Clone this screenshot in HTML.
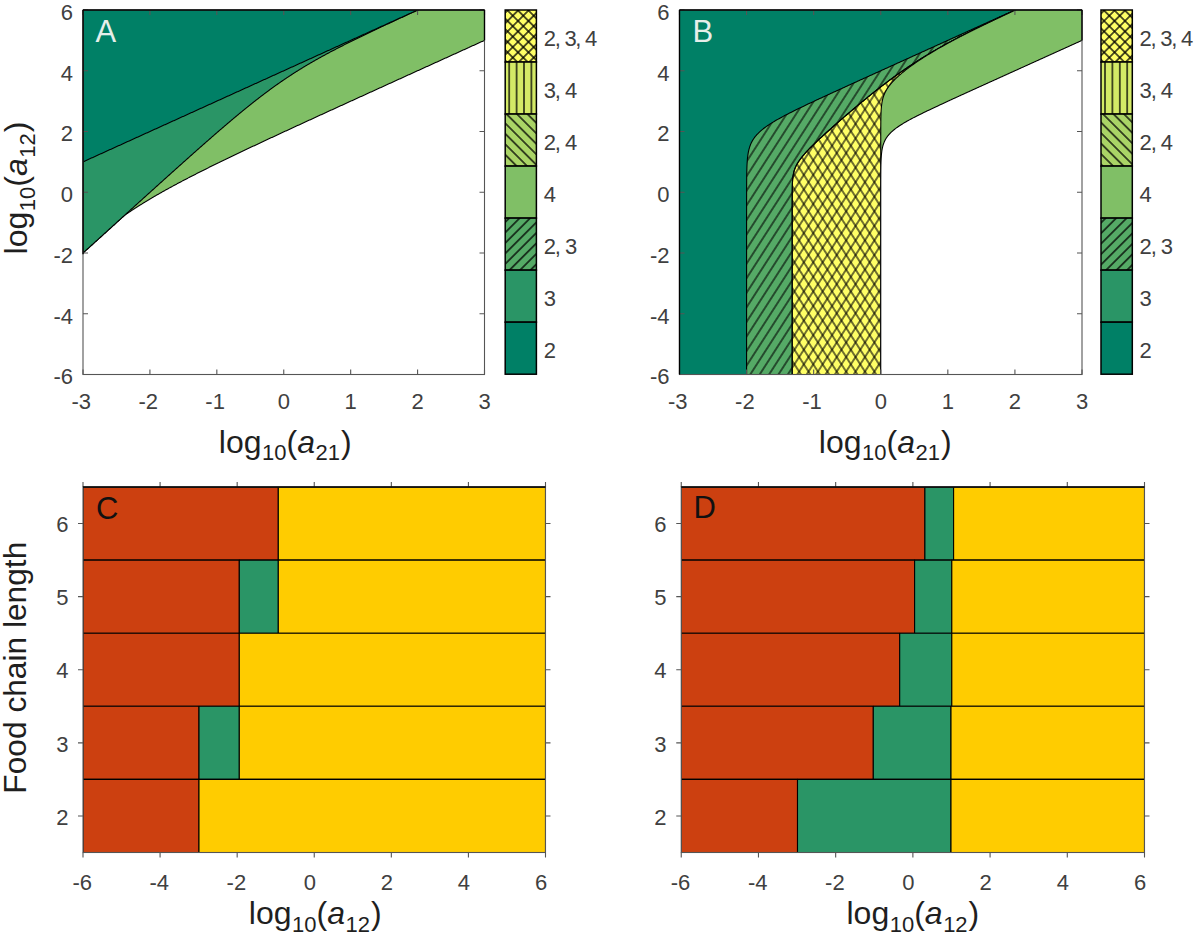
<!DOCTYPE html>
<html><head><meta charset="utf-8"><title>Figure</title>
<style>
html,body{margin:0;padding:0;background:#fff;width:1200px;height:936px;overflow:hidden}
svg{display:block}
text{font-family:"Liberation Sans",sans-serif}
.t{font-size:22px;fill:#404040}
.L{font-size:32px;fill:#1f1f1f}
.L .s{font-size:22px}
.P{font-size:31px}
</style></head><body>
<svg width="1200" height="936" viewBox="0 0 1200 936"><defs><pattern id="hB_f" patternUnits="userSpaceOnUse" width="7.9" height="20" patternTransform="rotate(32.83)"><rect x="3.4" y="0" width="1.1" height="20" fill="#000"/></pattern><pattern id="hB_b" patternUnits="userSpaceOnUse" width="7.9" height="20" patternTransform="rotate(-32.83)"><rect x="3.4" y="0" width="1.1" height="20" fill="#000"/></pattern><pattern id="hC_f" patternUnits="userSpaceOnUse" width="7.4" height="20" patternTransform="rotate(45)"><rect x="3.05" y="0" width="1.3" height="20" fill="#000"/></pattern><pattern id="hC_b" patternUnits="userSpaceOnUse" width="7.4" height="20" patternTransform="rotate(-45)"><rect x="3.05" y="0" width="1.3" height="20" fill="#000"/></pattern><pattern id="hC_v0" patternUnits="userSpaceOnUse" width="7.4" height="20" patternTransform="rotate(0) translate(2.3 0)"><rect x="3.05" y="0" width="1.3" height="20" fill="#000"/></pattern><pattern id="hC_v1" patternUnits="userSpaceOnUse" width="7.4" height="20" patternTransform="rotate(0) translate(6.1 0)"><rect x="3.05" y="0" width="1.3" height="20" fill="#000"/></pattern><clipPath id="clipA"><rect x="83" y="10" width="401.5" height="364.5"/></clipPath><clipPath id="clipB"><rect x="679.5" y="10" width="402.5" height="364.5"/></clipPath><clipPath id="clipC"><rect x="83" y="487" width="462.5" height="365.5"/></clipPath><clipPath id="clipD"><rect x="681.25" y="487" width="463.25" height="365.5"/></clipPath></defs><g clip-path="url(#clipA)">
<rect x="83" y="10" width="401.5" height="364.5" fill="#fff"/>
<path d="M83 253.01 L83.52 252.54 L84.04 252.07 L84.56 251.6 L85.08 251.13 L85.6 250.66 L86.12 250.19 L86.63 249.72 L87.15 249.24 L87.67 248.77 L88.19 248.3 L88.71 247.83 L89.23 247.36 L89.75 246.89 L90.27 246.42 L90.79 245.95 L91.31 245.48 L91.83 245 L92.35 244.53 L92.87 244.06 L93.39 243.59 L93.9 243.12 L94.42 242.65 L94.94 242.18 L95.46 241.71 L95.98 241.24 L96.5 240.76 L97.02 240.29 L97.54 239.82 L98.06 239.35 L98.58 238.88 L99.1 238.41 L99.62 237.94 L100.14 237.47 L100.65 237 L101.17 236.53 L101.69 236.05 L102.21 235.58 L102.73 235.11 L103.25 234.64 L103.77 234.17 L104.29 233.7 L104.81 233.23 L105.33 232.76 L105.85 232.29 L106.37 231.82 L106.89 231.35 L107.4 230.87 L107.92 230.4 L108.44 229.93 L108.96 229.46 L109.48 228.99 L110 228.52 L110.52 228.05 L111.04 227.58 L111.56 227.11 L112.08 226.64 L112.6 226.17 L113.12 225.7 L113.64 225.23 L114.16 224.75 L114.67 224.28 L115.19 223.81 L115.71 223.34 L116.23 222.87 L116.75 222.4 L117.27 221.93 L117.79 221.46 L118.31 220.99 L118.83 220.52 L119.35 220.05 L119.87 219.58 L120.39 219.11 L120.91 218.64 L121.42 218.17 L121.94 217.7 L122.46 217.22 L122.98 216.75 L123.5 216.28 L124.02 215.81 L124.54 215.34 L125.06 214.95 L125.58 214.6 L126.1 214.24 L126.62 213.89 L127.14 213.53 L127.66 213.18 L128.18 212.83 L128.69 212.48 L129.21 212.13 L129.73 211.78 L130.25 211.44 L130.77 211.09 L131.29 210.75 L131.81 210.4 L132.33 210.06 L132.85 209.72 L133.37 209.38 L133.89 209.04 L134.41 208.71 L134.93 208.37 L135.44 208.04 L135.96 207.7 L136.48 207.37 L137 207.04 L137.52 206.71 L138.04 206.38 L138.56 206.05 L139.08 205.72 L139.6 205.39 L140.12 205.07 L140.64 204.74 L141.16 204.42 L141.68 204.1 L142.19 203.77 L142.71 203.45 L143.23 203.13 L143.75 202.81 L144.27 202.49 L144.79 202.18 L145.31 201.86 L145.83 201.54 L146.35 201.23 L146.87 200.91 L147.39 200.6 L147.91 200.29 L148.43 199.98 L148.95 199.67 L149.46 199.36 L149.98 199.05 L150.5 198.74 L151.02 198.43 L151.54 198.12 L152.06 197.82 L152.58 197.51 L153.1 197.21 L153.62 196.9 L154.14 196.6 L154.66 196.3 L155.18 196 L155.7 195.69 L156.21 195.39 L156.73 195.09 L157.25 194.8 L157.77 194.5 L158.29 194.2 L158.81 193.9 L159.33 193.61 L159.85 193.31 L160.37 193.01 L160.89 192.72 L161.41 192.43 L161.93 192.13 L162.45 191.84 L162.96 191.55 L163.48 191.26 L164 190.97 L164.52 190.68 L165.04 190.39 L165.56 190.1 L166.08 189.81 L166.6 189.52 L167.12 189.23 L167.64 188.95 L168.16 188.66 L168.68 188.38 L169.2 188.09 L169.72 187.81 L170.23 187.52 L170.75 187.24 L171.27 186.95 L171.79 186.67 L172.31 186.39 L172.83 186.11 L173.35 185.83 L173.87 185.55 L174.39 185.27 L174.91 184.99 L175.43 184.71 L175.95 184.43 L176.47 184.15 L176.98 183.87 L177.5 183.6 L178.02 183.32 L178.54 183.04 L179.06 182.77 L179.58 182.49 L180.1 182.21 L180.62 181.94 L181.14 181.67 L181.66 181.39 L182.18 181.12 L182.7 180.85 L183.22 180.57 L183.74 180.3 L184.25 180.03 L184.77 179.76 L185.29 179.49 L185.81 179.21 L186.33 178.94 L186.85 178.67 L187.37 178.4 L187.89 178.13 L188.41 177.87 L188.93 177.6 L189.45 177.33 L189.97 177.06 L190.49 176.79 L191 176.53 L191.52 176.26 L192.04 175.99 L192.56 175.73 L193.08 175.46 L193.6 175.19 L194.12 174.93 L194.64 174.66 L195.16 174.4 L195.68 174.14 L196.2 173.87 L196.72 173.61 L197.24 173.34 L197.75 173.08 L198.27 172.82 L198.79 172.56 L199.31 172.29 L199.83 172.03 L200.35 171.77 L200.87 171.51 L201.39 171.25 L201.91 170.99 L202.43 170.73 L202.95 170.47 L203.47 170.21 L203.99 169.95 L204.51 169.69 L205.02 169.43 L205.54 169.17 L206.06 168.91 L206.58 168.65 L207.1 168.39 L207.62 168.13 L208.14 167.88 L208.66 167.62 L209.18 167.36 L209.7 167.1 L210.22 166.85 L210.74 166.59 L211.26 166.33 L211.77 166.08 L212.29 165.82 L212.81 165.57 L213.33 165.31 L213.85 165.05 L214.37 164.8 L214.89 164.54 L215.41 164.29 L215.93 164.04 L216.45 163.78 L216.97 163.53 L217.49 163.27 L218.01 163.02 L218.53 162.77 L219.04 162.51 L219.56 162.26 L220.08 162.01 L220.6 161.75 L221.12 161.5 L221.64 161.25 L222.16 161 L222.68 160.74 L223.2 160.49 L223.72 160.24 L224.24 159.99 L224.76 159.74 L225.28 159.49 L225.79 159.23 L226.31 158.98 L226.83 158.73 L227.35 158.48 L227.87 158.23 L228.39 157.98 L228.91 157.73 L229.43 157.48 L229.95 157.23 L230.47 156.98 L230.99 156.73 L231.51 156.48 L232.03 156.23 L232.54 155.98 L233.06 155.74 L233.58 155.49 L234.1 155.24 L234.62 154.99 L235.14 154.74 L235.66 154.49 L236.18 154.24 L236.7 154 L237.22 153.75 L237.74 153.5 L238.26 153.25 L238.78 153.01 L239.3 152.76 L239.81 152.51 L240.33 152.26 L240.85 152.02 L241.37 151.77 L241.89 151.52 L242.41 151.28 L242.93 151.03 L243.45 150.78 L243.97 150.54 L244.49 150.29 L245.01 150.05 L245.53 149.8 L246.05 149.55 L246.56 149.31 L247.08 149.06 L247.6 148.82 L248.12 148.57 L248.64 148.33 L249.16 148.08 L249.68 147.84 L250.2 147.59 L250.72 147.35 L251.24 147.1 L251.76 146.86 L252.28 146.61 L252.8 146.37 L253.32 146.12 L253.83 145.88 L254.35 145.64 L254.87 145.39 L255.39 145.15 L255.91 144.9 L256.43 144.66 L256.95 144.42 L257.47 144.17 L257.99 143.93 L258.51 143.68 L259.03 143.44 L259.55 143.2 L260.07 142.95 L260.58 142.71 L261.1 142.47 L261.62 142.23 L262.14 141.98 L262.66 141.74 L263.18 141.5 L263.7 141.25 L264.22 141.01 L264.74 140.77 L265.26 140.53 L265.78 140.28 L266.3 140.04 L266.82 139.8 L267.33 139.56 L267.85 139.31 L268.37 139.07 L268.89 138.83 L269.41 138.59 L269.93 138.35 L270.45 138.1 L270.97 137.86 L271.49 137.62 L272.01 137.38 L272.53 137.14 L273.05 136.9 L273.57 136.66 L274.09 136.41 L274.6 136.17 L275.12 135.93 L275.64 135.69 L276.16 135.45 L276.68 135.21 L277.2 134.97 L277.72 134.73 L278.24 134.48 L278.76 134.24 L279.28 134 L279.8 133.76 L280.32 133.52 L280.84 133.28 L281.35 133.04 L281.87 132.8 L282.39 132.56 L282.91 132.32 L283.43 132.08 L283.95 131.84 L284.47 131.6 L284.99 131.36 L285.51 131.12 L286.03 130.88 L286.55 130.64 L287.07 130.4 L287.59 130.16 L288.11 129.92 L288.62 129.68 L289.14 129.44 L289.66 129.2 L290.18 128.96 L290.7 128.72 L291.22 128.48 L291.74 128.24 L292.26 128 L292.78 127.76 L293.3 127.52 L293.82 127.28 L294.34 127.04 L294.86 126.8 L295.37 126.56 L295.89 126.32 L296.41 126.08 L296.93 125.84 L297.45 125.61 L297.97 125.37 L298.49 125.13 L299.01 124.89 L299.53 124.65 L300.05 124.41 L300.57 124.17 L301.09 123.93 L301.61 123.69 L302.12 123.45 L302.64 123.22 L303.16 122.98 L303.68 122.74 L304.2 122.5 L304.72 122.26 L305.24 122.02 L305.76 121.78 L306.28 121.54 L306.8 121.31 L307.32 121.07 L307.84 120.83 L308.36 120.59 L308.88 120.35 L309.39 120.11 L309.91 119.88 L310.43 119.64 L310.95 119.4 L311.47 119.16 L311.99 118.92 L312.51 118.68 L313.03 118.45 L313.55 118.21 L314.07 117.97 L314.59 117.73 L315.11 117.49 L315.63 117.25 L316.14 117.02 L316.66 116.78 L317.18 116.54 L317.7 116.3 L318.22 116.06 L318.74 115.83 L319.26 115.59 L319.78 115.35 L320.3 115.11 L320.82 114.87 L321.34 114.64 L321.86 114.4 L322.38 114.16 L322.89 113.92 L323.41 113.69 L323.93 113.45 L324.45 113.21 L324.97 112.97 L325.49 112.73 L326.01 112.5 L326.53 112.26 L327.05 112.02 L327.57 111.78 L328.09 111.55 L328.61 111.31 L329.13 111.07 L329.65 110.83 L330.16 110.6 L330.68 110.36 L331.2 110.12 L331.72 109.88 L332.24 109.65 L332.76 109.41 L333.28 109.17 L333.8 108.93 L334.32 108.7 L334.84 108.46 L335.36 108.22 L335.88 107.99 L336.4 107.75 L336.91 107.51 L337.43 107.27 L337.95 107.04 L338.47 106.8 L338.99 106.56 L339.51 106.33 L340.03 106.09 L340.55 105.85 L341.07 105.61 L341.59 105.38 L342.11 105.14 L342.63 104.9 L343.15 104.67 L343.67 104.43 L344.18 104.19 L344.7 103.95 L345.22 103.72 L345.74 103.48 L346.26 103.24 L346.78 103.01 L347.3 102.77 L347.82 102.53 L348.34 102.3 L348.86 102.06 L349.38 101.82 L349.9 101.58 L350.42 101.35 L350.93 101.11 L351.45 100.87 L351.97 100.64 L352.49 100.4 L353.01 100.16 L353.53 99.93 L354.05 99.69 L354.57 99.45 L355.09 99.22 L355.61 98.98 L356.13 98.74 L356.65 98.51 L357.17 98.27 L357.68 98.03 L358.2 97.8 L358.72 97.56 L359.24 97.32 L359.76 97.09 L360.28 96.85 L360.8 96.61 L361.32 96.38 L361.84 96.14 L362.36 95.9 L362.88 95.67 L363.4 95.43 L363.92 95.19 L364.44 94.96 L364.95 94.72 L365.47 94.48 L365.99 94.25 L366.51 94.01 L367.03 93.77 L367.55 93.54 L368.07 93.3 L368.59 93.06 L369.11 92.83 L369.63 92.59 L370.15 92.35 L370.67 92.12 L371.19 91.88 L371.7 91.65 L372.22 91.41 L372.74 91.17 L373.26 90.94 L373.78 90.7 L374.3 90.46 L374.82 90.23 L375.34 89.99 L375.86 89.75 L376.38 89.52 L376.9 89.28 L377.42 89.04 L377.94 88.81 L378.46 88.57 L378.97 88.34 L379.49 88.1 L380.01 87.86 L380.53 87.63 L381.05 87.39 L381.57 87.15 L382.09 86.92 L382.61 86.68 L383.13 86.45 L383.65 86.21 L384.17 85.97 L384.69 85.74 L385.21 85.5 L385.72 85.26 L386.24 85.03 L386.76 84.79 L387.28 84.56 L387.8 84.32 L388.32 84.08 L388.84 83.85 L389.36 83.61 L389.88 83.37 L390.4 83.14 L390.92 82.9 L391.44 82.67 L391.96 82.43 L392.47 82.19 L392.99 81.96 L393.51 81.72 L394.03 81.48 L394.55 81.25 L395.07 81.01 L395.59 80.78 L396.11 80.54 L396.63 80.3 L397.15 80.07 L397.67 79.83 L398.19 79.6 L398.71 79.36 L399.23 79.12 L399.74 78.89 L400.26 78.65 L400.78 78.41 L401.3 78.18 L401.82 77.94 L402.34 77.71 L402.86 77.47 L403.38 77.23 L403.9 77 L404.42 76.76 L404.94 76.53 L405.46 76.29 L405.98 76.05 L406.49 75.82 L407.01 75.58 L407.53 75.35 L408.05 75.11 L408.57 74.87 L409.09 74.64 L409.61 74.4 L410.13 74.17 L410.65 73.93 L411.17 73.69 L411.69 73.46 L412.21 73.22 L412.73 72.99 L413.25 72.75 L413.76 72.51 L414.28 72.28 L414.8 72.04 L415.32 71.8 L415.84 71.57 L416.36 71.33 L416.88 71.1 L417.4 70.86 L417.92 70.62 L418.44 70.39 L418.96 70.15 L419.48 69.92 L420 69.68 L420.51 69.45 L421.03 69.21 L421.55 68.97 L422.07 68.74 L422.59 68.5 L423.11 68.27 L423.63 68.03 L424.15 67.79 L424.67 67.56 L425.19 67.32 L425.71 67.09 L426.23 66.85 L426.75 66.61 L427.26 66.38 L427.78 66.14 L428.3 65.91 L428.82 65.67 L429.34 65.43 L429.86 65.2 L430.38 64.96 L430.9 64.73 L431.42 64.49 L431.94 64.25 L432.46 64.02 L432.98 63.78 L433.5 63.55 L434.02 63.31 L434.53 63.07 L435.05 62.84 L435.57 62.6 L436.09 62.37 L436.61 62.13 L437.13 61.9 L437.65 61.66 L438.17 61.42 L438.69 61.19 L439.21 60.95 L439.73 60.72 L440.25 60.48 L440.77 60.24 L441.28 60.01 L441.8 59.77 L442.32 59.54 L442.84 59.3 L443.36 59.06 L443.88 58.83 L444.4 58.59 L444.92 58.36 L445.44 58.12 L445.96 57.89 L446.48 57.65 L447 57.41 L447.52 57.18 L448.04 56.94 L448.55 56.71 L449.07 56.47 L449.59 56.23 L450.11 56 L450.63 55.76 L451.15 55.53 L451.67 55.29 L452.19 55.05 L452.71 54.82 L453.23 54.58 L453.75 54.35 L454.27 54.11 L454.79 53.88 L455.3 53.64 L455.82 53.4 L456.34 53.17 L456.86 52.93 L457.38 52.7 L457.9 52.46 L458.42 52.22 L458.94 51.99 L459.46 51.75 L459.98 51.52 L460.5 51.28 L461.02 51.05 L461.54 50.81 L462.05 50.57 L462.57 50.34 L463.09 50.1 L463.61 49.87 L464.13 49.63 L464.65 49.4 L465.17 49.16 L465.69 48.92 L466.21 48.69 L466.73 48.45 L467.25 48.22 L467.77 47.98 L468.29 47.74 L468.81 47.51 L469.32 47.27 L469.84 47.04 L470.36 46.8 L470.88 46.57 L471.4 46.33 L471.92 46.09 L472.44 45.86 L472.96 45.62 L473.48 45.39 L474 45.15 L474.52 44.91 L475.04 44.68 L475.56 44.44 L476.07 44.21 L476.59 43.97 L477.11 43.74 L477.63 43.5 L478.15 43.26 L478.67 43.03 L479.19 42.79 L479.71 42.56 L480.23 42.32 L480.75 42.09 L481.27 41.85 L481.79 41.61 L482.31 41.38 L482.82 41.14 L483.34 40.91 L483.86 40.67 L484.38 40.44 L484.9 40.2 L485.42 39.96 L485.94 39.73 L486.46 39.49 L486.98 39.26 L487.5 39.02 L488.02 38.78 L488.54 38.55 L489.06 38.31 L489.58 38.08 L490.09 37.84 L490.61 37.61 L491.13 37.37 L491.65 37.13 L492.17 36.9 L492.69 36.66 L493.21 36.43 L493.73 36.19 L494.25 35.96 L494.77 35.72 L495.29 35.48 L495.81 35.25 L496.33 35.01 L496.84 34.78 L497.36 34.54 L497.88 34.31 L497.88 -5.19 L83 -5.19 Z" fill="#80bf66" stroke="#000" stroke-width="1.1" stroke-linejoin="round"/>
<path d="M83 253.01 L83.52 252.54 L84.04 252.07 L84.56 251.6 L85.08 251.13 L85.6 250.66 L86.12 250.19 L86.63 249.72 L87.15 249.24 L87.67 248.77 L88.19 248.3 L88.71 247.83 L89.23 247.36 L89.75 246.89 L90.27 246.42 L90.79 245.95 L91.31 245.48 L91.83 245 L92.35 244.53 L92.87 244.06 L93.39 243.59 L93.9 243.12 L94.42 242.65 L94.94 242.18 L95.46 241.71 L95.98 241.24 L96.5 240.76 L97.02 240.29 L97.54 239.82 L98.06 239.35 L98.58 238.88 L99.1 238.41 L99.62 237.94 L100.14 237.47 L100.65 237 L101.17 236.53 L101.69 236.05 L102.21 235.58 L102.73 235.11 L103.25 234.64 L103.77 234.17 L104.29 233.7 L104.81 233.23 L105.33 232.76 L105.85 232.29 L106.37 231.82 L106.89 231.35 L107.4 230.87 L107.92 230.4 L108.44 229.93 L108.96 229.46 L109.48 228.99 L110 228.52 L110.52 228.05 L111.04 227.58 L111.56 227.11 L112.08 226.64 L112.6 226.17 L113.12 225.7 L113.64 225.23 L114.16 224.75 L114.67 224.28 L115.19 223.81 L115.71 223.34 L116.23 222.87 L116.75 222.4 L117.27 221.93 L117.79 221.46 L118.31 220.99 L118.83 220.52 L119.35 220.05 L119.87 219.58 L120.39 219.11 L120.91 218.64 L121.42 218.17 L121.94 217.7 L122.46 217.22 L122.98 216.75 L123.5 216.28 L124.02 215.81 L124.54 215.34 L125.06 214.87 L125.58 214.4 L126.1 213.93 L126.62 213.46 L127.14 212.99 L127.66 212.52 L128.18 212.05 L128.69 211.58 L129.21 211.11 L129.73 210.64 L130.25 210.17 L130.77 209.7 L131.29 209.23 L131.81 208.76 L132.33 208.29 L132.85 207.82 L133.37 207.35 L133.89 206.88 L134.41 206.41 L134.93 205.94 L135.44 205.47 L135.96 205 L136.48 204.53 L137 204.06 L137.52 203.59 L138.04 203.12 L138.56 202.65 L139.08 202.18 L139.6 201.71 L140.12 201.24 L140.64 200.77 L141.16 200.3 L141.68 199.83 L142.19 199.36 L142.71 198.89 L143.23 198.42 L143.75 197.95 L144.27 197.48 L144.79 197.01 L145.31 196.54 L145.83 196.07 L146.35 195.61 L146.87 195.14 L147.39 194.67 L147.91 194.2 L148.43 193.73 L148.95 193.26 L149.46 192.79 L149.98 192.32 L150.5 191.85 L151.02 191.38 L151.54 190.91 L152.06 190.44 L152.58 189.98 L153.1 189.51 L153.62 189.04 L154.14 188.57 L154.66 188.1 L155.18 187.63 L155.7 187.16 L156.21 186.7 L156.73 186.23 L157.25 185.76 L157.77 185.29 L158.29 184.82 L158.81 184.35 L159.33 183.89 L159.85 183.42 L160.37 182.95 L160.89 182.48 L161.41 182.01 L161.93 181.54 L162.45 181.08 L162.96 180.61 L163.48 180.14 L164 179.67 L164.52 179.21 L165.04 178.74 L165.56 178.27 L166.08 177.8 L166.6 177.34 L167.12 176.87 L167.64 176.4 L168.16 175.93 L168.68 175.47 L169.2 175 L169.72 174.53 L170.23 174.07 L170.75 173.6 L171.27 173.13 L171.79 172.67 L172.31 172.2 L172.83 171.73 L173.35 171.27 L173.87 170.8 L174.39 170.34 L174.91 169.87 L175.43 169.4 L175.95 168.94 L176.47 168.47 L176.98 168.01 L177.5 167.54 L178.02 167.08 L178.54 166.61 L179.06 166.15 L179.58 165.68 L180.1 165.22 L180.62 164.75 L181.14 164.29 L181.66 163.82 L182.18 163.36 L182.7 162.89 L183.22 162.43 L183.74 161.96 L184.25 161.5 L184.77 161.04 L185.29 160.57 L185.81 160.11 L186.33 159.64 L186.85 159.18 L187.37 158.72 L187.89 158.26 L188.41 157.79 L188.93 157.33 L189.45 156.87 L189.97 156.4 L190.49 155.94 L191 155.48 L191.52 155.02 L192.04 154.56 L192.56 154.09 L193.08 153.63 L193.6 153.17 L194.12 152.71 L194.64 152.25 L195.16 151.79 L195.68 151.33 L196.2 150.87 L196.72 150.41 L197.24 149.95 L197.75 149.49 L198.27 149.03 L198.79 148.57 L199.31 148.11 L199.83 147.65 L200.35 147.19 L200.87 146.73 L201.39 146.27 L201.91 145.82 L202.43 145.36 L202.95 144.9 L203.47 144.44 L203.99 143.99 L204.51 143.53 L205.02 143.07 L205.54 142.61 L206.06 142.16 L206.58 141.7 L207.1 141.25 L207.62 140.79 L208.14 140.34 L208.66 139.88 L209.18 139.43 L209.7 138.97 L210.22 138.52 L210.74 138.06 L211.26 137.61 L211.77 137.16 L212.29 136.7 L212.81 136.25 L213.33 135.8 L213.85 135.35 L214.37 134.89 L214.89 134.44 L215.41 133.99 L215.93 133.54 L216.45 133.09 L216.97 132.64 L217.49 132.19 L218.01 131.74 L218.53 131.29 L219.04 130.84 L219.56 130.4 L220.08 129.95 L220.6 129.5 L221.12 129.05 L221.64 128.61 L222.16 128.16 L222.68 127.71 L223.2 127.27 L223.72 126.82 L224.24 126.38 L224.76 125.94 L225.28 125.49 L225.79 125.05 L226.31 124.61 L226.83 124.16 L227.35 123.72 L227.87 123.28 L228.39 122.84 L228.91 122.4 L229.43 121.96 L229.95 121.52 L230.47 121.08 L230.99 120.64 L231.51 120.2 L232.03 119.76 L232.54 119.33 L233.06 118.89 L233.58 118.45 L234.1 118.02 L234.62 117.58 L235.14 117.15 L235.66 116.72 L236.18 116.28 L236.7 115.85 L237.22 115.42 L237.74 114.99 L238.26 114.55 L238.78 114.12 L239.3 113.69 L239.81 113.27 L240.33 112.84 L240.85 112.41 L241.37 111.98 L241.89 111.56 L242.41 111.13 L242.93 110.7 L243.45 110.28 L243.97 109.86 L244.49 109.43 L245.01 109.01 L245.53 108.59 L246.05 108.17 L246.56 107.75 L247.08 107.33 L247.6 106.91 L248.12 106.49 L248.64 106.07 L249.16 105.65 L249.68 105.24 L250.2 104.82 L250.72 104.41 L251.24 104 L251.76 103.58 L252.28 103.17 L252.8 102.76 L253.32 102.35 L253.83 101.94 L254.35 101.53 L254.87 101.12 L255.39 100.71 L255.91 100.31 L256.43 99.9 L256.95 99.5 L257.47 99.09 L257.99 98.69 L258.51 98.29 L259.03 97.89 L259.55 97.49 L260.07 97.09 L260.58 96.69 L261.1 96.29 L261.62 95.89 L262.14 95.5 L262.66 95.1 L263.18 94.71 L263.7 94.32 L264.22 93.92 L264.74 93.53 L265.26 93.14 L265.78 92.75 L266.3 92.36 L266.82 91.98 L267.33 91.59 L267.85 91.2 L268.37 90.82 L268.89 90.44 L269.41 90.05 L269.93 89.67 L270.45 89.29 L270.97 88.91 L271.49 88.53 L272.01 88.16 L272.53 87.78 L273.05 87.4 L273.57 87.03 L274.09 86.66 L274.6 86.28 L275.12 85.91 L275.64 85.54 L276.16 85.17 L276.68 84.8 L277.2 84.44 L277.72 84.07 L278.24 83.71 L278.76 83.34 L279.28 82.98 L279.8 82.62 L280.32 82.25 L280.84 81.89 L281.35 81.54 L281.87 81.18 L282.39 80.82 L282.91 80.47 L283.43 80.11 L283.95 79.76 L284.47 79.4 L284.99 79.05 L285.51 78.7 L286.03 78.35 L286.55 78 L287.07 77.66 L287.59 77.31 L288.11 76.97 L288.62 76.62 L289.14 76.28 L289.66 75.94 L290.18 75.59 L290.7 75.25 L291.22 74.92 L291.74 74.58 L292.26 74.24 L292.78 73.91 L293.3 73.57 L293.82 73.24 L294.34 72.9 L294.86 72.57 L295.37 72.24 L295.89 71.91 L296.41 71.58 L296.93 71.25 L297.45 70.93 L297.97 70.6 L298.49 70.28 L299.01 69.95 L299.53 69.63 L300.05 69.31 L300.57 68.99 L301.09 68.67 L301.61 68.35 L302.12 68.03 L302.64 67.71 L303.16 67.4 L303.68 67.08 L304.2 66.77 L304.72 66.46 L305.24 66.14 L305.76 65.83 L306.28 65.52 L306.8 65.21 L307.32 64.9 L307.84 64.6 L308.36 64.29 L308.88 63.98 L309.39 63.68 L309.91 63.37 L310.43 63.07 L310.95 62.77 L311.47 62.47 L311.99 62.16 L312.51 61.86 L313.03 61.57 L313.55 61.27 L314.07 60.97 L314.59 60.67 L315.11 60.38 L315.63 60.08 L316.14 59.79 L316.66 59.49 L317.18 59.2 L317.7 58.91 L318.22 58.62 L318.74 58.33 L319.26 58.04 L319.78 57.75 L320.3 57.46 L320.82 57.17 L321.34 56.89 L321.86 56.6 L322.38 56.31 L322.89 56.03 L323.41 55.75 L323.93 55.46 L324.45 55.18 L324.97 54.9 L325.49 54.62 L326.01 54.34 L326.53 54.06 L327.05 53.78 L327.57 53.5 L328.09 53.22 L328.61 52.94 L329.13 52.67 L329.65 52.39 L330.16 52.11 L330.68 51.84 L331.2 51.56 L331.72 51.29 L332.24 51.02 L332.76 50.74 L333.28 50.47 L333.8 50.2 L334.32 49.93 L334.84 49.66 L335.36 49.39 L335.88 49.12 L336.4 48.85 L336.91 48.58 L337.43 48.31 L337.95 48.05 L338.47 47.78 L338.99 47.51 L339.51 47.25 L340.03 46.98 L340.55 46.71 L341.07 46.45 L341.59 46.19 L342.11 45.92 L342.63 45.66 L343.15 45.4 L343.67 45.13 L344.18 44.87 L344.7 44.61 L345.22 44.35 L345.74 44.09 L346.26 43.83 L346.78 43.57 L347.3 43.31 L347.82 43.05 L348.34 42.79 L348.86 42.53 L349.38 42.27 L349.9 42.01 L350.42 41.76 L350.93 41.5 L351.45 41.24 L351.97 40.99 L352.49 40.73 L353.01 40.47 L353.53 40.22 L354.05 39.96 L354.57 39.71 L355.09 39.45 L355.61 39.2 L356.13 38.95 L356.65 38.69 L357.17 38.44 L357.68 38.19 L358.2 37.93 L358.72 37.68 L359.24 37.43 L359.76 37.18 L360.28 36.93 L360.8 36.67 L361.32 36.42 L361.84 36.17 L362.36 35.92 L362.88 35.67 L363.4 35.42 L363.92 35.17 L364.44 34.92 L364.95 34.67 L365.47 34.42 L365.99 34.17 L366.51 33.93 L367.03 33.68 L367.55 33.43 L368.07 33.18 L368.59 32.93 L369.11 32.69 L369.63 32.44 L370.15 32.19 L370.67 31.94 L371.19 31.7 L371.7 31.45 L372.22 31.2 L372.74 30.96 L373.26 30.71 L373.78 30.46 L374.3 30.22 L374.82 29.97 L375.34 29.73 L375.86 29.48 L376.38 29.24 L376.9 28.99 L377.42 28.75 L377.94 28.5 L378.46 28.26 L378.97 28.01 L379.49 27.77 L380.01 27.53 L380.53 27.28 L381.05 27.04 L381.57 26.79 L382.09 26.55 L382.61 26.31 L383.13 26.06 L383.65 25.82 L384.17 25.58 L384.69 25.34 L385.21 25.09 L385.72 24.85 L386.24 24.61 L386.76 24.37 L387.28 24.12 L387.8 23.88 L388.32 23.64 L388.84 23.4 L389.36 23.16 L389.88 22.91 L390.4 22.67 L390.92 22.43 L391.44 22.19 L391.96 21.95 L392.47 21.71 L392.99 21.47 L393.51 21.22 L394.03 20.98 L394.55 20.74 L395.07 20.5 L395.59 20.26 L396.11 20.02 L396.63 19.78 L397.15 19.54 L397.67 19.3 L398.19 19.06 L398.71 18.82 L399.23 18.58 L399.74 18.34 L400.26 18.1 L400.78 17.86 L401.3 17.62 L401.82 17.38 L402.34 17.14 L402.86 16.9 L403.38 16.66 L403.9 16.42 L404.42 16.18 L404.94 15.94 L405.46 15.7 L405.98 15.46 L406.49 15.23 L407.01 14.99 L407.53 14.75 L408.05 14.51 L408.57 14.27 L409.09 14.03 L409.61 13.79 L410.13 13.55 L410.65 13.31 L411.17 13.08 L411.69 12.84 L412.21 12.6 L412.73 12.36 L413.25 12.12 L413.76 11.88 L414.28 11.64 L414.8 11.41 L415.32 11.17 L415.84 10.93 L416.36 10.69 L416.88 10.45 L417.4 10.22 L417.92 9.98 L418.44 9.74 L418.96 9.5 L419.48 9.26 L420 9.03 L420.51 8.79 L421.03 8.55 L421.55 8.31 L422.07 8.07 L422.59 7.84 L423.11 7.6 L423.63 7.36 L424.15 7.12 L424.67 6.89 L425.19 6.65 L425.71 6.41 L426.23 6.17 L426.75 5.94 L427.26 5.7 L427.78 5.46 L428.3 5.22 L428.82 4.99 L429.34 4.75 L429.86 4.51 L430.38 4.28 L430.9 4.04 L431.42 3.8 L431.94 3.56 L432.46 3.33 L432.98 3.09 L433.5 2.85 L434.02 2.62 L434.53 2.38 L435.05 2.14 L435.57 1.9 L436.09 1.67 L436.61 1.43 L437.13 1.19 L437.65 0.96 L438.17 0.72 L438.69 0.48 L439.21 0.25 L439.73 0.01 L440.25 -0.23 L440.77 -0.46 L441.28 -0.7 L441.8 -0.94 L442.32 -1.17 L442.84 -1.41 L443.36 -1.65 L443.88 -1.88 L444.4 -2.12 L444.92 -2.36 L445.44 -2.59 L445.96 -2.83 L446.48 -3.07 L447 -3.3 L447.52 -3.54 L448.04 -3.78 L448.55 -4.01 L449.07 -4.25 L449.59 -4.49 L450.11 -4.72 L450.63 -4.96 L451.15 -5.19 L451.67 -5.19 L452.19 -5.19 L452.71 -5.19 L453.23 -5.19 L453.75 -5.19 L454.27 -5.19 L454.79 -5.19 L455.3 -5.19 L455.82 -5.19 L456.34 -5.19 L456.86 -5.19 L457.38 -5.19 L457.9 -5.19 L458.42 -5.19 L458.94 -5.19 L459.46 -5.19 L459.98 -5.19 L460.5 -5.19 L461.02 -5.19 L461.54 -5.19 L462.05 -5.19 L462.57 -5.19 L463.09 -5.19 L463.61 -5.19 L464.13 -5.19 L464.65 -5.19 L465.17 -5.19 L465.69 -5.19 L466.21 -5.19 L466.73 -5.19 L467.25 -5.19 L467.77 -5.19 L468.29 -5.19 L468.81 -5.19 L469.32 -5.19 L469.84 -5.19 L470.36 -5.19 L470.88 -5.19 L471.4 -5.19 L471.92 -5.19 L472.44 -5.19 L472.96 -5.19 L473.48 -5.19 L474 -5.19 L474.52 -5.19 L475.04 -5.19 L475.56 -5.19 L476.07 -5.19 L476.59 -5.19 L477.11 -5.19 L477.63 -5.19 L478.15 -5.19 L478.67 -5.19 L479.19 -5.19 L479.71 -5.19 L480.23 -5.19 L480.75 -5.19 L481.27 -5.19 L481.79 -5.19 L482.31 -5.19 L482.82 -5.19 L483.34 -5.19 L483.86 -5.19 L484.38 -5.19 L484.9 -5.19 L485.42 -5.19 L485.94 -5.19 L486.46 -5.19 L486.98 -5.19 L487.5 -5.19 L488.02 -5.19 L488.54 -5.19 L489.06 -5.19 L489.58 -5.19 L490.09 -5.19 L490.61 -5.19 L491.13 -5.19 L491.65 -5.19 L492.17 -5.19 L492.69 -5.19 L493.21 -5.19 L493.73 -5.19 L494.25 -5.19 L494.77 -5.19 L495.29 -5.19 L495.81 -5.19 L496.33 -5.19 L496.84 -5.19 L497.36 -5.19 L497.88 -5.19 L497.88 -5.19 L83 -5.19 Z" fill="#2a9566" stroke="#000" stroke-width="1.1" stroke-linejoin="round"/>
<path d="M83 161.88 L83.52 161.64 L84.04 161.4 L84.56 161.17 L85.08 160.93 L85.6 160.7 L86.12 160.46 L86.63 160.23 L87.15 159.99 L87.67 159.75 L88.19 159.52 L88.71 159.28 L89.23 159.05 L89.75 158.81 L90.27 158.58 L90.79 158.34 L91.31 158.1 L91.83 157.87 L92.35 157.63 L92.87 157.4 L93.39 157.16 L93.9 156.93 L94.42 156.69 L94.94 156.45 L95.46 156.22 L95.98 155.98 L96.5 155.75 L97.02 155.51 L97.54 155.28 L98.06 155.04 L98.58 154.8 L99.1 154.57 L99.62 154.33 L100.14 154.1 L100.65 153.86 L101.17 153.63 L101.69 153.39 L102.21 153.15 L102.73 152.92 L103.25 152.68 L103.77 152.45 L104.29 152.21 L104.81 151.98 L105.33 151.74 L105.85 151.5 L106.37 151.27 L106.89 151.03 L107.4 150.8 L107.92 150.56 L108.44 150.33 L108.96 150.09 L109.48 149.85 L110 149.62 L110.52 149.38 L111.04 149.15 L111.56 148.91 L112.08 148.68 L112.6 148.44 L113.12 148.2 L113.64 147.97 L114.16 147.73 L114.67 147.5 L115.19 147.26 L115.71 147.03 L116.23 146.79 L116.75 146.55 L117.27 146.32 L117.79 146.08 L118.31 145.85 L118.83 145.61 L119.35 145.38 L119.87 145.14 L120.39 144.9 L120.91 144.67 L121.42 144.43 L121.94 144.2 L122.46 143.96 L122.98 143.73 L123.5 143.49 L124.02 143.25 L124.54 143.02 L125.06 142.78 L125.58 142.55 L126.1 142.31 L126.62 142.08 L127.14 141.84 L127.66 141.6 L128.18 141.37 L128.69 141.13 L129.21 140.9 L129.73 140.66 L130.25 140.43 L130.77 140.19 L131.29 139.95 L131.81 139.72 L132.33 139.48 L132.85 139.25 L133.37 139.01 L133.89 138.78 L134.41 138.54 L134.93 138.3 L135.44 138.07 L135.96 137.83 L136.48 137.6 L137 137.36 L137.52 137.13 L138.04 136.89 L138.56 136.66 L139.08 136.42 L139.6 136.18 L140.12 135.95 L140.64 135.71 L141.16 135.48 L141.68 135.24 L142.19 135.01 L142.71 134.77 L143.23 134.53 L143.75 134.3 L144.27 134.06 L144.79 133.83 L145.31 133.59 L145.83 133.36 L146.35 133.12 L146.87 132.88 L147.39 132.65 L147.91 132.41 L148.43 132.18 L148.95 131.94 L149.46 131.71 L149.98 131.47 L150.5 131.23 L151.02 131 L151.54 130.76 L152.06 130.53 L152.58 130.29 L153.1 130.06 L153.62 129.82 L154.14 129.58 L154.66 129.35 L155.18 129.11 L155.7 128.88 L156.21 128.64 L156.73 128.41 L157.25 128.17 L157.77 127.93 L158.29 127.7 L158.81 127.46 L159.33 127.23 L159.85 126.99 L160.37 126.76 L160.89 126.52 L161.41 126.28 L161.93 126.05 L162.45 125.81 L162.96 125.58 L163.48 125.34 L164 125.11 L164.52 124.87 L165.04 124.63 L165.56 124.4 L166.08 124.16 L166.6 123.93 L167.12 123.69 L167.64 123.46 L168.16 123.22 L168.68 122.98 L169.2 122.75 L169.72 122.51 L170.23 122.28 L170.75 122.04 L171.27 121.81 L171.79 121.57 L172.31 121.33 L172.83 121.1 L173.35 120.86 L173.87 120.63 L174.39 120.39 L174.91 120.16 L175.43 119.92 L175.95 119.68 L176.47 119.45 L176.98 119.21 L177.5 118.98 L178.02 118.74 L178.54 118.51 L179.06 118.27 L179.58 118.03 L180.1 117.8 L180.62 117.56 L181.14 117.33 L181.66 117.09 L182.18 116.86 L182.7 116.62 L183.22 116.38 L183.74 116.15 L184.25 115.91 L184.77 115.68 L185.29 115.44 L185.81 115.21 L186.33 114.97 L186.85 114.73 L187.37 114.5 L187.89 114.26 L188.41 114.03 L188.93 113.79 L189.45 113.56 L189.97 113.32 L190.49 113.08 L191 112.85 L191.52 112.61 L192.04 112.38 L192.56 112.14 L193.08 111.91 L193.6 111.67 L194.12 111.44 L194.64 111.2 L195.16 110.96 L195.68 110.73 L196.2 110.49 L196.72 110.26 L197.24 110.02 L197.75 109.79 L198.27 109.55 L198.79 109.31 L199.31 109.08 L199.83 108.84 L200.35 108.61 L200.87 108.37 L201.39 108.14 L201.91 107.9 L202.43 107.66 L202.95 107.43 L203.47 107.19 L203.99 106.96 L204.51 106.72 L205.02 106.49 L205.54 106.25 L206.06 106.01 L206.58 105.78 L207.1 105.54 L207.62 105.31 L208.14 105.07 L208.66 104.84 L209.18 104.6 L209.7 104.36 L210.22 104.13 L210.74 103.89 L211.26 103.66 L211.77 103.42 L212.29 103.19 L212.81 102.95 L213.33 102.71 L213.85 102.48 L214.37 102.24 L214.89 102.01 L215.41 101.77 L215.93 101.54 L216.45 101.3 L216.97 101.06 L217.49 100.83 L218.01 100.59 L218.53 100.36 L219.04 100.12 L219.56 99.89 L220.08 99.65 L220.6 99.41 L221.12 99.18 L221.64 98.94 L222.16 98.71 L222.68 98.47 L223.2 98.24 L223.72 98 L224.24 97.76 L224.76 97.53 L225.28 97.29 L225.79 97.06 L226.31 96.82 L226.83 96.59 L227.35 96.35 L227.87 96.11 L228.39 95.88 L228.91 95.64 L229.43 95.41 L229.95 95.17 L230.47 94.94 L230.99 94.7 L231.51 94.46 L232.03 94.23 L232.54 93.99 L233.06 93.76 L233.58 93.52 L234.1 93.29 L234.62 93.05 L235.14 92.81 L235.66 92.58 L236.18 92.34 L236.7 92.11 L237.22 91.87 L237.74 91.64 L238.26 91.4 L238.78 91.16 L239.3 90.93 L239.81 90.69 L240.33 90.46 L240.85 90.22 L241.37 89.99 L241.89 89.75 L242.41 89.51 L242.93 89.28 L243.45 89.04 L243.97 88.81 L244.49 88.57 L245.01 88.34 L245.53 88.1 L246.05 87.86 L246.56 87.63 L247.08 87.39 L247.6 87.16 L248.12 86.92 L248.64 86.69 L249.16 86.45 L249.68 86.22 L250.2 85.98 L250.72 85.74 L251.24 85.51 L251.76 85.27 L252.28 85.04 L252.8 84.8 L253.32 84.57 L253.83 84.33 L254.35 84.09 L254.87 83.86 L255.39 83.62 L255.91 83.39 L256.43 83.15 L256.95 82.92 L257.47 82.68 L257.99 82.44 L258.51 82.21 L259.03 81.97 L259.55 81.74 L260.07 81.5 L260.58 81.27 L261.1 81.03 L261.62 80.79 L262.14 80.56 L262.66 80.32 L263.18 80.09 L263.7 79.85 L264.22 79.62 L264.74 79.38 L265.26 79.14 L265.78 78.91 L266.3 78.67 L266.82 78.44 L267.33 78.2 L267.85 77.97 L268.37 77.73 L268.89 77.49 L269.41 77.26 L269.93 77.02 L270.45 76.79 L270.97 76.55 L271.49 76.32 L272.01 76.08 L272.53 75.84 L273.05 75.61 L273.57 75.37 L274.09 75.14 L274.6 74.9 L275.12 74.67 L275.64 74.43 L276.16 74.19 L276.68 73.96 L277.2 73.72 L277.72 73.49 L278.24 73.25 L278.76 73.02 L279.28 72.78 L279.8 72.54 L280.32 72.31 L280.84 72.07 L281.35 71.84 L281.87 71.6 L282.39 71.37 L282.91 71.13 L283.43 70.89 L283.95 70.66 L284.47 70.42 L284.99 70.19 L285.51 69.95 L286.03 69.72 L286.55 69.48 L287.07 69.24 L287.59 69.01 L288.11 68.77 L288.62 68.54 L289.14 68.3 L289.66 68.07 L290.18 67.83 L290.7 67.59 L291.22 67.36 L291.74 67.12 L292.26 66.89 L292.78 66.65 L293.3 66.42 L293.82 66.18 L294.34 65.94 L294.86 65.71 L295.37 65.47 L295.89 65.24 L296.41 65 L296.93 64.77 L297.45 64.53 L297.97 64.29 L298.49 64.06 L299.01 63.82 L299.53 63.59 L300.05 63.35 L300.57 63.12 L301.09 62.88 L301.61 62.64 L302.12 62.41 L302.64 62.17 L303.16 61.94 L303.68 61.7 L304.2 61.47 L304.72 61.23 L305.24 61 L305.76 60.76 L306.28 60.52 L306.8 60.29 L307.32 60.05 L307.84 59.82 L308.36 59.58 L308.88 59.35 L309.39 59.11 L309.91 58.87 L310.43 58.64 L310.95 58.4 L311.47 58.17 L311.99 57.93 L312.51 57.7 L313.03 57.46 L313.55 57.22 L314.07 56.99 L314.59 56.75 L315.11 56.52 L315.63 56.28 L316.14 56.05 L316.66 55.81 L317.18 55.57 L317.7 55.34 L318.22 55.1 L318.74 54.87 L319.26 54.63 L319.78 54.4 L320.3 54.16 L320.82 53.92 L321.34 53.69 L321.86 53.45 L322.38 53.22 L322.89 52.98 L323.41 52.75 L323.93 52.51 L324.45 52.27 L324.97 52.04 L325.49 51.8 L326.01 51.57 L326.53 51.33 L327.05 51.1 L327.57 50.86 L328.09 50.62 L328.61 50.39 L329.13 50.15 L329.65 49.92 L330.16 49.68 L330.68 49.45 L331.2 49.21 L331.72 48.97 L332.24 48.74 L332.76 48.5 L333.28 48.27 L333.8 48.03 L334.32 47.8 L334.84 47.56 L335.36 47.32 L335.88 47.09 L336.4 46.85 L336.91 46.62 L337.43 46.38 L337.95 46.15 L338.47 45.91 L338.99 45.67 L339.51 45.44 L340.03 45.2 L340.55 44.97 L341.07 44.73 L341.59 44.5 L342.11 44.26 L342.63 44.02 L343.15 43.79 L343.67 43.55 L344.18 43.32 L344.7 43.08 L345.22 42.85 L345.74 42.61 L346.26 42.37 L346.78 42.14 L347.3 41.9 L347.82 41.67 L348.34 41.43 L348.86 41.2 L349.38 40.96 L349.9 40.72 L350.42 40.49 L350.93 40.25 L351.45 40.02 L351.97 39.78 L352.49 39.55 L353.01 39.31 L353.53 39.07 L354.05 38.84 L354.57 38.6 L355.09 38.37 L355.61 38.13 L356.13 37.9 L356.65 37.66 L357.17 37.42 L357.68 37.19 L358.2 36.95 L358.72 36.72 L359.24 36.48 L359.76 36.25 L360.28 36.01 L360.8 35.78 L361.32 35.54 L361.84 35.3 L362.36 35.07 L362.88 34.83 L363.4 34.6 L363.92 34.36 L364.44 34.13 L364.95 33.89 L365.47 33.65 L365.99 33.42 L366.51 33.18 L367.03 32.95 L367.55 32.71 L368.07 32.48 L368.59 32.24 L369.11 32 L369.63 31.77 L370.15 31.53 L370.67 31.3 L371.19 31.06 L371.7 30.83 L372.22 30.59 L372.74 30.35 L373.26 30.12 L373.78 29.88 L374.3 29.65 L374.82 29.41 L375.34 29.18 L375.86 28.94 L376.38 28.7 L376.9 28.47 L377.42 28.23 L377.94 28 L378.46 27.76 L378.97 27.53 L379.49 27.29 L380.01 27.05 L380.53 26.82 L381.05 26.58 L381.57 26.35 L382.09 26.11 L382.61 25.88 L383.13 25.64 L383.65 25.4 L384.17 25.17 L384.69 24.93 L385.21 24.7 L385.72 24.46 L386.24 24.23 L386.76 23.99 L387.28 23.75 L387.8 23.52 L388.32 23.28 L388.84 23.05 L389.36 22.81 L389.88 22.58 L390.4 22.34 L390.92 22.1 L391.44 21.87 L391.96 21.63 L392.47 21.4 L392.99 21.16 L393.51 20.93 L394.03 20.69 L394.55 20.45 L395.07 20.22 L395.59 19.98 L396.11 19.75 L396.63 19.51 L397.15 19.28 L397.67 19.04 L398.19 18.8 L398.71 18.57 L399.23 18.33 L399.74 18.1 L400.26 17.86 L400.78 17.63 L401.3 17.39 L401.82 17.15 L402.34 16.92 L402.86 16.68 L403.38 16.45 L403.9 16.21 L404.42 15.98 L404.94 15.74 L405.46 15.5 L405.98 15.27 L406.49 15.03 L407.01 14.8 L407.53 14.56 L408.05 14.33 L408.57 14.09 L409.09 13.85 L409.61 13.62 L410.13 13.38 L410.65 13.15 L411.17 12.91 L411.69 12.68 L412.21 12.44 L412.73 12.2 L413.25 11.97 L413.76 11.73 L414.28 11.5 L414.8 11.26 L415.32 11.03 L415.84 10.79 L416.36 10.56 L416.88 10.32 L417.4 10.08 L417.92 9.85 L418.44 9.61 L418.96 9.38 L419.48 9.14 L420 8.91 L420.51 8.67 L421.03 8.43 L421.55 8.2 L422.07 7.96 L422.59 7.73 L423.11 7.49 L423.63 7.26 L424.15 7.02 L424.67 6.78 L425.19 6.55 L425.71 6.31 L426.23 6.08 L426.75 5.84 L427.26 5.61 L427.78 5.37 L428.3 5.13 L428.82 4.9 L429.34 4.66 L429.86 4.43 L430.38 4.19 L430.9 3.96 L431.42 3.72 L431.94 3.48 L432.46 3.25 L432.98 3.01 L433.5 2.78 L434.02 2.54 L434.53 2.31 L435.05 2.07 L435.57 1.83 L436.09 1.6 L436.61 1.36 L437.13 1.13 L437.65 0.89 L438.17 0.66 L438.69 0.42 L439.21 0.18 L439.73 -0.05 L440.25 -0.29 L440.77 -0.52 L441.28 -0.76 L441.8 -0.99 L442.32 -1.23 L442.84 -1.47 L443.36 -1.7 L443.88 -1.94 L444.4 -2.17 L444.92 -2.41 L445.44 -2.64 L445.96 -2.88 L446.48 -3.12 L447 -3.35 L447.52 -3.59 L448.04 -3.82 L448.55 -4.06 L449.07 -4.29 L449.59 -4.53 L450.11 -4.77 L450.63 -5 L451.15 -5.19 L451.67 -5.19 L452.19 -5.19 L452.71 -5.19 L453.23 -5.19 L453.75 -5.19 L454.27 -5.19 L454.79 -5.19 L455.3 -5.19 L455.82 -5.19 L456.34 -5.19 L456.86 -5.19 L457.38 -5.19 L457.9 -5.19 L458.42 -5.19 L458.94 -5.19 L459.46 -5.19 L459.98 -5.19 L460.5 -5.19 L461.02 -5.19 L461.54 -5.19 L462.05 -5.19 L462.57 -5.19 L463.09 -5.19 L463.61 -5.19 L464.13 -5.19 L464.65 -5.19 L465.17 -5.19 L465.69 -5.19 L466.21 -5.19 L466.73 -5.19 L467.25 -5.19 L467.77 -5.19 L468.29 -5.19 L468.81 -5.19 L469.32 -5.19 L469.84 -5.19 L470.36 -5.19 L470.88 -5.19 L471.4 -5.19 L471.92 -5.19 L472.44 -5.19 L472.96 -5.19 L473.48 -5.19 L474 -5.19 L474.52 -5.19 L475.04 -5.19 L475.56 -5.19 L476.07 -5.19 L476.59 -5.19 L477.11 -5.19 L477.63 -5.19 L478.15 -5.19 L478.67 -5.19 L479.19 -5.19 L479.71 -5.19 L480.23 -5.19 L480.75 -5.19 L481.27 -5.19 L481.79 -5.19 L482.31 -5.19 L482.82 -5.19 L483.34 -5.19 L483.86 -5.19 L484.38 -5.19 L484.9 -5.19 L485.42 -5.19 L485.94 -5.19 L486.46 -5.19 L486.98 -5.19 L487.5 -5.19 L488.02 -5.19 L488.54 -5.19 L489.06 -5.19 L489.58 -5.19 L490.09 -5.19 L490.61 -5.19 L491.13 -5.19 L491.65 -5.19 L492.17 -5.19 L492.69 -5.19 L493.21 -5.19 L493.73 -5.19 L494.25 -5.19 L494.77 -5.19 L495.29 -5.19 L495.81 -5.19 L496.33 -5.19 L496.84 -5.19 L497.36 -5.19 L497.88 -5.19 L497.88 -5.19 L83 -5.19 Z" fill="#008066" stroke="#000" stroke-width="1.1" stroke-linejoin="round"/>
</g>
<g clip-path="url(#clipB)">
<rect x="679.5" y="10" width="402.5" height="364.5" fill="#008066"/>
<path d="M746.58 404.88 L746.58 262.35 L746.58 261.99 L746.58 261.64 L746.58 261.28 L746.58 260.93 L746.58 260.57 L746.58 260.22 L746.58 259.86 L746.58 259.51 L746.58 259.15 L746.58 258.8 L746.58 258.44 L746.58 258.09 L746.58 257.73 L746.58 257.38 L746.58 257.02 L746.58 256.67 L746.58 256.31 L746.58 255.95 L746.58 255.6 L746.58 255.24 L746.58 254.89 L746.58 254.53 L746.58 254.18 L746.58 253.82 L746.58 253.47 L746.58 253.11 L746.58 252.76 L746.58 252.4 L746.58 252.05 L746.58 251.69 L746.58 251.34 L746.58 250.98 L746.58 250.63 L746.58 250.27 L746.58 249.92 L746.58 249.56 L746.58 249.2 L746.58 248.85 L746.58 248.49 L746.58 248.14 L746.58 247.78 L746.58 247.43 L746.58 247.07 L746.58 246.72 L746.58 246.36 L746.58 246.01 L746.58 245.65 L746.58 245.3 L746.58 244.94 L746.58 244.59 L746.58 244.23 L746.58 243.88 L746.58 243.52 L746.58 243.17 L746.58 242.81 L746.58 242.45 L746.58 242.1 L746.58 241.74 L746.58 241.39 L746.58 241.03 L746.58 240.68 L746.58 240.32 L746.58 239.97 L746.58 239.61 L746.58 239.26 L746.58 238.9 L746.58 238.55 L746.58 238.19 L746.58 237.84 L746.58 237.48 L746.58 237.13 L746.58 236.77 L746.58 236.42 L746.58 236.06 L746.58 235.7 L746.58 235.35 L746.58 234.99 L746.58 234.64 L746.58 234.28 L746.58 233.93 L746.58 233.57 L746.58 233.22 L746.58 232.86 L746.58 232.51 L746.58 232.15 L746.58 231.8 L746.58 231.44 L746.58 231.09 L746.58 230.73 L746.58 230.38 L746.58 230.02 L746.58 229.67 L746.58 229.31 L746.58 228.95 L746.58 228.6 L746.58 228.24 L746.58 227.89 L746.58 227.53 L746.58 227.18 L746.58 226.82 L746.58 226.47 L746.58 226.11 L746.58 225.76 L746.58 225.4 L746.58 225.05 L746.58 224.69 L746.58 224.34 L746.58 223.98 L746.58 223.63 L746.58 223.27 L746.58 222.91 L746.58 222.56 L746.58 222.2 L746.58 221.85 L746.58 221.49 L746.58 221.14 L746.58 220.78 L746.58 220.43 L746.58 220.07 L746.58 219.72 L746.58 219.36 L746.58 219.01 L746.58 218.65 L746.58 218.3 L746.58 217.94 L746.58 217.59 L746.58 217.23 L746.58 216.88 L746.58 216.52 L746.58 216.16 L746.58 215.81 L746.58 215.45 L746.58 215.1 L746.58 214.74 L746.58 214.39 L746.58 214.03 L746.59 213.68 L746.59 213.32 L746.59 212.97 L746.59 212.61 L746.59 212.26 L746.59 211.9 L746.59 211.55 L746.59 211.19 L746.59 210.84 L746.59 210.48 L746.59 210.13 L746.59 209.77 L746.59 209.41 L746.59 209.06 L746.59 208.7 L746.59 208.35 L746.59 207.99 L746.59 207.64 L746.59 207.28 L746.59 206.93 L746.59 206.57 L746.59 206.22 L746.59 205.86 L746.59 205.51 L746.59 205.15 L746.59 204.8 L746.59 204.44 L746.59 204.08 L746.59 203.73 L746.59 203.37 L746.59 203.02 L746.59 202.66 L746.59 202.31 L746.59 201.95 L746.59 201.6 L746.59 201.24 L746.59 200.89 L746.59 200.53 L746.59 200.18 L746.59 199.82 L746.59 199.47 L746.59 199.11 L746.59 198.76 L746.59 198.4 L746.59 198.04 L746.59 197.69 L746.59 197.33 L746.59 196.98 L746.6 196.62 L746.6 196.27 L746.6 195.91 L746.6 195.56 L746.6 195.2 L746.6 194.85 L746.6 194.49 L746.6 194.14 L746.6 193.78 L746.6 193.42 L746.6 193.07 L746.6 192.71 L746.6 192.36 L746.6 192 L746.6 191.65 L746.6 191.29 L746.61 190.94 L746.61 190.58 L746.61 190.23 L746.61 189.87 L746.61 189.51 L746.61 189.16 L746.61 188.8 L746.61 188.45 L746.61 188.09 L746.62 187.74 L746.62 187.38 L746.62 187.03 L746.62 186.67 L746.62 186.31 L746.62 185.96 L746.62 185.6 L746.63 185.25 L746.63 184.89 L746.63 184.54 L746.63 184.18 L746.63 183.82 L746.64 183.47 L746.64 183.11 L746.64 182.76 L746.64 182.4 L746.65 182.05 L746.65 181.69 L746.65 181.33 L746.65 180.98 L746.66 180.62 L746.66 180.27 L746.66 179.91 L746.67 179.55 L746.67 179.2 L746.67 178.84 L746.68 178.49 L746.68 178.13 L746.68 177.77 L746.69 177.42 L746.69 177.06 L746.7 176.71 L746.7 176.35 L746.71 175.99 L746.71 175.64 L746.72 175.28 L746.72 174.92 L746.73 174.57 L746.73 174.21 L746.74 173.85 L746.75 173.5 L746.75 173.14 L746.76 172.78 L746.77 172.43 L746.78 172.07 L746.78 171.71 L746.79 171.35 L746.8 171 L746.81 170.64 L746.82 170.28 L746.83 169.93 L746.84 169.57 L746.85 169.21 L746.86 168.85 L746.87 168.49 L746.88 168.14 L746.89 167.78 L746.91 167.42 L746.92 167.06 L746.93 166.7 L746.95 166.35 L746.96 165.99 L746.98 165.63 L747 165.27 L747.01 164.91 L747.03 164.55 L747.05 164.19 L747.07 163.83 L747.09 163.47 L747.11 163.11 L747.13 162.75 L747.15 162.39 L747.18 162.03 L747.2 161.67 L747.23 161.31 L747.25 160.95 L747.28 160.59 L747.31 160.22 L747.34 159.86 L747.37 159.5 L747.4 159.14 L747.44 158.77 L747.47 158.41 L747.51 158.05 L747.55 157.68 L747.59 157.32 L747.63 156.95 L747.67 156.59 L747.72 156.22 L747.76 155.86 L747.81 155.49 L747.86 155.12 L747.92 154.76 L747.97 154.39 L748.03 154.02 L748.09 153.65 L748.15 153.28 L748.21 152.91 L748.28 152.54 L748.35 152.17 L748.43 151.8 L748.5 151.42 L748.58 151.05 L748.66 150.68 L748.75 150.3 L748.84 149.93 L748.93 149.55 L749.03 149.17 L749.13 148.79 L749.23 148.41 L749.34 148.03 L749.46 147.65 L749.57 147.27 L749.7 146.88 L749.83 146.5 L749.96 146.11 L750.1 145.73 L750.24 145.34 L750.39 144.95 L750.55 144.55 L750.71 144.16 L750.88 143.77 L751.06 143.37 L751.25 142.97 L751.44 142.57 L751.64 142.17 L751.85 141.76 L752.06 141.36 L752.29 140.95 L752.53 140.54 L752.77 140.12 L753.03 139.71 L753.29 139.29 L753.57 138.87 L753.86 138.44 L754.16 138.01 L754.47 137.58 L754.79 137.15 L755.13 136.71 L755.48 136.27 L755.85 135.83 L756.23 135.38 L756.63 134.92 L757.04 134.47 L757.48 134.01 L757.93 133.54 L758.39 133.07 L758.88 132.59 L759.39 132.11 L759.91 131.62 L760.46 131.13 L761.04 130.63 L761.63 130.12 L762.25 129.6 L762.9 129.08 L763.57 128.55 L764.27 128.02 L765 127.47 L765.76 126.92 L766.55 126.35 L767.37 125.78 L768.23 125.2 L769.12 124.6 L770.05 123.99 L771.02 123.38 L772.03 122.75 L773.07 122.1 L774.17 121.44 L775.3 120.77 L776.49 120.08 L777.72 119.38 L779 118.66 L780.34 117.92 L781.73 117.16 L783.18 116.38 L784.69 115.58 L786.26 114.76 L787.9 113.91 L789.6 113.04 L791.37 112.14 L793.22 111.22 L795.14 110.27 L797.14 109.28 L799.23 108.27 L801.4 107.22 L803.66 106.14 L806.01 105.01 L808.46 103.85 L811.01 102.65 L813.67 101.41 L813.73 101.38 L814.41 101.06 L815.08 100.75 L815.75 100.44 L816.42 100.12 L817.09 99.81 L817.77 99.5 L818.44 99.18 L819.11 98.87 L819.78 98.56 L820.45 98.25 L821.13 97.94 L821.8 97.63 L822.47 97.32 L823.14 97.01 L823.81 96.7 L824.49 96.39 L825.16 96.08 L825.83 95.77 L826.5 95.46 L827.17 95.15 L827.85 94.84 L828.52 94.53 L829.19 94.22 L829.86 93.91 L830.53 93.6 L831.21 93.3 L831.88 92.99 L832.55 92.68 L833.22 92.37 L833.9 92.06 L834.57 91.76 L835.24 91.45 L835.91 91.14 L836.58 90.83 L837.26 90.53 L837.93 90.22 L838.6 89.91 L839.27 89.61 L839.94 89.3 L840.62 88.99 L841.29 88.69 L841.96 88.38 L842.63 88.07 L843.3 87.77 L843.98 87.46 L844.65 87.15 L845.32 86.85 L845.99 86.54 L846.66 86.24 L847.34 85.93 L848.01 85.62 L848.68 85.32 L849.35 85.01 L850.02 84.71 L850.7 84.4 L851.37 84.09 L852.04 83.79 L852.71 83.48 L853.38 83.18 L854.06 82.87 L854.73 82.57 L855.4 82.26 L856.07 81.96 L856.74 81.65 L857.42 81.34 L858.09 81.04 L858.76 80.73 L859.43 80.43 L860.1 80.12 L860.78 79.82 L861.45 79.51 L862.12 79.21 L862.79 78.9 L863.46 78.6 L864.14 78.29 L864.81 77.99 L865.48 77.68 L866.15 77.38 L866.83 77.07 L867.5 76.77 L868.17 76.46 L868.84 76.16 L869.51 75.85 L870.19 75.55 L870.86 75.24 L871.53 74.94 L872.2 74.63 L872.87 74.33 L873.55 74.02 L874.22 73.72 L874.89 73.42 L875.56 73.11 L876.23 72.81 L876.91 72.5 L877.58 72.2 L878.25 71.89 L878.92 71.59 L879.59 71.28 L880.27 70.98 L880.94 70.67 L881.61 70.37 L882.28 70.06 L882.95 69.76 L883.63 69.46 L884.3 69.15 L884.97 68.85 L885.64 68.54 L886.31 68.24 L886.99 67.93 L887.66 67.63 L888.33 67.32 L889 67.02 L889.67 66.71 L890.35 66.41 L891.02 66.11 L891.69 65.8 L892.36 65.5 L893.03 65.19 L893.71 64.89 L894.38 64.58 L895.05 64.28 L895.72 63.97 L896.4 63.67 L897.07 63.37 L897.74 63.06 L898.41 62.76 L899.08 62.45 L899.76 62.15 L900.43 61.84 L901.1 61.54 L901.77 61.23 L902.44 60.93 L903.12 60.63 L903.79 60.32 L904.46 60.02 L905.13 59.71 L905.8 59.41 L906.48 59.1 L907.15 58.8 L907.82 58.5 L908.49 58.19 L909.16 57.89 L909.84 57.58 L910.51 57.28 L911.18 56.97 L911.85 56.67 L912.52 56.36 L913.2 56.06 L913.87 55.76 L914.54 55.45 L915.21 55.15 L915.88 54.84 L916.56 54.54 L917.23 54.23 L917.9 53.93 L918.57 53.63 L919.24 53.32 L919.92 53.02 L920.59 52.71 L921.26 52.41 L921.93 52.1 L922.6 51.8 L923.28 51.5 L923.95 51.19 L924.62 50.89 L925.29 50.58 L925.96 50.28 L926.64 49.97 L927.31 49.67 L927.98 49.36 L928.65 49.06 L929.33 48.76 L930 48.45 L930.67 48.15 L931.34 47.84 L932.01 47.54 L932.69 47.23 L933.36 46.93 L934.03 46.63 L934.7 46.32 L935.37 46.02 L936.05 45.71 L936.72 45.41 L937.39 45.1 L938.06 44.8 L938.73 44.5 L939.41 44.19 L940.08 43.89 L940.75 43.58 L941.42 43.28 L942.09 42.97 L942.77 42.67 L943.44 42.37 L944.11 42.06 L944.78 41.76 L945.45 41.45 L946.13 41.15 L946.8 40.84 L947.47 40.54 L948.14 40.24 L948.81 39.93 L949.49 39.63 L950.16 39.32 L950.83 39.02 L951.5 38.71 L952.17 38.41 L952.85 38.11 L953.52 37.8 L954.19 37.5 L954.86 37.19 L955.53 36.89 L956.21 36.58 L956.88 36.28 L957.55 35.98 L958.22 35.67 L958.9 35.37 L959.57 35.06 L960.24 34.76 L960.91 34.45 L961.58 34.15 L962.26 33.84 L962.93 33.54 L963.6 33.24 L964.27 32.93 L964.94 32.63 L965.62 32.32 L966.29 32.02 L966.96 31.71 L967.63 31.41 L968.3 31.11 L968.98 30.8 L969.65 30.5 L970.32 30.19 L970.99 29.89 L971.66 29.58 L972.34 29.28 L973.01 28.98 L973.68 28.67 L974.35 28.37 L975.02 28.06 L975.7 27.76 L976.37 27.45 L977.04 27.15 L977.71 26.85 L978.38 26.54 L979.06 26.24 L979.73 25.93 L980.4 25.63 L981.07 25.32 L981.74 25.02 L982.42 24.72 L983.09 24.41 L983.76 24.11 L984.43 23.8 L985.1 23.5 L985.78 23.19 L986.45 22.89 L987.12 22.59 L987.79 22.28 L988.46 21.98 L989.14 21.67 L989.81 21.37 L990.48 21.06 L991.15 20.76 L991.83 20.46 L992.5 20.15 L993.17 19.85 L993.84 19.54 L994.51 19.24 L995.19 18.93 L995.86 18.63 L996.53 18.33 L997.2 18.02 L997.87 17.72 L998.55 17.41 L999.22 17.11 L999.89 16.8 L1000.56 16.5 L1001.23 16.2 L1001.91 15.89 L1002.58 15.59 L1003.25 15.28 L1003.92 14.98 L1004.59 14.67 L1005.27 14.37 L1005.94 14.07 L1006.61 13.76 L1007.28 13.46 L1007.95 13.15 L1008.63 12.85 L1009.3 12.54 L1009.97 12.24 L1010.64 11.94 L1011.31 11.63 L1011.99 11.33 L1012.66 11.02 L1013.33 10.72 L1014 10.41 L1014.67 10.11 L1015.35 9.81 L1016.02 9.5 L1016.69 9.2 L1017.36 8.89 L1018.03 8.59 L1018.71 8.28 L1019.38 7.98 L1020.05 7.68 L1020.72 7.37 L1021.4 7.07 L1022.07 6.76 L1022.74 6.46 L1023.41 6.15 L1024.08 5.85 L1024.76 5.55 L1025.43 5.24 L1026.1 4.94 L1026.77 4.63 L1027.44 4.33 L1028.12 4.02 L1028.79 3.72 L1029.46 3.42 L1030.13 3.11 L1030.8 2.81 L1031.48 2.5 L1032.15 2.2 L1032.82 1.89 L1033.49 1.59 L1034.16 1.28 L1034.84 0.98 L1035.51 0.68 L1036.18 0.37 L1036.85 0.07 L1037.52 -0.24 L1038.2 -0.54 L1038.87 -0.85 L1039.54 -1.15 L1040.21 -1.45 L1040.88 -1.76 L1041.56 -2.06 L1042.23 -2.37 L1042.9 -2.67 L1043.57 -2.98 L1044.24 -3.28 L1044.92 -3.58 L1045.59 -3.89 L1046.26 -4.19 L1046.93 -4.5 L1047.6 -4.8 L1048.28 -5.11 L1048.95 -5.41 L1049.62 -5.71 L1050.29 -6.02 L1050.97 -6.32 L1051.64 -6.63 L1052.31 -6.93 L1052.98 -7.24 L1053.65 -7.54 L1054.33 -7.84 L1055 -8.15 L1055.67 -8.45 L1056.34 -8.76 L1057.01 -9.06 L1057.69 -9.37 L1058.36 -9.67 L1059.03 -9.97 L1059.7 -10.28 L1060.37 -10.58 L1061.05 -10.89 L1061.72 -11.19 L1062.39 -11.5 L1063.06 -11.8 L1063.73 -12.1 L1064.41 -12.41 L1065.08 -12.71 L1065.75 -13.02 L1066.42 -13.32 L1067.09 -13.63 L1067.77 -13.93 L1068.44 -14.23 L1069.11 -14.54 L1069.78 -14.84 L1070.45 -15.15 L1071.13 -15.45 L1071.8 -15.76 L1072.47 -16.06 L1073.14 -16.36 L1073.81 -16.67 L1074.49 -16.97 L1075.16 -17.28 L1075.83 -17.58 L1076.5 -17.89 L1077.17 -18.19 L1077.85 -18.49 L1078.52 -18.8 L1079.19 -19.1 L1079.86 -19.41 L1080.53 -19.71 L1081.21 -20.02 L1081.88 -20.32 L1082.55 -20.38 L1182.62 -20.38 L1182.62 404.88 Z" fill="#55aa66" stroke="#000" stroke-width="1.1" stroke-linejoin="round"/>
<path d="M746.58 404.88 L746.58 262.35 L746.58 261.99 L746.58 261.64 L746.58 261.28 L746.58 260.93 L746.58 260.57 L746.58 260.22 L746.58 259.86 L746.58 259.51 L746.58 259.15 L746.58 258.8 L746.58 258.44 L746.58 258.09 L746.58 257.73 L746.58 257.38 L746.58 257.02 L746.58 256.67 L746.58 256.31 L746.58 255.95 L746.58 255.6 L746.58 255.24 L746.58 254.89 L746.58 254.53 L746.58 254.18 L746.58 253.82 L746.58 253.47 L746.58 253.11 L746.58 252.76 L746.58 252.4 L746.58 252.05 L746.58 251.69 L746.58 251.34 L746.58 250.98 L746.58 250.63 L746.58 250.27 L746.58 249.92 L746.58 249.56 L746.58 249.2 L746.58 248.85 L746.58 248.49 L746.58 248.14 L746.58 247.78 L746.58 247.43 L746.58 247.07 L746.58 246.72 L746.58 246.36 L746.58 246.01 L746.58 245.65 L746.58 245.3 L746.58 244.94 L746.58 244.59 L746.58 244.23 L746.58 243.88 L746.58 243.52 L746.58 243.17 L746.58 242.81 L746.58 242.45 L746.58 242.1 L746.58 241.74 L746.58 241.39 L746.58 241.03 L746.58 240.68 L746.58 240.32 L746.58 239.97 L746.58 239.61 L746.58 239.26 L746.58 238.9 L746.58 238.55 L746.58 238.19 L746.58 237.84 L746.58 237.48 L746.58 237.13 L746.58 236.77 L746.58 236.42 L746.58 236.06 L746.58 235.7 L746.58 235.35 L746.58 234.99 L746.58 234.64 L746.58 234.28 L746.58 233.93 L746.58 233.57 L746.58 233.22 L746.58 232.86 L746.58 232.51 L746.58 232.15 L746.58 231.8 L746.58 231.44 L746.58 231.09 L746.58 230.73 L746.58 230.38 L746.58 230.02 L746.58 229.67 L746.58 229.31 L746.58 228.95 L746.58 228.6 L746.58 228.24 L746.58 227.89 L746.58 227.53 L746.58 227.18 L746.58 226.82 L746.58 226.47 L746.58 226.11 L746.58 225.76 L746.58 225.4 L746.58 225.05 L746.58 224.69 L746.58 224.34 L746.58 223.98 L746.58 223.63 L746.58 223.27 L746.58 222.91 L746.58 222.56 L746.58 222.2 L746.58 221.85 L746.58 221.49 L746.58 221.14 L746.58 220.78 L746.58 220.43 L746.58 220.07 L746.58 219.72 L746.58 219.36 L746.58 219.01 L746.58 218.65 L746.58 218.3 L746.58 217.94 L746.58 217.59 L746.58 217.23 L746.58 216.88 L746.58 216.52 L746.58 216.16 L746.58 215.81 L746.58 215.45 L746.58 215.1 L746.58 214.74 L746.58 214.39 L746.58 214.03 L746.59 213.68 L746.59 213.32 L746.59 212.97 L746.59 212.61 L746.59 212.26 L746.59 211.9 L746.59 211.55 L746.59 211.19 L746.59 210.84 L746.59 210.48 L746.59 210.13 L746.59 209.77 L746.59 209.41 L746.59 209.06 L746.59 208.7 L746.59 208.35 L746.59 207.99 L746.59 207.64 L746.59 207.28 L746.59 206.93 L746.59 206.57 L746.59 206.22 L746.59 205.86 L746.59 205.51 L746.59 205.15 L746.59 204.8 L746.59 204.44 L746.59 204.08 L746.59 203.73 L746.59 203.37 L746.59 203.02 L746.59 202.66 L746.59 202.31 L746.59 201.95 L746.59 201.6 L746.59 201.24 L746.59 200.89 L746.59 200.53 L746.59 200.18 L746.59 199.82 L746.59 199.47 L746.59 199.11 L746.59 198.76 L746.59 198.4 L746.59 198.04 L746.59 197.69 L746.59 197.33 L746.59 196.98 L746.6 196.62 L746.6 196.27 L746.6 195.91 L746.6 195.56 L746.6 195.2 L746.6 194.85 L746.6 194.49 L746.6 194.14 L746.6 193.78 L746.6 193.42 L746.6 193.07 L746.6 192.71 L746.6 192.36 L746.6 192 L746.6 191.65 L746.6 191.29 L746.61 190.94 L746.61 190.58 L746.61 190.23 L746.61 189.87 L746.61 189.51 L746.61 189.16 L746.61 188.8 L746.61 188.45 L746.61 188.09 L746.62 187.74 L746.62 187.38 L746.62 187.03 L746.62 186.67 L746.62 186.31 L746.62 185.96 L746.62 185.6 L746.63 185.25 L746.63 184.89 L746.63 184.54 L746.63 184.18 L746.63 183.82 L746.64 183.47 L746.64 183.11 L746.64 182.76 L746.64 182.4 L746.65 182.05 L746.65 181.69 L746.65 181.33 L746.65 180.98 L746.66 180.62 L746.66 180.27 L746.66 179.91 L746.67 179.55 L746.67 179.2 L746.67 178.84 L746.68 178.49 L746.68 178.13 L746.68 177.77 L746.69 177.42 L746.69 177.06 L746.7 176.71 L746.7 176.35 L746.71 175.99 L746.71 175.64 L746.72 175.28 L746.72 174.92 L746.73 174.57 L746.73 174.21 L746.74 173.85 L746.75 173.5 L746.75 173.14 L746.76 172.78 L746.77 172.43 L746.78 172.07 L746.78 171.71 L746.79 171.35 L746.8 171 L746.81 170.64 L746.82 170.28 L746.83 169.93 L746.84 169.57 L746.85 169.21 L746.86 168.85 L746.87 168.49 L746.88 168.14 L746.89 167.78 L746.91 167.42 L746.92 167.06 L746.93 166.7 L746.95 166.35 L746.96 165.99 L746.98 165.63 L747 165.27 L747.01 164.91 L747.03 164.55 L747.05 164.19 L747.07 163.83 L747.09 163.47 L747.11 163.11 L747.13 162.75 L747.15 162.39 L747.18 162.03 L747.2 161.67 L747.23 161.31 L747.25 160.95 L747.28 160.59 L747.31 160.22 L747.34 159.86 L747.37 159.5 L747.4 159.14 L747.44 158.77 L747.47 158.41 L747.51 158.05 L747.55 157.68 L747.59 157.32 L747.63 156.95 L747.67 156.59 L747.72 156.22 L747.76 155.86 L747.81 155.49 L747.86 155.12 L747.92 154.76 L747.97 154.39 L748.03 154.02 L748.09 153.65 L748.15 153.28 L748.21 152.91 L748.28 152.54 L748.35 152.17 L748.43 151.8 L748.5 151.42 L748.58 151.05 L748.66 150.68 L748.75 150.3 L748.84 149.93 L748.93 149.55 L749.03 149.17 L749.13 148.79 L749.23 148.41 L749.34 148.03 L749.46 147.65 L749.57 147.27 L749.7 146.88 L749.83 146.5 L749.96 146.11 L750.1 145.73 L750.24 145.34 L750.39 144.95 L750.55 144.55 L750.71 144.16 L750.88 143.77 L751.06 143.37 L751.25 142.97 L751.44 142.57 L751.64 142.17 L751.85 141.76 L752.06 141.36 L752.29 140.95 L752.53 140.54 L752.77 140.12 L753.03 139.71 L753.29 139.29 L753.57 138.87 L753.86 138.44 L754.16 138.01 L754.47 137.58 L754.79 137.15 L755.13 136.71 L755.48 136.27 L755.85 135.83 L756.23 135.38 L756.63 134.92 L757.04 134.47 L757.48 134.01 L757.93 133.54 L758.39 133.07 L758.88 132.59 L759.39 132.11 L759.91 131.62 L760.46 131.13 L761.04 130.63 L761.63 130.12 L762.25 129.6 L762.9 129.08 L763.57 128.55 L764.27 128.02 L765 127.47 L765.76 126.92 L766.55 126.35 L767.37 125.78 L768.23 125.2 L769.12 124.6 L770.05 123.99 L771.02 123.38 L772.03 122.75 L773.07 122.1 L774.17 121.44 L775.3 120.77 L776.49 120.08 L777.72 119.38 L779 118.66 L780.34 117.92 L781.73 117.16 L783.18 116.38 L784.69 115.58 L786.26 114.76 L787.9 113.91 L789.6 113.04 L791.37 112.14 L793.22 111.22 L795.14 110.27 L797.14 109.28 L799.23 108.27 L801.4 107.22 L803.66 106.14 L806.01 105.01 L808.46 103.85 L811.01 102.65 L813.67 101.41 L813.73 101.38 L814.41 101.06 L815.08 100.75 L815.75 100.44 L816.42 100.12 L817.09 99.81 L817.77 99.5 L818.44 99.18 L819.11 98.87 L819.78 98.56 L820.45 98.25 L821.13 97.94 L821.8 97.63 L822.47 97.32 L823.14 97.01 L823.81 96.7 L824.49 96.39 L825.16 96.08 L825.83 95.77 L826.5 95.46 L827.17 95.15 L827.85 94.84 L828.52 94.53 L829.19 94.22 L829.86 93.91 L830.53 93.6 L831.21 93.3 L831.88 92.99 L832.55 92.68 L833.22 92.37 L833.9 92.06 L834.57 91.76 L835.24 91.45 L835.91 91.14 L836.58 90.83 L837.26 90.53 L837.93 90.22 L838.6 89.91 L839.27 89.61 L839.94 89.3 L840.62 88.99 L841.29 88.69 L841.96 88.38 L842.63 88.07 L843.3 87.77 L843.98 87.46 L844.65 87.15 L845.32 86.85 L845.99 86.54 L846.66 86.24 L847.34 85.93 L848.01 85.62 L848.68 85.32 L849.35 85.01 L850.02 84.71 L850.7 84.4 L851.37 84.09 L852.04 83.79 L852.71 83.48 L853.38 83.18 L854.06 82.87 L854.73 82.57 L855.4 82.26 L856.07 81.96 L856.74 81.65 L857.42 81.34 L858.09 81.04 L858.76 80.73 L859.43 80.43 L860.1 80.12 L860.78 79.82 L861.45 79.51 L862.12 79.21 L862.79 78.9 L863.46 78.6 L864.14 78.29 L864.81 77.99 L865.48 77.68 L866.15 77.38 L866.83 77.07 L867.5 76.77 L868.17 76.46 L868.84 76.16 L869.51 75.85 L870.19 75.55 L870.86 75.24 L871.53 74.94 L872.2 74.63 L872.87 74.33 L873.55 74.02 L874.22 73.72 L874.89 73.42 L875.56 73.11 L876.23 72.81 L876.91 72.5 L877.58 72.2 L878.25 71.89 L878.92 71.59 L879.59 71.28 L880.27 70.98 L880.94 70.67 L881.61 70.37 L882.28 70.06 L882.95 69.76 L883.63 69.46 L884.3 69.15 L884.97 68.85 L885.64 68.54 L886.31 68.24 L886.99 67.93 L887.66 67.63 L888.33 67.32 L889 67.02 L889.67 66.71 L890.35 66.41 L891.02 66.11 L891.69 65.8 L892.36 65.5 L893.03 65.19 L893.71 64.89 L894.38 64.58 L895.05 64.28 L895.72 63.97 L896.4 63.67 L897.07 63.37 L897.74 63.06 L898.41 62.76 L899.08 62.45 L899.76 62.15 L900.43 61.84 L901.1 61.54 L901.77 61.23 L902.44 60.93 L903.12 60.63 L903.79 60.32 L904.46 60.02 L905.13 59.71 L905.8 59.41 L906.48 59.1 L907.15 58.8 L907.82 58.5 L908.49 58.19 L909.16 57.89 L909.84 57.58 L910.51 57.28 L911.18 56.97 L911.85 56.67 L912.52 56.36 L913.2 56.06 L913.87 55.76 L914.54 55.45 L915.21 55.15 L915.88 54.84 L916.56 54.54 L917.23 54.23 L917.9 53.93 L918.57 53.63 L919.24 53.32 L919.92 53.02 L920.59 52.71 L921.26 52.41 L921.93 52.1 L922.6 51.8 L923.28 51.5 L923.95 51.19 L924.62 50.89 L925.29 50.58 L925.96 50.28 L926.64 49.97 L927.31 49.67 L927.98 49.36 L928.65 49.06 L929.33 48.76 L930 48.45 L930.67 48.15 L931.34 47.84 L932.01 47.54 L932.69 47.23 L933.36 46.93 L934.03 46.63 L934.7 46.32 L935.37 46.02 L936.05 45.71 L936.72 45.41 L937.39 45.1 L938.06 44.8 L938.73 44.5 L939.41 44.19 L940.08 43.89 L940.75 43.58 L941.42 43.28 L942.09 42.97 L942.77 42.67 L943.44 42.37 L944.11 42.06 L944.78 41.76 L945.45 41.45 L946.13 41.15 L946.8 40.84 L947.47 40.54 L948.14 40.24 L948.81 39.93 L949.49 39.63 L950.16 39.32 L950.83 39.02 L951.5 38.71 L952.17 38.41 L952.85 38.11 L953.52 37.8 L954.19 37.5 L954.86 37.19 L955.53 36.89 L956.21 36.58 L956.88 36.28 L957.55 35.98 L958.22 35.67 L958.9 35.37 L959.57 35.06 L960.24 34.76 L960.91 34.45 L961.58 34.15 L962.26 33.84 L962.93 33.54 L963.6 33.24 L964.27 32.93 L964.94 32.63 L965.62 32.32 L966.29 32.02 L966.96 31.71 L967.63 31.41 L968.3 31.11 L968.98 30.8 L969.65 30.5 L970.32 30.19 L970.99 29.89 L971.66 29.58 L972.34 29.28 L973.01 28.98 L973.68 28.67 L974.35 28.37 L975.02 28.06 L975.7 27.76 L976.37 27.45 L977.04 27.15 L977.71 26.85 L978.38 26.54 L979.06 26.24 L979.73 25.93 L980.4 25.63 L981.07 25.32 L981.74 25.02 L982.42 24.72 L983.09 24.41 L983.76 24.11 L984.43 23.8 L985.1 23.5 L985.78 23.19 L986.45 22.89 L987.12 22.59 L987.79 22.28 L988.46 21.98 L989.14 21.67 L989.81 21.37 L990.48 21.06 L991.15 20.76 L991.83 20.46 L992.5 20.15 L993.17 19.85 L993.84 19.54 L994.51 19.24 L995.19 18.93 L995.86 18.63 L996.53 18.33 L997.2 18.02 L997.87 17.72 L998.55 17.41 L999.22 17.11 L999.89 16.8 L1000.56 16.5 L1001.23 16.2 L1001.91 15.89 L1002.58 15.59 L1003.25 15.28 L1003.92 14.98 L1004.59 14.67 L1005.27 14.37 L1005.94 14.07 L1006.61 13.76 L1007.28 13.46 L1007.95 13.15 L1008.63 12.85 L1009.3 12.54 L1009.97 12.24 L1010.64 11.94 L1011.31 11.63 L1011.99 11.33 L1012.66 11.02 L1013.33 10.72 L1014 10.41 L1014.67 10.11 L1015.35 9.81 L1016.02 9.5 L1016.69 9.2 L1017.36 8.89 L1018.03 8.59 L1018.71 8.28 L1019.38 7.98 L1020.05 7.68 L1020.72 7.37 L1021.4 7.07 L1022.07 6.76 L1022.74 6.46 L1023.41 6.15 L1024.08 5.85 L1024.76 5.55 L1025.43 5.24 L1026.1 4.94 L1026.77 4.63 L1027.44 4.33 L1028.12 4.02 L1028.79 3.72 L1029.46 3.42 L1030.13 3.11 L1030.8 2.81 L1031.48 2.5 L1032.15 2.2 L1032.82 1.89 L1033.49 1.59 L1034.16 1.28 L1034.84 0.98 L1035.51 0.68 L1036.18 0.37 L1036.85 0.07 L1037.52 -0.24 L1038.2 -0.54 L1038.87 -0.85 L1039.54 -1.15 L1040.21 -1.45 L1040.88 -1.76 L1041.56 -2.06 L1042.23 -2.37 L1042.9 -2.67 L1043.57 -2.98 L1044.24 -3.28 L1044.92 -3.58 L1045.59 -3.89 L1046.26 -4.19 L1046.93 -4.5 L1047.6 -4.8 L1048.28 -5.11 L1048.95 -5.41 L1049.62 -5.71 L1050.29 -6.02 L1050.97 -6.32 L1051.64 -6.63 L1052.31 -6.93 L1052.98 -7.24 L1053.65 -7.54 L1054.33 -7.84 L1055 -8.15 L1055.67 -8.45 L1056.34 -8.76 L1057.01 -9.06 L1057.69 -9.37 L1058.36 -9.67 L1059.03 -9.97 L1059.7 -10.28 L1060.37 -10.58 L1061.05 -10.89 L1061.72 -11.19 L1062.39 -11.5 L1063.06 -11.8 L1063.73 -12.1 L1064.41 -12.41 L1065.08 -12.71 L1065.75 -13.02 L1066.42 -13.32 L1067.09 -13.63 L1067.77 -13.93 L1068.44 -14.23 L1069.11 -14.54 L1069.78 -14.84 L1070.45 -15.15 L1071.13 -15.45 L1071.8 -15.76 L1072.47 -16.06 L1073.14 -16.36 L1073.81 -16.67 L1074.49 -16.97 L1075.16 -17.28 L1075.83 -17.58 L1076.5 -17.89 L1077.17 -18.19 L1077.85 -18.49 L1078.52 -18.8 L1079.19 -19.1 L1079.86 -19.41 L1080.53 -19.71 L1081.21 -20.02 L1081.88 -20.32 L1082.55 -20.38 L1182.62 -20.38 L1182.62 404.88 Z" fill="url(#hB_f)"/>
<path d="M792.2 404.88 L792.2 238.56 L792.2 238.34 L792.2 238.13 L792.2 237.92 L792.2 237.7 L792.2 237.49 L792.2 237.28 L792.2 237.07 L792.2 236.85 L792.2 236.64 L792.2 236.43 L792.2 236.21 L792.2 236 L792.2 235.79 L792.2 235.57 L792.2 235.36 L792.2 235.15 L792.2 234.93 L792.2 234.72 L792.2 234.51 L792.2 234.29 L792.2 234.08 L792.2 233.87 L792.2 233.65 L792.2 233.44 L792.2 233.23 L792.2 233.02 L792.2 232.8 L792.2 232.59 L792.2 232.38 L792.2 232.16 L792.2 231.95 L792.2 231.74 L792.2 231.52 L792.2 231.31 L792.2 231.1 L792.2 230.88 L792.2 230.67 L792.2 230.46 L792.2 230.24 L792.2 230.03 L792.2 229.82 L792.2 229.6 L792.2 229.39 L792.2 229.18 L792.2 228.97 L792.2 228.75 L792.2 228.54 L792.2 228.33 L792.2 228.11 L792.2 227.9 L792.2 227.69 L792.2 227.47 L792.2 227.26 L792.2 227.05 L792.2 226.83 L792.2 226.62 L792.2 226.41 L792.2 226.19 L792.2 225.98 L792.2 225.77 L792.2 225.55 L792.2 225.34 L792.2 225.13 L792.2 224.92 L792.2 224.7 L792.2 224.49 L792.2 224.28 L792.2 224.06 L792.2 223.85 L792.2 223.64 L792.2 223.42 L792.2 223.21 L792.2 223 L792.2 222.78 L792.2 222.57 L792.2 222.36 L792.2 222.14 L792.2 221.93 L792.2 221.72 L792.2 221.5 L792.2 221.29 L792.2 221.08 L792.2 220.86 L792.2 220.65 L792.2 220.44 L792.2 220.23 L792.2 220.01 L792.2 219.8 L792.2 219.59 L792.2 219.37 L792.2 219.16 L792.2 218.95 L792.2 218.73 L792.2 218.52 L792.2 218.31 L792.2 218.09 L792.2 217.88 L792.2 217.67 L792.2 217.45 L792.2 217.24 L792.2 217.03 L792.2 216.81 L792.2 216.6 L792.2 216.39 L792.2 216.18 L792.2 215.96 L792.2 215.75 L792.2 215.54 L792.2 215.32 L792.2 215.11 L792.2 214.9 L792.2 214.68 L792.2 214.47 L792.2 214.26 L792.2 214.04 L792.2 213.83 L792.2 213.62 L792.2 213.4 L792.2 213.19 L792.2 212.98 L792.2 212.76 L792.2 212.55 L792.2 212.34 L792.2 212.12 L792.2 211.91 L792.2 211.7 L792.2 211.49 L792.2 211.27 L792.2 211.06 L792.2 210.85 L792.2 210.63 L792.2 210.42 L792.2 210.21 L792.2 209.99 L792.2 209.78 L792.2 209.57 L792.2 209.35 L792.2 209.14 L792.2 208.93 L792.2 208.71 L792.2 208.5 L792.2 208.29 L792.2 208.07 L792.2 207.86 L792.2 207.65 L792.2 207.43 L792.2 207.22 L792.2 207.01 L792.2 206.79 L792.2 206.58 L792.2 206.37 L792.2 206.16 L792.2 205.94 L792.2 205.73 L792.2 205.52 L792.2 205.3 L792.2 205.09 L792.2 204.88 L792.2 204.66 L792.2 204.45 L792.2 204.24 L792.2 204.02 L792.2 203.81 L792.21 203.6 L792.21 203.38 L792.21 203.17 L792.21 202.96 L792.21 202.74 L792.21 202.53 L792.21 202.32 L792.21 202.1 L792.21 201.89 L792.21 201.68 L792.21 201.46 L792.21 201.25 L792.21 201.04 L792.21 200.82 L792.21 200.61 L792.21 200.4 L792.21 200.18 L792.21 199.97 L792.21 199.76 L792.21 199.54 L792.21 199.33 L792.21 199.12 L792.21 198.9 L792.21 198.69 L792.21 198.47 L792.21 198.26 L792.21 198.05 L792.22 197.83 L792.22 197.62 L792.22 197.41 L792.22 197.19 L792.22 196.98 L792.22 196.77 L792.22 196.55 L792.22 196.34 L792.22 196.12 L792.22 195.91 L792.22 195.7 L792.22 195.48 L792.22 195.27 L792.23 195.06 L792.23 194.84 L792.23 194.63 L792.23 194.41 L792.23 194.2 L792.23 193.99 L792.23 193.77 L792.23 193.56 L792.24 193.34 L792.24 193.13 L792.24 192.92 L792.24 192.7 L792.24 192.49 L792.24 192.27 L792.24 192.06 L792.25 191.84 L792.25 191.63 L792.25 191.42 L792.25 191.2 L792.25 190.99 L792.26 190.77 L792.26 190.56 L792.26 190.34 L792.26 190.13 L792.27 189.91 L792.27 189.7 L792.27 189.48 L792.28 189.27 L792.28 189.05 L792.28 188.84 L792.29 188.62 L792.29 188.41 L792.29 188.19 L792.3 187.97 L792.3 187.76 L792.3 187.54 L792.31 187.33 L792.31 187.11 L792.32 186.89 L792.32 186.68 L792.33 186.46 L792.33 186.24 L792.34 186.03 L792.34 185.81 L792.35 185.59 L792.36 185.38 L792.36 185.16 L792.37 184.94 L792.38 184.72 L792.38 184.5 L792.39 184.29 L792.4 184.07 L792.41 183.85 L792.42 183.63 L792.43 183.41 L792.43 183.19 L792.44 182.97 L792.45 182.75 L792.46 182.53 L792.48 182.31 L792.49 182.09 L792.5 181.87 L792.51 181.65 L792.52 181.43 L792.54 181.2 L792.55 180.98 L792.57 180.76 L792.58 180.54 L792.6 180.31 L792.61 180.09 L792.63 179.86 L792.65 179.64 L792.67 179.41 L792.69 179.19 L792.71 178.96 L792.73 178.73 L792.75 178.51 L792.77 178.28 L792.79 178.05 L792.82 177.82 L792.84 177.59 L792.87 177.36 L792.9 177.13 L792.93 176.89 L792.96 176.66 L792.99 176.43 L793.02 176.19 L793.05 175.95 L793.09 175.72 L793.13 175.48 L793.16 175.24 L793.2 175 L793.25 174.76 L793.29 174.52 L793.33 174.27 L793.38 174.03 L793.43 173.78 L793.48 173.54 L793.53 173.29 L793.59 173.04 L793.65 172.79 L793.7 172.53 L793.77 172.28 L793.83 172.02 L793.9 171.76 L793.97 171.5 L794.04 171.24 L794.12 170.97 L794.2 170.71 L794.28 170.44 L794.36 170.17 L794.45 169.89 L794.55 169.62 L794.64 169.34 L794.74 169.06 L794.85 168.77 L794.96 168.49 L795.07 168.2 L795.19 167.9 L795.31 167.61 L795.44 167.31 L795.58 167 L795.71 166.69 L795.86 166.38 L796.01 166.07 L796.17 165.75 L796.33 165.42 L796.5 165.09 L796.68 164.76 L796.86 164.42 L797.06 164.07 L797.26 163.72 L797.46 163.37 L797.68 163 L797.91 162.64 L798.14 162.26 L798.39 161.88 L798.64 161.49 L798.91 161.09 L799.18 160.69 L799.47 160.28 L799.77 159.86 L800.08 159.43 L800.41 158.99 L800.75 158.54 L801.1 158.08 L801.47 157.62 L801.85 157.14 L802.25 156.64 L802.66 156.14 L803.09 155.63 L803.54 155.1 L804.01 154.56 L804.5 154 L805 153.43 L805.53 152.84 L806.08 152.24 L806.65 151.62 L807.25 150.98 L807.87 150.33 L808.51 149.66 L809.19 148.96 L809.89 148.24 L810.62 147.51 L811.38 146.75 L812.17 145.96 L812.99 145.15 L813.85 144.32 L814.74 143.45 L815.67 142.56 L816.64 141.64 L817.64 140.69 L818.69 139.7 L819.78 138.68 L820.92 137.63 L822.1 136.54 L823.34 135.41 L824.62 134.24 L825.96 133.02 L827.35 131.77 L828.8 130.47 L830.31 129.12 L831.88 127.72 L833.51 126.27 L835.22 124.77 L836.99 123.21 L838.84 121.59 L840.76 119.92 L842.76 118.18 L844.84 116.38 L847.01 114.51 L849.27 112.58 L851.63 110.58 L854.08 108.51 L856.63 106.37 L859.28 104.15 L859.35 104.09 L859.93 103.61 L860.51 103.13 L861.09 102.65 L861.67 102.17 L862.25 101.69 L862.83 101.21 L863.41 100.73 L864 100.26 L864.58 99.78 L865.16 99.3 L865.74 98.83 L866.32 98.36 L866.9 97.88 L867.48 97.41 L868.06 96.94 L868.64 96.47 L869.22 96 L869.8 95.54 L870.38 95.07 L870.96 94.6 L871.54 94.14 L872.12 93.67 L872.7 93.21 L873.29 92.75 L873.87 92.28 L874.45 91.82 L875.03 91.36 L875.61 90.91 L876.19 90.45 L876.77 89.99 L877.35 89.54 L877.93 89.08 L878.51 88.63 L879.09 88.18 L879.67 87.73 L880.25 87.28 L880.83 86.83 L881.41 86.38 L881.99 85.93 L882.58 85.49 L883.16 85.04 L883.74 84.6 L884.32 84.16 L884.9 83.72 L885.48 83.28 L886.06 82.84 L886.64 82.4 L887.22 81.96 L887.8 81.53 L888.38 81.09 L888.96 80.66 L889.54 80.23 L890.12 79.8 L890.7 79.37 L891.28 78.94 L891.87 78.51 L892.45 78.09 L893.03 77.66 L893.61 77.24 L894.19 76.82 L894.77 76.4 L895.35 75.98 L895.93 75.56 L896.51 75.14 L897.09 74.73 L897.67 74.31 L898.25 73.9 L898.83 73.49 L899.41 73.08 L899.99 72.67 L900.57 72.26 L901.16 71.86 L901.74 71.45 L902.32 71.05 L902.9 70.64 L903.48 70.24 L904.06 69.84 L904.64 69.44 L905.22 69.05 L905.8 68.65 L906.38 68.26 L906.96 67.86 L907.54 67.47 L908.12 67.08 L908.7 66.69 L909.28 66.3 L909.86 65.92 L910.45 65.53 L911.03 65.15 L911.61 64.76 L912.19 64.38 L912.77 64 L913.35 63.62 L913.93 63.24 L914.51 62.87 L915.09 62.49 L915.67 62.12 L916.25 61.75 L916.83 61.37 L917.41 61 L917.99 60.64 L918.57 60.27 L919.16 59.9 L919.74 59.54 L920.32 59.17 L920.9 58.81 L921.48 58.45 L922.06 58.09 L922.64 57.73 L923.22 57.37 L923.8 57.02 L924.38 56.66 L924.96 56.31 L925.54 55.95 L926.12 55.6 L926.7 55.25 L927.28 54.9 L927.86 54.55 L928.45 54.21 L929.03 53.86 L929.61 53.52 L930.19 53.17 L930.77 52.83 L931.35 52.49 L931.93 52.15 L932.51 51.81 L933.09 51.47 L933.67 51.13 L934.25 50.8 L934.83 50.46 L935.41 50.13 L935.99 49.79 L936.57 49.46 L937.15 49.13 L937.74 48.8 L938.32 48.47 L938.9 48.14 L939.48 47.82 L940.06 47.49 L940.64 47.17 L941.22 46.84 L941.8 46.52 L942.38 46.2 L942.96 45.87 L943.54 45.55 L944.12 45.23 L944.7 44.92 L945.28 44.6 L945.86 44.28 L946.44 43.96 L947.03 43.65 L947.61 43.33 L948.19 43.02 L948.77 42.71 L949.35 42.4 L949.93 42.08 L950.51 41.77 L951.09 41.46 L951.67 41.16 L952.25 40.85 L952.83 40.54 L953.41 40.23 L953.99 39.93 L954.57 39.62 L955.15 39.32 L955.73 39.01 L956.32 38.71 L956.9 38.41 L957.48 38.11 L958.06 37.8 L958.64 37.5 L959.22 37.2 L959.8 36.9 L960.38 36.61 L960.96 36.31 L961.54 36.01 L962.12 35.71 L962.7 35.42 L963.28 35.12 L963.86 34.83 L964.44 34.53 L965.02 34.24 L965.61 33.94 L966.19 33.65 L966.77 33.36 L967.35 33.07 L967.93 32.78 L968.51 32.48 L969.09 32.19 L969.67 31.9 L970.25 31.61 L970.83 31.33 L971.41 31.04 L971.99 30.75 L972.57 30.46 L973.15 30.17 L973.73 29.89 L974.31 29.6 L974.9 29.32 L975.48 29.03 L976.06 28.75 L976.64 28.46 L977.22 28.18 L977.8 27.89 L978.38 27.61 L978.96 27.33 L979.54 27.04 L980.12 26.76 L980.7 26.48 L981.28 26.2 L981.86 25.92 L982.44 25.63 L983.02 25.35 L983.6 25.07 L984.19 24.79 L984.77 24.51 L985.35 24.23 L985.93 23.96 L986.51 23.68 L987.09 23.4 L987.67 23.12 L988.25 22.84 L988.83 22.56 L989.41 22.29 L989.99 22.01 L990.57 21.73 L991.15 21.46 L991.73 21.18 L992.31 20.9 L992.89 20.63 L993.48 20.35 L994.06 20.08 L994.64 19.8 L995.22 19.53 L995.8 19.25 L996.38 18.98 L996.96 18.7 L997.54 18.43 L998.12 18.16 L998.7 17.88 L999.28 17.61 L999.86 17.34 L1000.44 17.06 L1001.02 16.79 L1001.6 16.52 L1002.18 16.25 L1002.77 15.97 L1003.35 15.7 L1003.93 15.43 L1004.51 15.16 L1005.09 14.89 L1005.67 14.62 L1006.25 14.34 L1006.83 14.07 L1007.41 13.8 L1007.99 13.53 L1008.57 13.26 L1009.15 12.99 L1009.73 12.72 L1010.31 12.45 L1010.89 12.18 L1011.47 11.91 L1012.06 11.64 L1012.64 11.37 L1013.22 11.1 L1013.8 10.83 L1014.38 10.56 L1014.96 10.29 L1015.54 10.02 L1016.12 9.76 L1016.7 9.49 L1017.28 9.22 L1017.86 8.95 L1018.44 8.68 L1019.02 8.41 L1019.6 8.14 L1020.18 7.88 L1020.76 7.61 L1021.35 7.34 L1021.93 7.07 L1022.51 6.8 L1023.09 6.54 L1023.67 6.27 L1024.25 6 L1024.83 5.73 L1025.41 5.47 L1025.99 5.2 L1026.57 4.93 L1027.15 4.67 L1027.73 4.4 L1028.31 4.13 L1028.89 3.87 L1029.47 3.6 L1030.05 3.33 L1030.64 3.07 L1031.22 2.8 L1031.8 2.53 L1032.38 2.27 L1032.96 2 L1033.54 1.73 L1034.12 1.47 L1034.7 1.2 L1035.28 0.94 L1035.86 0.67 L1036.44 0.4 L1037.02 0.14 L1037.6 -0.13 L1038.18 -0.39 L1038.76 -0.66 L1039.34 -0.92 L1039.93 -1.19 L1040.51 -1.46 L1041.09 -1.72 L1041.67 -1.99 L1042.25 -2.25 L1042.83 -2.52 L1043.41 -2.78 L1043.99 -3.05 L1044.57 -3.31 L1045.15 -3.58 L1045.73 -3.84 L1046.31 -4.11 L1046.89 -4.37 L1047.47 -4.64 L1048.05 -4.9 L1048.63 -5.17 L1049.22 -5.43 L1049.8 -5.7 L1050.38 -5.96 L1050.96 -6.23 L1051.54 -6.49 L1052.12 -6.76 L1052.7 -7.02 L1053.28 -7.29 L1053.86 -7.55 L1054.44 -7.82 L1055.02 -8.08 L1055.6 -8.34 L1056.18 -8.61 L1056.76 -8.87 L1057.34 -9.14 L1057.92 -9.4 L1058.51 -9.67 L1059.09 -9.93 L1059.67 -10.19 L1060.25 -10.46 L1060.83 -10.72 L1061.41 -10.99 L1061.99 -11.25 L1062.57 -11.52 L1063.15 -11.78 L1063.73 -12.04 L1064.31 -12.31 L1064.89 -12.57 L1065.47 -12.84 L1066.05 -13.1 L1066.63 -13.36 L1067.21 -13.63 L1067.8 -13.89 L1068.38 -14.16 L1068.96 -14.42 L1069.54 -14.68 L1070.12 -14.95 L1070.7 -15.21 L1071.28 -15.48 L1071.86 -15.74 L1072.44 -16 L1073.02 -16.27 L1073.6 -16.53 L1074.18 -16.79 L1074.76 -17.06 L1075.34 -17.32 L1075.92 -17.59 L1076.5 -17.85 L1077.09 -18.11 L1077.67 -18.38 L1078.25 -18.64 L1078.83 -18.9 L1079.41 -19.17 L1079.99 -19.43 L1080.57 -19.69 L1081.15 -19.96 L1081.73 -20.22 L1082.31 -20.38 L1182.62 -20.38 L1182.62 404.88 Z" fill="#ffff66" stroke="#000" stroke-width="1.1" stroke-linejoin="round"/>
<path d="M792.2 404.88 L792.2 238.56 L792.2 238.34 L792.2 238.13 L792.2 237.92 L792.2 237.7 L792.2 237.49 L792.2 237.28 L792.2 237.07 L792.2 236.85 L792.2 236.64 L792.2 236.43 L792.2 236.21 L792.2 236 L792.2 235.79 L792.2 235.57 L792.2 235.36 L792.2 235.15 L792.2 234.93 L792.2 234.72 L792.2 234.51 L792.2 234.29 L792.2 234.08 L792.2 233.87 L792.2 233.65 L792.2 233.44 L792.2 233.23 L792.2 233.02 L792.2 232.8 L792.2 232.59 L792.2 232.38 L792.2 232.16 L792.2 231.95 L792.2 231.74 L792.2 231.52 L792.2 231.31 L792.2 231.1 L792.2 230.88 L792.2 230.67 L792.2 230.46 L792.2 230.24 L792.2 230.03 L792.2 229.82 L792.2 229.6 L792.2 229.39 L792.2 229.18 L792.2 228.97 L792.2 228.75 L792.2 228.54 L792.2 228.33 L792.2 228.11 L792.2 227.9 L792.2 227.69 L792.2 227.47 L792.2 227.26 L792.2 227.05 L792.2 226.83 L792.2 226.62 L792.2 226.41 L792.2 226.19 L792.2 225.98 L792.2 225.77 L792.2 225.55 L792.2 225.34 L792.2 225.13 L792.2 224.92 L792.2 224.7 L792.2 224.49 L792.2 224.28 L792.2 224.06 L792.2 223.85 L792.2 223.64 L792.2 223.42 L792.2 223.21 L792.2 223 L792.2 222.78 L792.2 222.57 L792.2 222.36 L792.2 222.14 L792.2 221.93 L792.2 221.72 L792.2 221.5 L792.2 221.29 L792.2 221.08 L792.2 220.86 L792.2 220.65 L792.2 220.44 L792.2 220.23 L792.2 220.01 L792.2 219.8 L792.2 219.59 L792.2 219.37 L792.2 219.16 L792.2 218.95 L792.2 218.73 L792.2 218.52 L792.2 218.31 L792.2 218.09 L792.2 217.88 L792.2 217.67 L792.2 217.45 L792.2 217.24 L792.2 217.03 L792.2 216.81 L792.2 216.6 L792.2 216.39 L792.2 216.18 L792.2 215.96 L792.2 215.75 L792.2 215.54 L792.2 215.32 L792.2 215.11 L792.2 214.9 L792.2 214.68 L792.2 214.47 L792.2 214.26 L792.2 214.04 L792.2 213.83 L792.2 213.62 L792.2 213.4 L792.2 213.19 L792.2 212.98 L792.2 212.76 L792.2 212.55 L792.2 212.34 L792.2 212.12 L792.2 211.91 L792.2 211.7 L792.2 211.49 L792.2 211.27 L792.2 211.06 L792.2 210.85 L792.2 210.63 L792.2 210.42 L792.2 210.21 L792.2 209.99 L792.2 209.78 L792.2 209.57 L792.2 209.35 L792.2 209.14 L792.2 208.93 L792.2 208.71 L792.2 208.5 L792.2 208.29 L792.2 208.07 L792.2 207.86 L792.2 207.65 L792.2 207.43 L792.2 207.22 L792.2 207.01 L792.2 206.79 L792.2 206.58 L792.2 206.37 L792.2 206.16 L792.2 205.94 L792.2 205.73 L792.2 205.52 L792.2 205.3 L792.2 205.09 L792.2 204.88 L792.2 204.66 L792.2 204.45 L792.2 204.24 L792.2 204.02 L792.2 203.81 L792.21 203.6 L792.21 203.38 L792.21 203.17 L792.21 202.96 L792.21 202.74 L792.21 202.53 L792.21 202.32 L792.21 202.1 L792.21 201.89 L792.21 201.68 L792.21 201.46 L792.21 201.25 L792.21 201.04 L792.21 200.82 L792.21 200.61 L792.21 200.4 L792.21 200.18 L792.21 199.97 L792.21 199.76 L792.21 199.54 L792.21 199.33 L792.21 199.12 L792.21 198.9 L792.21 198.69 L792.21 198.47 L792.21 198.26 L792.21 198.05 L792.22 197.83 L792.22 197.62 L792.22 197.41 L792.22 197.19 L792.22 196.98 L792.22 196.77 L792.22 196.55 L792.22 196.34 L792.22 196.12 L792.22 195.91 L792.22 195.7 L792.22 195.48 L792.22 195.27 L792.23 195.06 L792.23 194.84 L792.23 194.63 L792.23 194.41 L792.23 194.2 L792.23 193.99 L792.23 193.77 L792.23 193.56 L792.24 193.34 L792.24 193.13 L792.24 192.92 L792.24 192.7 L792.24 192.49 L792.24 192.27 L792.24 192.06 L792.25 191.84 L792.25 191.63 L792.25 191.42 L792.25 191.2 L792.25 190.99 L792.26 190.77 L792.26 190.56 L792.26 190.34 L792.26 190.13 L792.27 189.91 L792.27 189.7 L792.27 189.48 L792.28 189.27 L792.28 189.05 L792.28 188.84 L792.29 188.62 L792.29 188.41 L792.29 188.19 L792.3 187.97 L792.3 187.76 L792.3 187.54 L792.31 187.33 L792.31 187.11 L792.32 186.89 L792.32 186.68 L792.33 186.46 L792.33 186.24 L792.34 186.03 L792.34 185.81 L792.35 185.59 L792.36 185.38 L792.36 185.16 L792.37 184.94 L792.38 184.72 L792.38 184.5 L792.39 184.29 L792.4 184.07 L792.41 183.85 L792.42 183.63 L792.43 183.41 L792.43 183.19 L792.44 182.97 L792.45 182.75 L792.46 182.53 L792.48 182.31 L792.49 182.09 L792.5 181.87 L792.51 181.65 L792.52 181.43 L792.54 181.2 L792.55 180.98 L792.57 180.76 L792.58 180.54 L792.6 180.31 L792.61 180.09 L792.63 179.86 L792.65 179.64 L792.67 179.41 L792.69 179.19 L792.71 178.96 L792.73 178.73 L792.75 178.51 L792.77 178.28 L792.79 178.05 L792.82 177.82 L792.84 177.59 L792.87 177.36 L792.9 177.13 L792.93 176.89 L792.96 176.66 L792.99 176.43 L793.02 176.19 L793.05 175.95 L793.09 175.72 L793.13 175.48 L793.16 175.24 L793.2 175 L793.25 174.76 L793.29 174.52 L793.33 174.27 L793.38 174.03 L793.43 173.78 L793.48 173.54 L793.53 173.29 L793.59 173.04 L793.65 172.79 L793.7 172.53 L793.77 172.28 L793.83 172.02 L793.9 171.76 L793.97 171.5 L794.04 171.24 L794.12 170.97 L794.2 170.71 L794.28 170.44 L794.36 170.17 L794.45 169.89 L794.55 169.62 L794.64 169.34 L794.74 169.06 L794.85 168.77 L794.96 168.49 L795.07 168.2 L795.19 167.9 L795.31 167.61 L795.44 167.31 L795.58 167 L795.71 166.69 L795.86 166.38 L796.01 166.07 L796.17 165.75 L796.33 165.42 L796.5 165.09 L796.68 164.76 L796.86 164.42 L797.06 164.07 L797.26 163.72 L797.46 163.37 L797.68 163 L797.91 162.64 L798.14 162.26 L798.39 161.88 L798.64 161.49 L798.91 161.09 L799.18 160.69 L799.47 160.28 L799.77 159.86 L800.08 159.43 L800.41 158.99 L800.75 158.54 L801.1 158.08 L801.47 157.62 L801.85 157.14 L802.25 156.64 L802.66 156.14 L803.09 155.63 L803.54 155.1 L804.01 154.56 L804.5 154 L805 153.43 L805.53 152.84 L806.08 152.24 L806.65 151.62 L807.25 150.98 L807.87 150.33 L808.51 149.66 L809.19 148.96 L809.89 148.24 L810.62 147.51 L811.38 146.75 L812.17 145.96 L812.99 145.15 L813.85 144.32 L814.74 143.45 L815.67 142.56 L816.64 141.64 L817.64 140.69 L818.69 139.7 L819.78 138.68 L820.92 137.63 L822.1 136.54 L823.34 135.41 L824.62 134.24 L825.96 133.02 L827.35 131.77 L828.8 130.47 L830.31 129.12 L831.88 127.72 L833.51 126.27 L835.22 124.77 L836.99 123.21 L838.84 121.59 L840.76 119.92 L842.76 118.18 L844.84 116.38 L847.01 114.51 L849.27 112.58 L851.63 110.58 L854.08 108.51 L856.63 106.37 L859.28 104.15 L859.35 104.09 L859.93 103.61 L860.51 103.13 L861.09 102.65 L861.67 102.17 L862.25 101.69 L862.83 101.21 L863.41 100.73 L864 100.26 L864.58 99.78 L865.16 99.3 L865.74 98.83 L866.32 98.36 L866.9 97.88 L867.48 97.41 L868.06 96.94 L868.64 96.47 L869.22 96 L869.8 95.54 L870.38 95.07 L870.96 94.6 L871.54 94.14 L872.12 93.67 L872.7 93.21 L873.29 92.75 L873.87 92.28 L874.45 91.82 L875.03 91.36 L875.61 90.91 L876.19 90.45 L876.77 89.99 L877.35 89.54 L877.93 89.08 L878.51 88.63 L879.09 88.18 L879.67 87.73 L880.25 87.28 L880.83 86.83 L881.41 86.38 L881.99 85.93 L882.58 85.49 L883.16 85.04 L883.74 84.6 L884.32 84.16 L884.9 83.72 L885.48 83.28 L886.06 82.84 L886.64 82.4 L887.22 81.96 L887.8 81.53 L888.38 81.09 L888.96 80.66 L889.54 80.23 L890.12 79.8 L890.7 79.37 L891.28 78.94 L891.87 78.51 L892.45 78.09 L893.03 77.66 L893.61 77.24 L894.19 76.82 L894.77 76.4 L895.35 75.98 L895.93 75.56 L896.51 75.14 L897.09 74.73 L897.67 74.31 L898.25 73.9 L898.83 73.49 L899.41 73.08 L899.99 72.67 L900.57 72.26 L901.16 71.86 L901.74 71.45 L902.32 71.05 L902.9 70.64 L903.48 70.24 L904.06 69.84 L904.64 69.44 L905.22 69.05 L905.8 68.65 L906.38 68.26 L906.96 67.86 L907.54 67.47 L908.12 67.08 L908.7 66.69 L909.28 66.3 L909.86 65.92 L910.45 65.53 L911.03 65.15 L911.61 64.76 L912.19 64.38 L912.77 64 L913.35 63.62 L913.93 63.24 L914.51 62.87 L915.09 62.49 L915.67 62.12 L916.25 61.75 L916.83 61.37 L917.41 61 L917.99 60.64 L918.57 60.27 L919.16 59.9 L919.74 59.54 L920.32 59.17 L920.9 58.81 L921.48 58.45 L922.06 58.09 L922.64 57.73 L923.22 57.37 L923.8 57.02 L924.38 56.66 L924.96 56.31 L925.54 55.95 L926.12 55.6 L926.7 55.25 L927.28 54.9 L927.86 54.55 L928.45 54.21 L929.03 53.86 L929.61 53.52 L930.19 53.17 L930.77 52.83 L931.35 52.49 L931.93 52.15 L932.51 51.81 L933.09 51.47 L933.67 51.13 L934.25 50.8 L934.83 50.46 L935.41 50.13 L935.99 49.79 L936.57 49.46 L937.15 49.13 L937.74 48.8 L938.32 48.47 L938.9 48.14 L939.48 47.82 L940.06 47.49 L940.64 47.17 L941.22 46.84 L941.8 46.52 L942.38 46.2 L942.96 45.87 L943.54 45.55 L944.12 45.23 L944.7 44.92 L945.28 44.6 L945.86 44.28 L946.44 43.96 L947.03 43.65 L947.61 43.33 L948.19 43.02 L948.77 42.71 L949.35 42.4 L949.93 42.08 L950.51 41.77 L951.09 41.46 L951.67 41.16 L952.25 40.85 L952.83 40.54 L953.41 40.23 L953.99 39.93 L954.57 39.62 L955.15 39.32 L955.73 39.01 L956.32 38.71 L956.9 38.41 L957.48 38.11 L958.06 37.8 L958.64 37.5 L959.22 37.2 L959.8 36.9 L960.38 36.61 L960.96 36.31 L961.54 36.01 L962.12 35.71 L962.7 35.42 L963.28 35.12 L963.86 34.83 L964.44 34.53 L965.02 34.24 L965.61 33.94 L966.19 33.65 L966.77 33.36 L967.35 33.07 L967.93 32.78 L968.51 32.48 L969.09 32.19 L969.67 31.9 L970.25 31.61 L970.83 31.33 L971.41 31.04 L971.99 30.75 L972.57 30.46 L973.15 30.17 L973.73 29.89 L974.31 29.6 L974.9 29.32 L975.48 29.03 L976.06 28.75 L976.64 28.46 L977.22 28.18 L977.8 27.89 L978.38 27.61 L978.96 27.33 L979.54 27.04 L980.12 26.76 L980.7 26.48 L981.28 26.2 L981.86 25.92 L982.44 25.63 L983.02 25.35 L983.6 25.07 L984.19 24.79 L984.77 24.51 L985.35 24.23 L985.93 23.96 L986.51 23.68 L987.09 23.4 L987.67 23.12 L988.25 22.84 L988.83 22.56 L989.41 22.29 L989.99 22.01 L990.57 21.73 L991.15 21.46 L991.73 21.18 L992.31 20.9 L992.89 20.63 L993.48 20.35 L994.06 20.08 L994.64 19.8 L995.22 19.53 L995.8 19.25 L996.38 18.98 L996.96 18.7 L997.54 18.43 L998.12 18.16 L998.7 17.88 L999.28 17.61 L999.86 17.34 L1000.44 17.06 L1001.02 16.79 L1001.6 16.52 L1002.18 16.25 L1002.77 15.97 L1003.35 15.7 L1003.93 15.43 L1004.51 15.16 L1005.09 14.89 L1005.67 14.62 L1006.25 14.34 L1006.83 14.07 L1007.41 13.8 L1007.99 13.53 L1008.57 13.26 L1009.15 12.99 L1009.73 12.72 L1010.31 12.45 L1010.89 12.18 L1011.47 11.91 L1012.06 11.64 L1012.64 11.37 L1013.22 11.1 L1013.8 10.83 L1014.38 10.56 L1014.96 10.29 L1015.54 10.02 L1016.12 9.76 L1016.7 9.49 L1017.28 9.22 L1017.86 8.95 L1018.44 8.68 L1019.02 8.41 L1019.6 8.14 L1020.18 7.88 L1020.76 7.61 L1021.35 7.34 L1021.93 7.07 L1022.51 6.8 L1023.09 6.54 L1023.67 6.27 L1024.25 6 L1024.83 5.73 L1025.41 5.47 L1025.99 5.2 L1026.57 4.93 L1027.15 4.67 L1027.73 4.4 L1028.31 4.13 L1028.89 3.87 L1029.47 3.6 L1030.05 3.33 L1030.64 3.07 L1031.22 2.8 L1031.8 2.53 L1032.38 2.27 L1032.96 2 L1033.54 1.73 L1034.12 1.47 L1034.7 1.2 L1035.28 0.94 L1035.86 0.67 L1036.44 0.4 L1037.02 0.14 L1037.6 -0.13 L1038.18 -0.39 L1038.76 -0.66 L1039.34 -0.92 L1039.93 -1.19 L1040.51 -1.46 L1041.09 -1.72 L1041.67 -1.99 L1042.25 -2.25 L1042.83 -2.52 L1043.41 -2.78 L1043.99 -3.05 L1044.57 -3.31 L1045.15 -3.58 L1045.73 -3.84 L1046.31 -4.11 L1046.89 -4.37 L1047.47 -4.64 L1048.05 -4.9 L1048.63 -5.17 L1049.22 -5.43 L1049.8 -5.7 L1050.38 -5.96 L1050.96 -6.23 L1051.54 -6.49 L1052.12 -6.76 L1052.7 -7.02 L1053.28 -7.29 L1053.86 -7.55 L1054.44 -7.82 L1055.02 -8.08 L1055.6 -8.34 L1056.18 -8.61 L1056.76 -8.87 L1057.34 -9.14 L1057.92 -9.4 L1058.51 -9.67 L1059.09 -9.93 L1059.67 -10.19 L1060.25 -10.46 L1060.83 -10.72 L1061.41 -10.99 L1061.99 -11.25 L1062.57 -11.52 L1063.15 -11.78 L1063.73 -12.04 L1064.31 -12.31 L1064.89 -12.57 L1065.47 -12.84 L1066.05 -13.1 L1066.63 -13.36 L1067.21 -13.63 L1067.8 -13.89 L1068.38 -14.16 L1068.96 -14.42 L1069.54 -14.68 L1070.12 -14.95 L1070.7 -15.21 L1071.28 -15.48 L1071.86 -15.74 L1072.44 -16 L1073.02 -16.27 L1073.6 -16.53 L1074.18 -16.79 L1074.76 -17.06 L1075.34 -17.32 L1075.92 -17.59 L1076.5 -17.85 L1077.09 -18.11 L1077.67 -18.38 L1078.25 -18.64 L1078.83 -18.9 L1079.41 -19.17 L1079.99 -19.43 L1080.57 -19.69 L1081.15 -19.96 L1081.73 -20.22 L1082.31 -20.38 L1182.62 -20.38 L1182.62 404.88 Z" fill="url(#hB_f)"/>
<path d="M792.2 404.88 L792.2 238.56 L792.2 238.34 L792.2 238.13 L792.2 237.92 L792.2 237.7 L792.2 237.49 L792.2 237.28 L792.2 237.07 L792.2 236.85 L792.2 236.64 L792.2 236.43 L792.2 236.21 L792.2 236 L792.2 235.79 L792.2 235.57 L792.2 235.36 L792.2 235.15 L792.2 234.93 L792.2 234.72 L792.2 234.51 L792.2 234.29 L792.2 234.08 L792.2 233.87 L792.2 233.65 L792.2 233.44 L792.2 233.23 L792.2 233.02 L792.2 232.8 L792.2 232.59 L792.2 232.38 L792.2 232.16 L792.2 231.95 L792.2 231.74 L792.2 231.52 L792.2 231.31 L792.2 231.1 L792.2 230.88 L792.2 230.67 L792.2 230.46 L792.2 230.24 L792.2 230.03 L792.2 229.82 L792.2 229.6 L792.2 229.39 L792.2 229.18 L792.2 228.97 L792.2 228.75 L792.2 228.54 L792.2 228.33 L792.2 228.11 L792.2 227.9 L792.2 227.69 L792.2 227.47 L792.2 227.26 L792.2 227.05 L792.2 226.83 L792.2 226.62 L792.2 226.41 L792.2 226.19 L792.2 225.98 L792.2 225.77 L792.2 225.55 L792.2 225.34 L792.2 225.13 L792.2 224.92 L792.2 224.7 L792.2 224.49 L792.2 224.28 L792.2 224.06 L792.2 223.85 L792.2 223.64 L792.2 223.42 L792.2 223.21 L792.2 223 L792.2 222.78 L792.2 222.57 L792.2 222.36 L792.2 222.14 L792.2 221.93 L792.2 221.72 L792.2 221.5 L792.2 221.29 L792.2 221.08 L792.2 220.86 L792.2 220.65 L792.2 220.44 L792.2 220.23 L792.2 220.01 L792.2 219.8 L792.2 219.59 L792.2 219.37 L792.2 219.16 L792.2 218.95 L792.2 218.73 L792.2 218.52 L792.2 218.31 L792.2 218.09 L792.2 217.88 L792.2 217.67 L792.2 217.45 L792.2 217.24 L792.2 217.03 L792.2 216.81 L792.2 216.6 L792.2 216.39 L792.2 216.18 L792.2 215.96 L792.2 215.75 L792.2 215.54 L792.2 215.32 L792.2 215.11 L792.2 214.9 L792.2 214.68 L792.2 214.47 L792.2 214.26 L792.2 214.04 L792.2 213.83 L792.2 213.62 L792.2 213.4 L792.2 213.19 L792.2 212.98 L792.2 212.76 L792.2 212.55 L792.2 212.34 L792.2 212.12 L792.2 211.91 L792.2 211.7 L792.2 211.49 L792.2 211.27 L792.2 211.06 L792.2 210.85 L792.2 210.63 L792.2 210.42 L792.2 210.21 L792.2 209.99 L792.2 209.78 L792.2 209.57 L792.2 209.35 L792.2 209.14 L792.2 208.93 L792.2 208.71 L792.2 208.5 L792.2 208.29 L792.2 208.07 L792.2 207.86 L792.2 207.65 L792.2 207.43 L792.2 207.22 L792.2 207.01 L792.2 206.79 L792.2 206.58 L792.2 206.37 L792.2 206.16 L792.2 205.94 L792.2 205.73 L792.2 205.52 L792.2 205.3 L792.2 205.09 L792.2 204.88 L792.2 204.66 L792.2 204.45 L792.2 204.24 L792.2 204.02 L792.2 203.81 L792.21 203.6 L792.21 203.38 L792.21 203.17 L792.21 202.96 L792.21 202.74 L792.21 202.53 L792.21 202.32 L792.21 202.1 L792.21 201.89 L792.21 201.68 L792.21 201.46 L792.21 201.25 L792.21 201.04 L792.21 200.82 L792.21 200.61 L792.21 200.4 L792.21 200.18 L792.21 199.97 L792.21 199.76 L792.21 199.54 L792.21 199.33 L792.21 199.12 L792.21 198.9 L792.21 198.69 L792.21 198.47 L792.21 198.26 L792.21 198.05 L792.22 197.83 L792.22 197.62 L792.22 197.41 L792.22 197.19 L792.22 196.98 L792.22 196.77 L792.22 196.55 L792.22 196.34 L792.22 196.12 L792.22 195.91 L792.22 195.7 L792.22 195.48 L792.22 195.27 L792.23 195.06 L792.23 194.84 L792.23 194.63 L792.23 194.41 L792.23 194.2 L792.23 193.99 L792.23 193.77 L792.23 193.56 L792.24 193.34 L792.24 193.13 L792.24 192.92 L792.24 192.7 L792.24 192.49 L792.24 192.27 L792.24 192.06 L792.25 191.84 L792.25 191.63 L792.25 191.42 L792.25 191.2 L792.25 190.99 L792.26 190.77 L792.26 190.56 L792.26 190.34 L792.26 190.13 L792.27 189.91 L792.27 189.7 L792.27 189.48 L792.28 189.27 L792.28 189.05 L792.28 188.84 L792.29 188.62 L792.29 188.41 L792.29 188.19 L792.3 187.97 L792.3 187.76 L792.3 187.54 L792.31 187.33 L792.31 187.11 L792.32 186.89 L792.32 186.68 L792.33 186.46 L792.33 186.24 L792.34 186.03 L792.34 185.81 L792.35 185.59 L792.36 185.38 L792.36 185.16 L792.37 184.94 L792.38 184.72 L792.38 184.5 L792.39 184.29 L792.4 184.07 L792.41 183.85 L792.42 183.63 L792.43 183.41 L792.43 183.19 L792.44 182.97 L792.45 182.75 L792.46 182.53 L792.48 182.31 L792.49 182.09 L792.5 181.87 L792.51 181.65 L792.52 181.43 L792.54 181.2 L792.55 180.98 L792.57 180.76 L792.58 180.54 L792.6 180.31 L792.61 180.09 L792.63 179.86 L792.65 179.64 L792.67 179.41 L792.69 179.19 L792.71 178.96 L792.73 178.73 L792.75 178.51 L792.77 178.28 L792.79 178.05 L792.82 177.82 L792.84 177.59 L792.87 177.36 L792.9 177.13 L792.93 176.89 L792.96 176.66 L792.99 176.43 L793.02 176.19 L793.05 175.95 L793.09 175.72 L793.13 175.48 L793.16 175.24 L793.2 175 L793.25 174.76 L793.29 174.52 L793.33 174.27 L793.38 174.03 L793.43 173.78 L793.48 173.54 L793.53 173.29 L793.59 173.04 L793.65 172.79 L793.7 172.53 L793.77 172.28 L793.83 172.02 L793.9 171.76 L793.97 171.5 L794.04 171.24 L794.12 170.97 L794.2 170.71 L794.28 170.44 L794.36 170.17 L794.45 169.89 L794.55 169.62 L794.64 169.34 L794.74 169.06 L794.85 168.77 L794.96 168.49 L795.07 168.2 L795.19 167.9 L795.31 167.61 L795.44 167.31 L795.58 167 L795.71 166.69 L795.86 166.38 L796.01 166.07 L796.17 165.75 L796.33 165.42 L796.5 165.09 L796.68 164.76 L796.86 164.42 L797.06 164.07 L797.26 163.72 L797.46 163.37 L797.68 163 L797.91 162.64 L798.14 162.26 L798.39 161.88 L798.64 161.49 L798.91 161.09 L799.18 160.69 L799.47 160.28 L799.77 159.86 L800.08 159.43 L800.41 158.99 L800.75 158.54 L801.1 158.08 L801.47 157.62 L801.85 157.14 L802.25 156.64 L802.66 156.14 L803.09 155.63 L803.54 155.1 L804.01 154.56 L804.5 154 L805 153.43 L805.53 152.84 L806.08 152.24 L806.65 151.62 L807.25 150.98 L807.87 150.33 L808.51 149.66 L809.19 148.96 L809.89 148.24 L810.62 147.51 L811.38 146.75 L812.17 145.96 L812.99 145.15 L813.85 144.32 L814.74 143.45 L815.67 142.56 L816.64 141.64 L817.64 140.69 L818.69 139.7 L819.78 138.68 L820.92 137.63 L822.1 136.54 L823.34 135.41 L824.62 134.24 L825.96 133.02 L827.35 131.77 L828.8 130.47 L830.31 129.12 L831.88 127.72 L833.51 126.27 L835.22 124.77 L836.99 123.21 L838.84 121.59 L840.76 119.92 L842.76 118.18 L844.84 116.38 L847.01 114.51 L849.27 112.58 L851.63 110.58 L854.08 108.51 L856.63 106.37 L859.28 104.15 L859.35 104.09 L859.93 103.61 L860.51 103.13 L861.09 102.65 L861.67 102.17 L862.25 101.69 L862.83 101.21 L863.41 100.73 L864 100.26 L864.58 99.78 L865.16 99.3 L865.74 98.83 L866.32 98.36 L866.9 97.88 L867.48 97.41 L868.06 96.94 L868.64 96.47 L869.22 96 L869.8 95.54 L870.38 95.07 L870.96 94.6 L871.54 94.14 L872.12 93.67 L872.7 93.21 L873.29 92.75 L873.87 92.28 L874.45 91.82 L875.03 91.36 L875.61 90.91 L876.19 90.45 L876.77 89.99 L877.35 89.54 L877.93 89.08 L878.51 88.63 L879.09 88.18 L879.67 87.73 L880.25 87.28 L880.83 86.83 L881.41 86.38 L881.99 85.93 L882.58 85.49 L883.16 85.04 L883.74 84.6 L884.32 84.16 L884.9 83.72 L885.48 83.28 L886.06 82.84 L886.64 82.4 L887.22 81.96 L887.8 81.53 L888.38 81.09 L888.96 80.66 L889.54 80.23 L890.12 79.8 L890.7 79.37 L891.28 78.94 L891.87 78.51 L892.45 78.09 L893.03 77.66 L893.61 77.24 L894.19 76.82 L894.77 76.4 L895.35 75.98 L895.93 75.56 L896.51 75.14 L897.09 74.73 L897.67 74.31 L898.25 73.9 L898.83 73.49 L899.41 73.08 L899.99 72.67 L900.57 72.26 L901.16 71.86 L901.74 71.45 L902.32 71.05 L902.9 70.64 L903.48 70.24 L904.06 69.84 L904.64 69.44 L905.22 69.05 L905.8 68.65 L906.38 68.26 L906.96 67.86 L907.54 67.47 L908.12 67.08 L908.7 66.69 L909.28 66.3 L909.86 65.92 L910.45 65.53 L911.03 65.15 L911.61 64.76 L912.19 64.38 L912.77 64 L913.35 63.62 L913.93 63.24 L914.51 62.87 L915.09 62.49 L915.67 62.12 L916.25 61.75 L916.83 61.37 L917.41 61 L917.99 60.64 L918.57 60.27 L919.16 59.9 L919.74 59.54 L920.32 59.17 L920.9 58.81 L921.48 58.45 L922.06 58.09 L922.64 57.73 L923.22 57.37 L923.8 57.02 L924.38 56.66 L924.96 56.31 L925.54 55.95 L926.12 55.6 L926.7 55.25 L927.28 54.9 L927.86 54.55 L928.45 54.21 L929.03 53.86 L929.61 53.52 L930.19 53.17 L930.77 52.83 L931.35 52.49 L931.93 52.15 L932.51 51.81 L933.09 51.47 L933.67 51.13 L934.25 50.8 L934.83 50.46 L935.41 50.13 L935.99 49.79 L936.57 49.46 L937.15 49.13 L937.74 48.8 L938.32 48.47 L938.9 48.14 L939.48 47.82 L940.06 47.49 L940.64 47.17 L941.22 46.84 L941.8 46.52 L942.38 46.2 L942.96 45.87 L943.54 45.55 L944.12 45.23 L944.7 44.92 L945.28 44.6 L945.86 44.28 L946.44 43.96 L947.03 43.65 L947.61 43.33 L948.19 43.02 L948.77 42.71 L949.35 42.4 L949.93 42.08 L950.51 41.77 L951.09 41.46 L951.67 41.16 L952.25 40.85 L952.83 40.54 L953.41 40.23 L953.99 39.93 L954.57 39.62 L955.15 39.32 L955.73 39.01 L956.32 38.71 L956.9 38.41 L957.48 38.11 L958.06 37.8 L958.64 37.5 L959.22 37.2 L959.8 36.9 L960.38 36.61 L960.96 36.31 L961.54 36.01 L962.12 35.71 L962.7 35.42 L963.28 35.12 L963.86 34.83 L964.44 34.53 L965.02 34.24 L965.61 33.94 L966.19 33.65 L966.77 33.36 L967.35 33.07 L967.93 32.78 L968.51 32.48 L969.09 32.19 L969.67 31.9 L970.25 31.61 L970.83 31.33 L971.41 31.04 L971.99 30.75 L972.57 30.46 L973.15 30.17 L973.73 29.89 L974.31 29.6 L974.9 29.32 L975.48 29.03 L976.06 28.75 L976.64 28.46 L977.22 28.18 L977.8 27.89 L978.38 27.61 L978.96 27.33 L979.54 27.04 L980.12 26.76 L980.7 26.48 L981.28 26.2 L981.86 25.92 L982.44 25.63 L983.02 25.35 L983.6 25.07 L984.19 24.79 L984.77 24.51 L985.35 24.23 L985.93 23.96 L986.51 23.68 L987.09 23.4 L987.67 23.12 L988.25 22.84 L988.83 22.56 L989.41 22.29 L989.99 22.01 L990.57 21.73 L991.15 21.46 L991.73 21.18 L992.31 20.9 L992.89 20.63 L993.48 20.35 L994.06 20.08 L994.64 19.8 L995.22 19.53 L995.8 19.25 L996.38 18.98 L996.96 18.7 L997.54 18.43 L998.12 18.16 L998.7 17.88 L999.28 17.61 L999.86 17.34 L1000.44 17.06 L1001.02 16.79 L1001.6 16.52 L1002.18 16.25 L1002.77 15.97 L1003.35 15.7 L1003.93 15.43 L1004.51 15.16 L1005.09 14.89 L1005.67 14.62 L1006.25 14.34 L1006.83 14.07 L1007.41 13.8 L1007.99 13.53 L1008.57 13.26 L1009.15 12.99 L1009.73 12.72 L1010.31 12.45 L1010.89 12.18 L1011.47 11.91 L1012.06 11.64 L1012.64 11.37 L1013.22 11.1 L1013.8 10.83 L1014.38 10.56 L1014.96 10.29 L1015.54 10.02 L1016.12 9.76 L1016.7 9.49 L1017.28 9.22 L1017.86 8.95 L1018.44 8.68 L1019.02 8.41 L1019.6 8.14 L1020.18 7.88 L1020.76 7.61 L1021.35 7.34 L1021.93 7.07 L1022.51 6.8 L1023.09 6.54 L1023.67 6.27 L1024.25 6 L1024.83 5.73 L1025.41 5.47 L1025.99 5.2 L1026.57 4.93 L1027.15 4.67 L1027.73 4.4 L1028.31 4.13 L1028.89 3.87 L1029.47 3.6 L1030.05 3.33 L1030.64 3.07 L1031.22 2.8 L1031.8 2.53 L1032.38 2.27 L1032.96 2 L1033.54 1.73 L1034.12 1.47 L1034.7 1.2 L1035.28 0.94 L1035.86 0.67 L1036.44 0.4 L1037.02 0.14 L1037.6 -0.13 L1038.18 -0.39 L1038.76 -0.66 L1039.34 -0.92 L1039.93 -1.19 L1040.51 -1.46 L1041.09 -1.72 L1041.67 -1.99 L1042.25 -2.25 L1042.83 -2.52 L1043.41 -2.78 L1043.99 -3.05 L1044.57 -3.31 L1045.15 -3.58 L1045.73 -3.84 L1046.31 -4.11 L1046.89 -4.37 L1047.47 -4.64 L1048.05 -4.9 L1048.63 -5.17 L1049.22 -5.43 L1049.8 -5.7 L1050.38 -5.96 L1050.96 -6.23 L1051.54 -6.49 L1052.12 -6.76 L1052.7 -7.02 L1053.28 -7.29 L1053.86 -7.55 L1054.44 -7.82 L1055.02 -8.08 L1055.6 -8.34 L1056.18 -8.61 L1056.76 -8.87 L1057.34 -9.14 L1057.92 -9.4 L1058.51 -9.67 L1059.09 -9.93 L1059.67 -10.19 L1060.25 -10.46 L1060.83 -10.72 L1061.41 -10.99 L1061.99 -11.25 L1062.57 -11.52 L1063.15 -11.78 L1063.73 -12.04 L1064.31 -12.31 L1064.89 -12.57 L1065.47 -12.84 L1066.05 -13.1 L1066.63 -13.36 L1067.21 -13.63 L1067.8 -13.89 L1068.38 -14.16 L1068.96 -14.42 L1069.54 -14.68 L1070.12 -14.95 L1070.7 -15.21 L1071.28 -15.48 L1071.86 -15.74 L1072.44 -16 L1073.02 -16.27 L1073.6 -16.53 L1074.18 -16.79 L1074.76 -17.06 L1075.34 -17.32 L1075.92 -17.59 L1076.5 -17.85 L1077.09 -18.11 L1077.67 -18.38 L1078.25 -18.64 L1078.83 -18.9 L1079.41 -19.17 L1079.99 -19.43 L1080.57 -19.69 L1081.15 -19.96 L1081.73 -20.22 L1082.31 -20.38 L1182.62 -20.38 L1182.62 404.88 Z" fill="url(#hB_b)"/>
<path d="M792.2 404.88 L792.2 238.56 L792.2 238.34 L792.2 238.13 L792.2 237.92 L792.2 237.7 L792.2 237.49 L792.2 237.28 L792.2 237.07 L792.2 236.85 L792.2 236.64 L792.2 236.43 L792.2 236.21 L792.2 236 L792.2 235.79 L792.2 235.57 L792.2 235.36 L792.2 235.15 L792.2 234.93 L792.2 234.72 L792.2 234.51 L792.2 234.29 L792.2 234.08 L792.2 233.87 L792.2 233.65 L792.2 233.44 L792.2 233.23 L792.2 233.02 L792.2 232.8 L792.2 232.59 L792.2 232.38 L792.2 232.16 L792.2 231.95 L792.2 231.74 L792.2 231.52 L792.2 231.31 L792.2 231.1 L792.2 230.88 L792.2 230.67 L792.2 230.46 L792.2 230.24 L792.2 230.03 L792.2 229.82 L792.2 229.6 L792.2 229.39 L792.2 229.18 L792.2 228.97 L792.2 228.75 L792.2 228.54 L792.2 228.33 L792.2 228.11 L792.2 227.9 L792.2 227.69 L792.2 227.47 L792.2 227.26 L792.2 227.05 L792.2 226.83 L792.2 226.62 L792.2 226.41 L792.2 226.19 L792.2 225.98 L792.2 225.77 L792.2 225.55 L792.2 225.34 L792.2 225.13 L792.2 224.92 L792.2 224.7 L792.2 224.49 L792.2 224.28 L792.2 224.06 L792.2 223.85 L792.2 223.64 L792.2 223.42 L792.2 223.21 L792.2 223 L792.2 222.78 L792.2 222.57 L792.2 222.36 L792.2 222.14 L792.2 221.93 L792.2 221.72 L792.2 221.5 L792.2 221.29 L792.2 221.08 L792.2 220.86 L792.2 220.65 L792.2 220.44 L792.2 220.23 L792.2 220.01 L792.2 219.8 L792.2 219.59 L792.2 219.37 L792.2 219.16 L792.2 218.95 L792.2 218.73 L792.2 218.52 L792.2 218.31 L792.2 218.09 L792.2 217.88 L792.2 217.67 L792.2 217.45 L792.2 217.24 L792.2 217.03 L792.2 216.81 L792.2 216.6 L792.2 216.39 L792.2 216.18 L792.2 215.96 L792.2 215.75 L792.2 215.54 L792.2 215.32 L792.2 215.11 L792.2 214.9 L792.2 214.68 L792.2 214.47 L792.2 214.26 L792.2 214.04 L792.2 213.83 L792.2 213.62 L792.2 213.4 L792.2 213.19 L792.2 212.98 L792.2 212.76 L792.2 212.55 L792.2 212.34 L792.2 212.12 L792.2 211.91 L792.2 211.7 L792.2 211.49 L792.2 211.27 L792.2 211.06 L792.2 210.85 L792.2 210.63 L792.2 210.42 L792.2 210.21 L792.2 209.99 L792.2 209.78 L792.2 209.57 L792.2 209.35 L792.2 209.14 L792.2 208.93 L792.2 208.71 L792.2 208.5 L792.2 208.29 L792.2 208.07 L792.2 207.86 L792.2 207.65 L792.2 207.43 L792.2 207.22 L792.2 207.01 L792.2 206.79 L792.2 206.58 L792.2 206.37 L792.2 206.16 L792.2 205.94 L792.2 205.73 L792.2 205.52 L792.2 205.3 L792.2 205.09 L792.2 204.88 L792.2 204.66 L792.2 204.45 L792.2 204.24 L792.2 204.02 L792.2 203.81 L792.21 203.6 L792.21 203.38 L792.21 203.17 L792.21 202.96 L792.21 202.74 L792.21 202.53 L792.21 202.32 L792.21 202.1 L792.21 201.89 L792.21 201.68 L792.21 201.46 L792.21 201.25 L792.21 201.04 L792.21 200.82 L792.21 200.61 L792.21 200.4 L792.21 200.18 L792.21 199.97 L792.21 199.76 L792.21 199.54 L792.21 199.33 L792.21 199.12 L792.21 198.9 L792.21 198.69 L792.21 198.47 L792.21 198.26 L792.21 198.05 L792.22 197.83 L792.22 197.62 L792.22 197.41 L792.22 197.19 L792.22 196.98 L792.22 196.77 L792.22 196.55 L792.22 196.34 L792.22 196.12 L792.22 195.91 L792.22 195.7 L792.22 195.48 L792.22 195.27 L792.23 195.06 L792.23 194.84 L792.23 194.63 L792.23 194.41 L792.23 194.2 L792.23 193.99 L792.23 193.77 L792.23 193.56 L792.24 193.34 L792.24 193.13 L792.24 192.92 L792.24 192.7 L792.24 192.49 L792.24 192.27 L792.24 192.06 L792.25 191.84 L792.25 191.63 L792.25 191.42 L792.25 191.2 L792.25 190.99 L792.26 190.77 L792.26 190.56 L792.26 190.34 L792.26 190.13 L792.27 189.91 L792.27 189.7 L792.27 189.48 L792.28 189.27 L792.28 189.05 L792.28 188.84 L792.29 188.62 L792.29 188.41 L792.29 188.19 L792.3 187.97 L792.3 187.76 L792.3 187.54 L792.31 187.33 L792.31 187.11 L792.32 186.89 L792.32 186.68 L792.33 186.46 L792.33 186.24 L792.34 186.03 L792.34 185.81 L792.35 185.59 L792.36 185.38 L792.36 185.16 L792.37 184.94 L792.38 184.72 L792.38 184.5 L792.39 184.29 L792.4 184.07 L792.41 183.85 L792.42 183.63 L792.43 183.41 L792.43 183.19 L792.44 182.97 L792.45 182.75 L792.46 182.53 L792.48 182.31 L792.49 182.09 L792.5 181.87 L792.51 181.65 L792.52 181.43 L792.54 181.2 L792.55 180.98 L792.57 180.76 L792.58 180.54 L792.6 180.31 L792.61 180.09 L792.63 179.86 L792.65 179.64 L792.67 179.41 L792.69 179.19 L792.71 178.96 L792.73 178.73 L792.75 178.51 L792.77 178.28 L792.79 178.05 L792.82 177.82 L792.84 177.59 L792.87 177.36 L792.9 177.13 L792.93 176.89 L792.96 176.66 L792.99 176.43 L793.02 176.19 L793.05 175.95 L793.09 175.72 L793.13 175.48 L793.16 175.24 L793.2 175 L793.25 174.76 L793.29 174.52 L793.33 174.27 L793.38 174.03 L793.43 173.78 L793.48 173.54 L793.53 173.29 L793.59 173.04 L793.65 172.79 L793.7 172.53 L793.77 172.28 L793.83 172.02 L793.9 171.76 L793.97 171.5 L794.04 171.24 L794.12 170.97 L794.2 170.71 L794.28 170.44 L794.36 170.17 L794.45 169.89 L794.55 169.62 L794.64 169.34 L794.74 169.06 L794.85 168.77 L794.96 168.49 L795.07 168.2 L795.19 167.9 L795.31 167.61 L795.44 167.31 L795.58 167 L795.71 166.69 L795.86 166.38 L796.01 166.07 L796.17 165.75 L796.33 165.42 L796.5 165.09 L796.68 164.76 L796.86 164.42 L797.06 164.07 L797.26 163.72 L797.46 163.37 L797.68 163 L797.91 162.64 L798.14 162.26 L798.39 161.88 L798.64 161.49 L798.91 161.09 L799.18 160.69 L799.47 160.28 L799.77 159.86 L800.08 159.43 L800.41 158.99 L800.75 158.54 L801.1 158.08 L801.47 157.62 L801.85 157.14 L802.25 156.64 L802.66 156.14 L803.09 155.63 L803.54 155.1 L804.01 154.56 L804.5 154 L805 153.43 L805.53 152.84 L806.08 152.24 L806.65 151.62 L807.25 150.98 L807.87 150.33 L808.51 149.66 L809.19 148.96 L809.89 148.24 L810.62 147.51 L811.38 146.75 L812.17 145.96 L812.99 145.15 L813.85 144.32 L814.74 143.45 L815.67 142.56 L816.64 141.64 L817.64 140.69 L818.69 139.7 L819.78 138.68 L820.92 137.63 L822.1 136.54 L823.34 135.41 L824.62 134.24 L825.96 133.02 L827.35 131.77 L828.8 130.47 L830.31 129.12 L831.88 127.72 L833.51 126.27 L835.22 124.77 L836.99 123.21 L838.84 121.59 L840.76 119.92 L842.76 118.18 L844.84 116.38 L847.01 114.51 L849.27 112.58 L851.63 110.58 L854.08 108.51 L856.63 106.37 L859.28 104.15 L859.35 104.09 L859.93 103.61 L860.51 103.13 L861.09 102.65 L861.67 102.17 L862.25 101.69 L862.83 101.21 L863.41 100.73 L864 100.26 L864.58 99.78 L865.16 99.3 L865.74 98.83 L866.32 98.36 L866.9 97.88 L867.48 97.41 L868.06 96.94 L868.64 96.47 L869.22 96 L869.8 95.54 L870.38 95.07 L870.96 94.6 L871.54 94.14 L872.12 93.67 L872.7 93.21 L873.29 92.75 L873.87 92.28 L874.45 91.82 L875.03 91.36 L875.61 90.91 L876.19 90.45 L876.77 89.99 L877.35 89.54 L877.93 89.08 L878.51 88.63 L879.09 88.18 L879.67 87.73 L880.25 87.28 L880.83 86.83 L881.41 86.38 L881.99 85.93 L882.58 85.49 L883.16 85.04 L883.74 84.6 L884.32 84.16 L884.9 83.72 L885.48 83.28 L886.06 82.84 L886.64 82.4 L887.22 81.96 L887.8 81.53 L888.38 81.09 L888.96 80.66 L889.54 80.23 L890.12 79.8 L890.7 79.37 L891.28 78.94 L891.87 78.51 L892.45 78.09 L893.03 77.66 L893.61 77.24 L894.19 76.82 L894.77 76.4 L895.35 75.98 L895.93 75.56 L896.51 75.14 L897.09 74.73 L897.67 74.31 L898.25 73.9 L898.83 73.49 L899.41 73.08 L899.99 72.67 L900.57 72.26 L901.16 71.86 L901.74 71.45 L902.32 71.05 L902.9 70.64 L903.48 70.24 L904.06 69.84 L904.64 69.44 L905.22 69.05 L905.8 68.65 L906.38 68.26 L906.96 67.86 L907.54 67.47 L908.12 67.08 L908.7 66.69 L909.28 66.3 L909.86 65.92 L910.45 65.53 L911.03 65.15 L911.61 64.76 L912.19 64.38 L912.77 64 L913.35 63.62 L913.93 63.24 L914.51 62.87 L915.09 62.49 L915.67 62.12 L916.25 61.75 L916.83 61.37 L917.41 61 L917.99 60.64 L918.57 60.27 L919.16 59.9 L919.74 59.54 L920.32 59.17 L920.9 58.81 L921.48 58.45 L922.06 58.09 L922.64 57.73 L923.22 57.37 L923.8 57.02 L924.38 56.66 L924.96 56.31 L925.54 55.95 L926.12 55.6 L926.7 55.25 L927.28 54.9 L927.86 54.55 L928.45 54.21 L929.03 53.86 L929.61 53.52 L930.19 53.17 L930.77 52.83 L931.35 52.49 L931.93 52.15 L932.51 51.81 L933.09 51.47 L933.67 51.13 L934.25 50.8 L934.83 50.46 L935.41 50.13 L935.99 49.79 L936.57 49.46 L937.15 49.13 L937.74 48.8 L938.32 48.47 L938.9 48.14 L939.48 47.82 L940.06 47.49 L940.64 47.17 L941.22 46.84 L941.8 46.52 L942.38 46.2 L942.96 45.87 L943.54 45.55 L944.12 45.23 L944.7 44.92 L945.28 44.6 L945.86 44.28 L946.44 43.96 L947.03 43.65 L947.61 43.33 L948.19 43.02 L948.77 42.71 L949.35 42.4 L949.93 42.08 L950.51 41.77 L951.09 41.46 L951.67 41.16 L952.25 40.85 L952.83 40.54 L953.41 40.23 L953.99 39.93 L954.57 39.62 L955.15 39.32 L955.73 39.01 L956.32 38.71 L956.9 38.41 L957.48 38.11 L958.06 37.8 L958.64 37.5 L959.22 37.2 L959.8 36.9 L960.38 36.61 L960.96 36.31 L961.54 36.01 L962.12 35.71 L962.7 35.42 L963.28 35.12 L963.86 34.83 L964.44 34.53 L965.02 34.24 L965.61 33.94 L966.19 33.65 L966.77 33.36 L967.35 33.07 L967.93 32.78 L968.51 32.48 L969.09 32.19 L969.67 31.9 L970.25 31.61 L970.83 31.33 L971.41 31.04 L971.99 30.75 L972.57 30.46 L973.15 30.17 L973.73 29.89 L974.31 29.6 L974.9 29.32 L975.48 29.03 L976.06 28.75 L976.64 28.46 L977.22 28.18 L977.8 27.89 L978.38 27.61 L978.96 27.33 L979.54 27.04 L980.12 26.76 L980.7 26.48 L981.28 26.2 L981.86 25.92 L982.44 25.63 L983.02 25.35 L983.6 25.07 L984.19 24.79 L984.77 24.51 L985.35 24.23 L985.93 23.96 L986.51 23.68 L987.09 23.4 L987.67 23.12 L988.25 22.84 L988.83 22.56 L989.41 22.29 L989.99 22.01 L990.57 21.73 L991.15 21.46 L991.73 21.18 L992.31 20.9 L992.89 20.63 L993.48 20.35 L994.06 20.08 L994.64 19.8 L995.22 19.53 L995.8 19.25 L996.38 18.98 L996.96 18.7 L997.54 18.43 L998.12 18.16 L998.7 17.88 L999.28 17.61 L999.86 17.34 L1000.44 17.06 L1001.02 16.79 L1001.6 16.52 L1002.18 16.25 L1002.77 15.97 L1003.35 15.7 L1003.93 15.43 L1004.51 15.16 L1005.09 14.89 L1005.67 14.62 L1006.25 14.34 L1006.83 14.07 L1007.41 13.8 L1007.99 13.53 L1008.57 13.26 L1009.15 12.99 L1009.73 12.72 L1010.31 12.45 L1010.89 12.18 L1011.47 11.91 L1012.06 11.64 L1012.64 11.37 L1013.22 11.1 L1013.8 10.83 L1014.38 10.56 L1014.96 10.29 L1015.54 10.02 L1016.12 9.76 L1016.7 9.49 L1017.28 9.22 L1017.86 8.95 L1018.44 8.68 L1019.02 8.41 L1019.6 8.14 L1020.18 7.88 L1020.76 7.61 L1021.35 7.34 L1021.93 7.07 L1022.51 6.8 L1023.09 6.54 L1023.67 6.27 L1024.25 6 L1024.83 5.73 L1025.41 5.47 L1025.99 5.2 L1026.57 4.93 L1027.15 4.67 L1027.73 4.4 L1028.31 4.13 L1028.89 3.87 L1029.47 3.6 L1030.05 3.33 L1030.64 3.07 L1031.22 2.8 L1031.8 2.53 L1032.38 2.27 L1032.96 2 L1033.54 1.73 L1034.12 1.47 L1034.7 1.2 L1035.28 0.94 L1035.86 0.67 L1036.44 0.4 L1037.02 0.14 L1037.6 -0.13 L1038.18 -0.39 L1038.76 -0.66 L1039.34 -0.92 L1039.93 -1.19 L1040.51 -1.46 L1041.09 -1.72 L1041.67 -1.99 L1042.25 -2.25 L1042.83 -2.52 L1043.41 -2.78 L1043.99 -3.05 L1044.57 -3.31 L1045.15 -3.58 L1045.73 -3.84 L1046.31 -4.11 L1046.89 -4.37 L1047.47 -4.64 L1048.05 -4.9 L1048.63 -5.17 L1049.22 -5.43 L1049.8 -5.7 L1050.38 -5.96 L1050.96 -6.23 L1051.54 -6.49 L1052.12 -6.76 L1052.7 -7.02 L1053.28 -7.29 L1053.86 -7.55 L1054.44 -7.82 L1055.02 -8.08 L1055.6 -8.34 L1056.18 -8.61 L1056.76 -8.87 L1057.34 -9.14 L1057.92 -9.4 L1058.51 -9.67 L1059.09 -9.93 L1059.67 -10.19 L1060.25 -10.46 L1060.83 -10.72 L1061.41 -10.99 L1061.99 -11.25 L1062.57 -11.52 L1063.15 -11.78 L1063.73 -12.04 L1064.31 -12.31 L1064.89 -12.57 L1065.47 -12.84 L1066.05 -13.1 L1066.63 -13.36 L1067.21 -13.63 L1067.8 -13.89 L1068.38 -14.16 L1068.96 -14.42 L1069.54 -14.68 L1070.12 -14.95 L1070.7 -15.21 L1071.28 -15.48 L1071.86 -15.74 L1072.44 -16 L1073.02 -16.27 L1073.6 -16.53 L1074.18 -16.79 L1074.76 -17.06 L1075.34 -17.32 L1075.92 -17.59 L1076.5 -17.85 L1077.09 -18.11 L1077.67 -18.38 L1078.25 -18.64 L1078.83 -18.9 L1079.41 -19.17 L1079.99 -19.43 L1080.57 -19.69 L1081.15 -19.96 L1081.73 -20.22 L1082.31 -20.38 L1182.62 -20.38 L1182.62 404.88 Z" fill="none" stroke="#000" stroke-width="1.1" stroke-linejoin="round"/>
<path d="M880.75 404.88 L880.75 183.13 L880.75 182.86 L880.75 182.6 L880.75 182.33 L880.75 182.06 L880.75 181.8 L880.75 181.53 L880.75 181.26 L880.75 181 L880.75 180.73 L880.75 180.46 L880.75 180.2 L880.75 179.93 L880.75 179.66 L880.75 179.4 L880.75 179.13 L880.75 178.87 L880.75 178.6 L880.75 178.33 L880.75 178.07 L880.75 177.8 L880.75 177.53 L880.75 177.27 L880.75 177 L880.75 176.73 L880.75 176.47 L880.75 176.2 L880.75 175.93 L880.75 175.67 L880.75 175.4 L880.75 175.14 L880.75 174.87 L880.75 174.6 L880.75 174.34 L880.75 174.07 L880.75 173.8 L880.75 173.54 L880.75 173.27 L880.75 173 L880.75 172.74 L880.75 172.47 L880.75 172.2 L880.75 171.94 L880.75 171.67 L880.75 171.4 L880.75 171.14 L880.75 170.87 L880.75 170.61 L880.75 170.34 L880.75 170.07 L880.75 169.81 L880.75 169.54 L880.75 169.27 L880.75 169.01 L880.75 168.74 L880.75 168.47 L880.75 168.21 L880.75 167.94 L880.75 167.67 L880.75 167.41 L880.75 167.14 L880.75 166.88 L880.75 166.61 L880.75 166.34 L880.75 166.08 L880.75 165.81 L880.75 165.54 L880.75 165.28 L880.75 165.01 L880.75 164.74 L880.75 164.48 L880.75 164.21 L880.75 163.94 L880.75 163.68 L880.75 163.41 L880.75 163.14 L880.75 162.88 L880.75 162.61 L880.75 162.35 L880.75 162.08 L880.75 161.81 L880.75 161.55 L880.75 161.28 L880.75 161.01 L880.75 160.75 L880.75 160.48 L880.75 160.21 L880.75 159.95 L880.75 159.68 L880.75 159.41 L880.75 159.15 L880.75 158.88 L880.75 158.62 L880.75 158.35 L880.75 158.08 L880.75 157.82 L880.75 157.55 L880.75 157.28 L880.75 157.02 L880.75 156.75 L880.75 156.48 L880.75 156.22 L880.75 155.95 L880.75 155.68 L880.75 155.42 L880.75 155.15 L880.75 154.88 L880.75 154.62 L880.75 154.35 L880.75 154.09 L880.75 153.82 L880.75 153.55 L880.75 153.29 L880.75 153.02 L880.75 152.75 L880.75 152.49 L880.75 152.22 L880.75 151.95 L880.75 151.69 L880.75 151.42 L880.75 151.15 L880.75 150.89 L880.75 150.62 L880.75 150.36 L880.75 150.09 L880.75 149.82 L880.75 149.56 L880.75 149.29 L880.75 149.02 L880.75 148.76 L880.75 148.49 L880.75 148.22 L880.75 147.96 L880.75 147.69 L880.75 147.42 L880.75 147.16 L880.75 146.89 L880.75 146.62 L880.75 146.36 L880.75 146.09 L880.75 145.82 L880.75 145.56 L880.75 145.29 L880.75 145.03 L880.75 144.76 L880.75 144.49 L880.75 144.23 L880.75 143.96 L880.75 143.69 L880.75 143.43 L880.75 143.16 L880.75 142.89 L880.75 142.63 L880.75 142.36 L880.75 142.09 L880.75 141.83 L880.75 141.56 L880.75 141.29 L880.75 141.03 L880.75 140.76 L880.75 140.49 L880.75 140.23 L880.75 139.96 L880.75 139.7 L880.76 139.43 L880.76 139.16 L880.76 138.9 L880.76 138.63 L880.76 138.36 L880.76 138.1 L880.76 137.83 L880.76 137.56 L880.76 137.3 L880.76 137.03 L880.76 136.76 L880.76 136.5 L880.76 136.23 L880.76 135.96 L880.76 135.7 L880.76 135.43 L880.76 135.16 L880.76 134.9 L880.76 134.63 L880.76 134.36 L880.76 134.1 L880.76 133.83 L880.76 133.56 L880.76 133.3 L880.76 133.03 L880.76 132.76 L880.76 132.5 L880.77 132.23 L880.77 131.96 L880.77 131.7 L880.77 131.43 L880.77 131.16 L880.77 130.89 L880.77 130.63 L880.77 130.36 L880.77 130.09 L880.77 129.83 L880.77 129.56 L880.77 129.29 L880.77 129.03 L880.78 128.76 L880.78 128.49 L880.78 128.23 L880.78 127.96 L880.78 127.69 L880.78 127.42 L880.78 127.16 L880.78 126.89 L880.79 126.62 L880.79 126.36 L880.79 126.09 L880.79 125.82 L880.79 125.55 L880.79 125.29 L880.79 125.02 L880.8 124.75 L880.8 124.48 L880.8 124.22 L880.8 123.95 L880.8 123.68 L880.81 123.41 L880.81 123.15 L880.81 122.88 L880.81 122.61 L880.82 122.34 L880.82 122.07 L880.82 121.81 L880.83 121.54 L880.83 121.27 L880.83 121 L880.84 120.73 L880.84 120.46 L880.84 120.2 L880.85 119.93 L880.85 119.66 L880.85 119.39 L880.86 119.12 L880.86 118.85 L880.87 118.58 L880.87 118.31 L880.88 118.05 L880.88 117.78 L880.89 117.51 L880.89 117.24 L880.9 116.97 L880.91 116.7 L880.91 116.43 L880.92 116.16 L880.93 115.89 L880.93 115.62 L880.94 115.35 L880.95 115.08 L880.96 114.8 L880.97 114.53 L880.98 114.26 L880.98 113.99 L880.99 113.72 L881 113.45 L881.01 113.17 L881.03 112.9 L881.04 112.63 L881.05 112.36 L881.06 112.08 L881.07 111.81 L881.09 111.54 L881.1 111.26 L881.12 110.99 L881.13 110.71 L881.15 110.44 L881.16 110.16 L881.18 109.89 L881.2 109.61 L881.22 109.33 L881.24 109.06 L881.26 108.78 L881.28 108.5 L881.3 108.22 L881.32 107.95 L881.34 107.67 L881.37 107.39 L881.39 107.11 L881.42 106.82 L881.45 106.54 L881.48 106.26 L881.51 105.98 L881.54 105.7 L881.57 105.41 L881.6 105.13 L881.64 104.84 L881.68 104.55 L881.71 104.27 L881.75 103.98 L881.8 103.69 L881.84 103.4 L881.88 103.11 L881.93 102.82 L881.98 102.52 L882.03 102.23 L882.08 101.93 L882.14 101.64 L882.2 101.34 L882.25 101.04 L882.32 100.74 L882.38 100.44 L882.45 100.14 L882.52 99.83 L882.59 99.53 L882.67 99.22 L882.75 98.91 L882.83 98.6 L882.91 98.28 L883 97.97 L883.1 97.65 L883.19 97.33 L883.29 97.01 L883.4 96.69 L883.51 96.36 L883.62 96.03 L883.74 95.7 L883.86 95.37 L883.99 95.03 L884.13 94.69 L884.26 94.35 L884.41 94.01 L884.56 93.66 L884.72 93.31 L884.88 92.95 L885.05 92.59 L885.23 92.23 L885.41 91.86 L885.61 91.49 L885.81 91.12 L886.01 90.74 L886.23 90.35 L886.46 89.97 L886.69 89.57 L886.94 89.17 L887.19 88.77 L887.46 88.36 L887.73 87.94 L888.02 87.52 L888.32 87.09 L888.63 86.66 L888.96 86.21 L889.3 85.77 L889.65 85.31 L890.02 84.85 L890.4 84.37 L890.8 83.89 L891.21 83.4 L891.64 82.91 L892.09 82.4 L892.56 81.88 L893.05 81.36 L893.55 80.82 L894.08 80.27 L894.63 79.71 L895.2 79.14 L895.8 78.56 L896.42 77.96 L897.06 77.35 L897.74 76.73 L898.44 76.09 L899.17 75.44 L899.93 74.78 L900.72 74.1 L901.54 73.4 L902.4 72.68 L903.29 71.95 L904.22 71.2 L905.19 70.44 L906.19 69.65 L907.24 68.84 L908.33 68.02 L909.47 67.17 L910.65 66.3 L911.89 65.41 L913.17 64.49 L914.51 63.55 L915.9 62.59 L917.35 61.6 L918.86 60.59 L920.43 59.55 L922.06 58.48 L923.77 57.39 L925.54 56.27 L927.39 55.11 L929.31 53.93 L931.31 52.72 L933.39 51.47 L935.56 50.19 L937.82 48.88 L940.18 47.54 L942.63 46.15 L945.18 44.74 L947.83 43.28 L947.9 43.24 L948.3 43.02 L948.71 42.8 L949.11 42.58 L949.51 42.37 L949.92 42.15 L950.32 41.93 L950.72 41.71 L951.13 41.5 L951.53 41.28 L951.93 41.07 L952.34 40.85 L952.74 40.64 L953.14 40.42 L953.54 40.21 L953.95 39.99 L954.35 39.78 L954.75 39.57 L955.16 39.36 L955.56 39.14 L955.96 38.93 L956.37 38.72 L956.77 38.51 L957.17 38.3 L957.58 38.09 L957.98 37.88 L958.38 37.67 L958.79 37.46 L959.19 37.25 L959.59 37.04 L960 36.83 L960.4 36.62 L960.8 36.42 L961.21 36.21 L961.61 36 L962.01 35.79 L962.41 35.59 L962.82 35.38 L963.22 35.18 L963.62 34.97 L964.03 34.76 L964.43 34.56 L964.83 34.35 L965.24 34.15 L965.64 33.95 L966.04 33.74 L966.45 33.54 L966.85 33.33 L967.25 33.13 L967.66 32.93 L968.06 32.73 L968.46 32.52 L968.87 32.32 L969.27 32.12 L969.67 31.92 L970.07 31.72 L970.48 31.52 L970.88 31.31 L971.28 31.11 L971.69 30.91 L972.09 30.71 L972.49 30.51 L972.9 30.31 L973.3 30.11 L973.7 29.91 L974.11 29.71 L974.51 29.52 L974.91 29.32 L975.32 29.12 L975.72 28.92 L976.12 28.72 L976.53 28.52 L976.93 28.33 L977.33 28.13 L977.74 27.93 L978.14 27.73 L978.54 27.54 L978.94 27.34 L979.35 27.14 L979.75 26.95 L980.15 26.75 L980.56 26.56 L980.96 26.36 L981.36 26.16 L981.77 25.97 L982.17 25.77 L982.57 25.58 L982.98 25.38 L983.38 25.19 L983.78 24.99 L984.19 24.8 L984.59 24.6 L984.99 24.41 L985.4 24.22 L985.8 24.02 L986.2 23.83 L986.6 23.63 L987.01 23.44 L987.41 23.25 L987.81 23.05 L988.22 22.86 L988.62 22.67 L989.02 22.48 L989.43 22.28 L989.83 22.09 L990.23 21.9 L990.64 21.71 L991.04 21.51 L991.44 21.32 L991.85 21.13 L992.25 20.94 L992.65 20.75 L993.06 20.56 L993.46 20.36 L993.86 20.17 L994.27 19.98 L994.67 19.79 L995.07 19.6 L995.47 19.41 L995.88 19.22 L996.28 19.03 L996.68 18.84 L997.09 18.65 L997.49 18.46 L997.89 18.27 L998.3 18.08 L998.7 17.89 L999.1 17.7 L999.51 17.51 L999.91 17.32 L1000.31 17.13 L1000.72 16.94 L1001.12 16.75 L1001.52 16.56 L1001.93 16.37 L1002.33 16.18 L1002.73 15.99 L1003.14 15.8 L1003.54 15.61 L1003.94 15.42 L1004.34 15.24 L1004.75 15.05 L1005.15 14.86 L1005.55 14.67 L1005.96 14.48 L1006.36 14.29 L1006.76 14.1 L1007.17 13.92 L1007.57 13.73 L1007.97 13.54 L1008.38 13.35 L1008.78 13.16 L1009.18 12.98 L1009.59 12.79 L1009.99 12.6 L1010.39 12.41 L1010.8 12.23 L1011.2 12.04 L1011.6 11.85 L1012 11.66 L1012.41 11.48 L1012.81 11.29 L1013.21 11.1 L1013.62 10.92 L1014.02 10.73 L1014.42 10.54 L1014.83 10.35 L1015.23 10.17 L1015.63 9.98 L1016.04 9.79 L1016.44 9.61 L1016.84 9.42 L1017.25 9.23 L1017.65 9.05 L1018.05 8.86 L1018.46 8.68 L1018.86 8.49 L1019.26 8.3 L1019.67 8.12 L1020.07 7.93 L1020.47 7.74 L1020.87 7.56 L1021.28 7.37 L1021.68 7.19 L1022.08 7 L1022.49 6.81 L1022.89 6.63 L1023.29 6.44 L1023.7 6.26 L1024.1 6.07 L1024.5 5.89 L1024.91 5.7 L1025.31 5.51 L1025.71 5.33 L1026.12 5.14 L1026.52 4.96 L1026.92 4.77 L1027.33 4.59 L1027.73 4.4 L1028.13 4.22 L1028.53 4.03 L1028.94 3.85 L1029.34 3.66 L1029.74 3.48 L1030.15 3.29 L1030.55 3.1 L1030.95 2.92 L1031.36 2.73 L1031.76 2.55 L1032.16 2.36 L1032.57 2.18 L1032.97 2 L1033.37 1.81 L1033.78 1.63 L1034.18 1.44 L1034.58 1.26 L1034.99 1.07 L1035.39 0.89 L1035.79 0.7 L1036.2 0.52 L1036.6 0.33 L1037 0.15 L1037.4 -0.04 L1037.81 -0.22 L1038.21 -0.41 L1038.61 -0.59 L1039.02 -0.77 L1039.42 -0.96 L1039.82 -1.14 L1040.23 -1.33 L1040.63 -1.51 L1041.03 -1.7 L1041.44 -1.88 L1041.84 -2.07 L1042.24 -2.25 L1042.65 -2.43 L1043.05 -2.62 L1043.45 -2.8 L1043.86 -2.99 L1044.26 -3.17 L1044.66 -3.35 L1045.06 -3.54 L1045.47 -3.72 L1045.87 -3.91 L1046.27 -4.09 L1046.68 -4.28 L1047.08 -4.46 L1047.48 -4.64 L1047.89 -4.83 L1048.29 -5.01 L1048.69 -5.2 L1049.1 -5.38 L1049.5 -5.56 L1049.9 -5.75 L1050.31 -5.93 L1050.71 -6.11 L1051.11 -6.3 L1051.52 -6.48 L1051.92 -6.67 L1052.32 -6.85 L1052.73 -7.03 L1053.13 -7.22 L1053.53 -7.4 L1053.93 -7.58 L1054.34 -7.77 L1054.74 -7.95 L1055.14 -8.14 L1055.55 -8.32 L1055.95 -8.5 L1056.35 -8.69 L1056.76 -8.87 L1057.16 -9.05 L1057.56 -9.24 L1057.97 -9.42 L1058.37 -9.6 L1058.77 -9.79 L1059.18 -9.97 L1059.58 -10.15 L1059.98 -10.34 L1060.39 -10.52 L1060.79 -10.71 L1061.19 -10.89 L1061.59 -11.07 L1062 -11.26 L1062.4 -11.44 L1062.8 -11.62 L1063.21 -11.81 L1063.61 -11.99 L1064.01 -12.17 L1064.42 -12.36 L1064.82 -12.54 L1065.22 -12.72 L1065.63 -12.91 L1066.03 -13.09 L1066.43 -13.27 L1066.84 -13.46 L1067.24 -13.64 L1067.64 -13.82 L1068.05 -14.01 L1068.45 -14.19 L1068.85 -14.37 L1069.26 -14.56 L1069.66 -14.74 L1070.06 -14.92 L1070.46 -15.1 L1070.87 -15.29 L1071.27 -15.47 L1071.67 -15.65 L1072.08 -15.84 L1072.48 -16.02 L1072.88 -16.2 L1073.29 -16.39 L1073.69 -16.57 L1074.09 -16.75 L1074.5 -16.94 L1074.9 -17.12 L1075.3 -17.3 L1075.71 -17.49 L1076.11 -17.67 L1076.51 -17.85 L1076.92 -18.04 L1077.32 -18.22 L1077.72 -18.4 L1078.13 -18.58 L1078.53 -18.77 L1078.93 -18.95 L1079.33 -19.13 L1079.74 -19.32 L1080.14 -19.5 L1080.54 -19.68 L1080.95 -19.87 L1081.35 -20.05 L1081.75 -20.23 L1082.16 -20.38 L1182.62 -20.38 L1182.62 404.88 Z" fill="#80bf66" stroke="#000" stroke-width="1.1" stroke-linejoin="round"/>
<path d="M880.75 404.88 L880.75 239.2 L880.75 238.91 L880.75 238.61 L880.75 238.32 L880.75 238.02 L880.75 237.72 L880.75 237.43 L880.75 237.13 L880.75 236.84 L880.75 236.54 L880.75 236.24 L880.75 235.95 L880.75 235.65 L880.75 235.36 L880.75 235.06 L880.75 234.76 L880.75 234.47 L880.75 234.17 L880.75 233.88 L880.75 233.58 L880.75 233.28 L880.75 232.99 L880.75 232.69 L880.75 232.4 L880.75 232.1 L880.75 231.8 L880.75 231.51 L880.75 231.21 L880.75 230.92 L880.75 230.62 L880.75 230.32 L880.75 230.03 L880.75 229.73 L880.75 229.44 L880.75 229.14 L880.75 228.84 L880.75 228.55 L880.75 228.25 L880.75 227.95 L880.75 227.66 L880.75 227.36 L880.75 227.07 L880.75 226.77 L880.75 226.47 L880.75 226.18 L880.75 225.88 L880.75 225.59 L880.75 225.29 L880.75 224.99 L880.75 224.7 L880.75 224.4 L880.75 224.11 L880.75 223.81 L880.75 223.51 L880.75 223.22 L880.75 222.92 L880.75 222.63 L880.75 222.33 L880.75 222.03 L880.75 221.74 L880.75 221.44 L880.75 221.15 L880.75 220.85 L880.75 220.55 L880.75 220.26 L880.75 219.96 L880.75 219.67 L880.75 219.37 L880.75 219.07 L880.75 218.78 L880.75 218.48 L880.75 218.19 L880.75 217.89 L880.75 217.59 L880.75 217.3 L880.75 217 L880.75 216.7 L880.75 216.41 L880.75 216.11 L880.75 215.82 L880.75 215.52 L880.75 215.22 L880.75 214.93 L880.75 214.63 L880.75 214.34 L880.75 214.04 L880.75 213.74 L880.75 213.45 L880.75 213.15 L880.75 212.86 L880.75 212.56 L880.75 212.26 L880.75 211.97 L880.75 211.67 L880.75 211.38 L880.75 211.08 L880.75 210.78 L880.75 210.49 L880.75 210.19 L880.75 209.9 L880.75 209.6 L880.75 209.3 L880.75 209.01 L880.75 208.71 L880.75 208.42 L880.75 208.12 L880.75 207.82 L880.75 207.53 L880.75 207.23 L880.75 206.94 L880.75 206.64 L880.75 206.34 L880.75 206.05 L880.75 205.75 L880.75 205.45 L880.75 205.16 L880.75 204.86 L880.75 204.57 L880.75 204.27 L880.75 203.97 L880.75 203.68 L880.75 203.38 L880.75 203.09 L880.75 202.79 L880.75 202.49 L880.75 202.2 L880.75 201.9 L880.75 201.61 L880.75 201.31 L880.75 201.01 L880.75 200.72 L880.75 200.42 L880.75 200.13 L880.75 199.83 L880.75 199.53 L880.75 199.24 L880.75 198.94 L880.75 198.65 L880.75 198.35 L880.75 198.05 L880.75 197.76 L880.75 197.46 L880.75 197.16 L880.75 196.87 L880.75 196.57 L880.75 196.28 L880.75 195.98 L880.75 195.68 L880.75 195.39 L880.75 195.09 L880.75 194.8 L880.75 194.5 L880.75 194.2 L880.75 193.91 L880.75 193.61 L880.75 193.32 L880.75 193.02 L880.75 192.72 L880.75 192.43 L880.75 192.13 L880.75 191.84 L880.75 191.54 L880.75 191.24 L880.75 190.95 L880.76 190.65 L880.76 190.36 L880.76 190.06 L880.76 189.76 L880.76 189.47 L880.76 189.17 L880.76 188.87 L880.76 188.58 L880.76 188.28 L880.76 187.99 L880.76 187.69 L880.76 187.39 L880.76 187.1 L880.76 186.8 L880.76 186.51 L880.76 186.21 L880.76 185.91 L880.76 185.62 L880.76 185.32 L880.76 185.02 L880.76 184.73 L880.76 184.43 L880.76 184.14 L880.76 183.84 L880.76 183.54 L880.76 183.25 L880.76 182.95 L880.77 182.66 L880.77 182.36 L880.77 182.06 L880.77 181.77 L880.77 181.47 L880.77 181.17 L880.77 180.88 L880.77 180.58 L880.77 180.29 L880.77 179.99 L880.77 179.69 L880.77 179.4 L880.77 179.1 L880.78 178.8 L880.78 178.51 L880.78 178.21 L880.78 177.92 L880.78 177.62 L880.78 177.32 L880.78 177.03 L880.78 176.73 L880.79 176.43 L880.79 176.14 L880.79 175.84 L880.79 175.54 L880.79 175.25 L880.79 174.95 L880.79 174.66 L880.8 174.36 L880.8 174.06 L880.8 173.77 L880.8 173.47 L880.8 173.17 L880.81 172.88 L880.81 172.58 L880.81 172.28 L880.81 171.99 L880.82 171.69 L880.82 171.39 L880.82 171.1 L880.83 170.8 L880.83 170.5 L880.83 170.21 L880.84 169.91 L880.84 169.61 L880.84 169.32 L880.85 169.02 L880.85 168.72 L880.85 168.42 L880.86 168.13 L880.86 167.83 L880.87 167.53 L880.87 167.24 L880.88 166.94 L880.88 166.64 L880.89 166.34 L880.89 166.05 L880.9 165.75 L880.91 165.45 L880.91 165.15 L880.92 164.86 L880.93 164.56 L880.93 164.26 L880.94 163.96 L880.95 163.67 L880.96 163.37 L880.97 163.07 L880.98 162.77 L880.98 162.47 L880.99 162.18 L881 161.88 L881.01 161.58 L881.03 161.28 L881.04 160.98 L881.05 160.68 L881.06 160.38 L881.07 160.09 L881.09 159.79 L881.1 159.49 L881.12 159.19 L881.13 158.89 L881.15 158.59 L881.16 158.29 L881.18 157.99 L881.2 157.69 L881.22 157.39 L881.24 157.09 L881.26 156.79 L881.28 156.49 L881.3 156.19 L881.32 155.88 L881.34 155.58 L881.37 155.28 L881.39 154.98 L881.42 154.68 L881.45 154.38 L881.48 154.07 L881.51 153.77 L881.54 153.47 L881.57 153.16 L881.6 152.86 L881.64 152.56 L881.68 152.25 L881.71 151.95 L881.75 151.64 L881.8 151.34 L881.84 151.03 L881.88 150.72 L881.93 150.42 L881.98 150.11 L882.03 149.8 L882.08 149.49 L882.14 149.18 L882.2 148.88 L882.25 148.57 L882.32 148.26 L882.38 147.94 L882.45 147.63 L882.52 147.32 L882.59 147.01 L882.67 146.69 L882.75 146.38 L882.83 146.06 L882.91 145.75 L883 145.43 L883.1 145.11 L883.19 144.8 L883.29 144.48 L883.4 144.16 L883.51 143.83 L883.62 143.51 L883.74 143.19 L883.86 142.86 L883.99 142.54 L884.13 142.21 L884.26 141.88 L884.41 141.55 L884.56 141.22 L884.72 140.89 L884.88 140.55 L885.05 140.22 L885.23 139.88 L885.41 139.54 L885.61 139.2 L885.81 138.85 L886.01 138.51 L886.23 138.16 L886.46 137.81 L886.69 137.46 L886.94 137.1 L887.19 136.74 L887.46 136.38 L887.73 136.02 L888.02 135.65 L888.32 135.29 L888.63 134.91 L888.96 134.54 L889.3 134.16 L889.65 133.78 L890.02 133.39 L890.4 133 L890.8 132.6 L891.21 132.2 L891.64 131.8 L892.09 131.39 L892.56 130.97 L893.05 130.55 L893.55 130.13 L894.08 129.7 L894.63 129.26 L895.2 128.82 L895.8 128.36 L896.42 127.91 L897.06 127.44 L897.74 126.97 L898.44 126.48 L899.17 125.99 L899.93 125.49 L900.72 124.98 L901.54 124.46 L902.4 123.93 L903.29 123.39 L904.22 122.83 L905.19 122.27 L906.19 121.69 L907.24 121.09 L908.33 120.48 L909.47 119.86 L910.65 119.22 L911.89 118.56 L913.17 117.88 L914.51 117.19 L915.9 116.47 L917.35 115.74 L918.86 114.98 L920.43 114.19 L922.06 113.39 L923.77 112.56 L925.54 111.7 L927.39 110.81 L929.31 109.89 L931.31 108.94 L933.39 107.95 L935.56 106.93 L937.82 105.88 L940.18 104.78 L942.63 103.64 L945.18 102.47 L947.83 101.24 L947.9 101.21 L948.3 101.03 L948.71 100.84 L949.11 100.66 L949.51 100.47 L949.92 100.28 L950.32 100.1 L950.72 99.91 L951.13 99.73 L951.53 99.54 L951.93 99.36 L952.34 99.18 L952.74 98.99 L953.14 98.81 L953.54 98.62 L953.95 98.44 L954.35 98.25 L954.75 98.07 L955.16 97.88 L955.56 97.7 L955.96 97.51 L956.37 97.33 L956.77 97.15 L957.17 96.96 L957.58 96.78 L957.98 96.59 L958.38 96.41 L958.79 96.22 L959.19 96.04 L959.59 95.86 L960 95.67 L960.4 95.49 L960.8 95.31 L961.21 95.12 L961.61 94.94 L962.01 94.75 L962.41 94.57 L962.82 94.39 L963.22 94.2 L963.62 94.02 L964.03 93.84 L964.43 93.65 L964.83 93.47 L965.24 93.28 L965.64 93.1 L966.04 92.92 L966.45 92.73 L966.85 92.55 L967.25 92.37 L967.66 92.18 L968.06 92 L968.46 91.82 L968.87 91.63 L969.27 91.45 L969.67 91.27 L970.07 91.08 L970.48 90.9 L970.88 90.72 L971.28 90.53 L971.69 90.35 L972.09 90.17 L972.49 89.98 L972.9 89.8 L973.3 89.62 L973.7 89.43 L974.11 89.25 L974.51 89.07 L974.91 88.89 L975.32 88.7 L975.72 88.52 L976.12 88.34 L976.53 88.15 L976.93 87.97 L977.33 87.79 L977.74 87.6 L978.14 87.42 L978.54 87.24 L978.94 87.05 L979.35 86.87 L979.75 86.69 L980.15 86.51 L980.56 86.32 L980.96 86.14 L981.36 85.96 L981.77 85.77 L982.17 85.59 L982.57 85.41 L982.98 85.23 L983.38 85.04 L983.78 84.86 L984.19 84.68 L984.59 84.49 L984.99 84.31 L985.4 84.13 L985.8 83.95 L986.2 83.76 L986.6 83.58 L987.01 83.4 L987.41 83.21 L987.81 83.03 L988.22 82.85 L988.62 82.67 L989.02 82.48 L989.43 82.3 L989.83 82.12 L990.23 81.93 L990.64 81.75 L991.04 81.57 L991.44 81.39 L991.85 81.2 L992.25 81.02 L992.65 80.84 L993.06 80.66 L993.46 80.47 L993.86 80.29 L994.27 80.11 L994.67 79.92 L995.07 79.74 L995.47 79.56 L995.88 79.38 L996.28 79.19 L996.68 79.01 L997.09 78.83 L997.49 78.65 L997.89 78.46 L998.3 78.28 L998.7 78.1 L999.1 77.92 L999.51 77.73 L999.91 77.55 L1000.31 77.37 L1000.72 77.18 L1001.12 77 L1001.52 76.82 L1001.93 76.64 L1002.33 76.45 L1002.73 76.27 L1003.14 76.09 L1003.54 75.91 L1003.94 75.72 L1004.34 75.54 L1004.75 75.36 L1005.15 75.18 L1005.55 74.99 L1005.96 74.81 L1006.36 74.63 L1006.76 74.44 L1007.17 74.26 L1007.57 74.08 L1007.97 73.9 L1008.38 73.71 L1008.78 73.53 L1009.18 73.35 L1009.59 73.17 L1009.99 72.98 L1010.39 72.8 L1010.8 72.62 L1011.2 72.44 L1011.6 72.25 L1012 72.07 L1012.41 71.89 L1012.81 71.71 L1013.21 71.52 L1013.62 71.34 L1014.02 71.16 L1014.42 70.98 L1014.83 70.79 L1015.23 70.61 L1015.63 70.43 L1016.04 70.24 L1016.44 70.06 L1016.84 69.88 L1017.25 69.7 L1017.65 69.51 L1018.05 69.33 L1018.46 69.15 L1018.86 68.97 L1019.26 68.78 L1019.67 68.6 L1020.07 68.42 L1020.47 68.24 L1020.87 68.05 L1021.28 67.87 L1021.68 67.69 L1022.08 67.51 L1022.49 67.32 L1022.89 67.14 L1023.29 66.96 L1023.7 66.78 L1024.1 66.59 L1024.5 66.41 L1024.91 66.23 L1025.31 66.05 L1025.71 65.86 L1026.12 65.68 L1026.52 65.5 L1026.92 65.31 L1027.33 65.13 L1027.73 64.95 L1028.13 64.77 L1028.53 64.58 L1028.94 64.4 L1029.34 64.22 L1029.74 64.04 L1030.15 63.85 L1030.55 63.67 L1030.95 63.49 L1031.36 63.31 L1031.76 63.12 L1032.16 62.94 L1032.57 62.76 L1032.97 62.58 L1033.37 62.39 L1033.78 62.21 L1034.18 62.03 L1034.58 61.85 L1034.99 61.66 L1035.39 61.48 L1035.79 61.3 L1036.2 61.12 L1036.6 60.93 L1037 60.75 L1037.4 60.57 L1037.81 60.39 L1038.21 60.2 L1038.61 60.02 L1039.02 59.84 L1039.42 59.66 L1039.82 59.47 L1040.23 59.29 L1040.63 59.11 L1041.03 58.92 L1041.44 58.74 L1041.84 58.56 L1042.24 58.38 L1042.65 58.19 L1043.05 58.01 L1043.45 57.83 L1043.86 57.65 L1044.26 57.46 L1044.66 57.28 L1045.06 57.1 L1045.47 56.92 L1045.87 56.73 L1046.27 56.55 L1046.68 56.37 L1047.08 56.19 L1047.48 56 L1047.89 55.82 L1048.29 55.64 L1048.69 55.46 L1049.1 55.27 L1049.5 55.09 L1049.9 54.91 L1050.31 54.73 L1050.71 54.54 L1051.11 54.36 L1051.52 54.18 L1051.92 54 L1052.32 53.81 L1052.73 53.63 L1053.13 53.45 L1053.53 53.27 L1053.93 53.08 L1054.34 52.9 L1054.74 52.72 L1055.14 52.54 L1055.55 52.35 L1055.95 52.17 L1056.35 51.99 L1056.76 51.81 L1057.16 51.62 L1057.56 51.44 L1057.97 51.26 L1058.37 51.07 L1058.77 50.89 L1059.18 50.71 L1059.58 50.53 L1059.98 50.34 L1060.39 50.16 L1060.79 49.98 L1061.19 49.8 L1061.59 49.61 L1062 49.43 L1062.4 49.25 L1062.8 49.07 L1063.21 48.88 L1063.61 48.7 L1064.01 48.52 L1064.42 48.34 L1064.82 48.15 L1065.22 47.97 L1065.63 47.79 L1066.03 47.61 L1066.43 47.42 L1066.84 47.24 L1067.24 47.06 L1067.64 46.88 L1068.05 46.69 L1068.45 46.51 L1068.85 46.33 L1069.26 46.15 L1069.66 45.96 L1070.06 45.78 L1070.46 45.6 L1070.87 45.42 L1071.27 45.23 L1071.67 45.05 L1072.08 44.87 L1072.48 44.69 L1072.88 44.5 L1073.29 44.32 L1073.69 44.14 L1074.09 43.96 L1074.5 43.77 L1074.9 43.59 L1075.3 43.41 L1075.71 43.22 L1076.11 43.04 L1076.51 42.86 L1076.92 42.68 L1077.32 42.49 L1077.72 42.31 L1078.13 42.13 L1078.53 41.95 L1078.93 41.76 L1079.33 41.58 L1079.74 41.4 L1080.14 41.22 L1080.54 41.03 L1080.95 40.85 L1081.35 40.67 L1081.75 40.49 L1082.16 40.3 L1082.56 40.12 L1082.96 39.94 L1083.37 39.76 L1083.77 39.57 L1084.17 39.39 L1084.58 39.21 L1084.98 39.03 L1085.38 38.84 L1085.79 38.66 L1086.19 38.48 L1086.59 38.3 L1086.99 38.11 L1087.4 37.93 L1087.8 37.75 L1088.2 37.57 L1088.61 37.38 L1089.01 37.2 L1089.41 37.02 L1089.82 36.84 L1090.22 36.65 L1090.62 36.47 L1091.03 36.29 L1091.43 36.11 L1091.83 35.92 L1092.24 35.74 L1092.64 35.56 L1093.04 35.38 L1093.45 35.19 L1093.85 35.01 L1094.25 34.83 L1094.66 34.64 L1095.06 34.46 L1095.46 34.28 L1095.86 34.1 L1096.27 33.91 L1096.67 33.73 L1097.07 33.55 L1097.48 33.37 L1097.88 33.18 L1098.28 33 L1098.69 32.82 L1099.09 32.64 L1099.49 32.45 L1099.9 32.27 L1100.3 32.09 L1100.7 31.91 L1101.11 31.72 L1101.51 31.54 L1101.91 31.36 L1102.32 31.18 L1102.72 30.99 L1103.12 30.81 L1103.52 30.63 L1103.93 30.45 L1104.33 30.26 L1104.73 30.08 L1105.14 29.9 L1105.54 29.72 L1105.94 29.53 L1106.35 29.35 L1106.75 29.17 L1107.15 28.99 L1107.56 28.8 L1107.96 28.62 L1108.36 28.44 L1108.77 28.26 L1109.17 28.07 L1109.57 27.89 L1109.98 27.71 L1110.38 27.53 L1110.78 27.34 L1111.19 27.16 L1111.59 26.98 L1111.99 26.8 L1112.39 26.61 L1112.8 26.43 L1113.2 26.25 L1113.6 26.06 L1114.01 25.88 L1114.41 25.7 L1114.81 25.52 L1115.22 25.33 L1115.62 25.15 L1116.02 24.97 L1116.43 24.79 L1116.83 24.6 L1117.23 24.42 L1117.64 24.24 L1118.04 24.06 L1118.44 23.87 L1118.85 23.69 L1119.25 23.51 L1119.65 23.33 L1120.05 23.14 L1120.46 22.96 L1120.86 22.78 L1121.26 22.6 L1121.67 22.41 L1122.07 22.23 L1122.47 22.05 L1122.88 21.87 L1123.28 21.68 L1123.68 21.5 L1124.09 21.32 L1124.49 21.14 L1124.89 20.95 L1125.3 20.77 L1125.7 20.59 L1126.1 20.41 L1126.51 20.22 L1126.91 20.04 L1127.31 19.86 L1127.72 19.68 L1128.12 19.49 L1128.52 19.31 L1128.92 19.13 L1129.33 18.95 L1129.73 18.76 L1130.13 18.58 L1130.54 18.4 L1130.94 18.21 L1131.34 18.03 L1131.75 17.85 L1132.15 17.67 L1132.55 17.48 L1132.96 17.3 L1133.36 17.12 L1133.76 16.94 L1134.17 16.75 L1134.57 16.57 L1134.97 16.39 L1135.38 16.21 L1135.78 16.02 L1136.18 15.84 L1136.58 15.66 L1136.99 15.48 L1137.39 15.29 L1137.79 15.11 L1138.2 14.93 L1138.6 14.75 L1139 14.56 L1139.41 14.38 L1139.81 14.2 L1140.21 14.02 L1140.62 13.83 L1141.02 13.65 L1141.42 13.47 L1141.83 13.29 L1142.23 13.1 L1142.63 12.92 L1143.04 12.74 L1143.44 12.56 L1143.84 12.37 L1144.25 12.19 L1144.65 12.01 L1145.05 11.83 L1145.45 11.64 L1145.86 11.46 L1146.26 11.28 L1146.66 11.1 L1147.07 10.91 L1147.47 10.73 L1147.87 10.55 L1148.28 10.37 L1148.68 10.18 L1149.08 10 L1182.62 -20.38 L1182.62 404.88 Z" fill="#fff" stroke="#000" stroke-width="1.1" stroke-linejoin="round"/>
</g>
<g clip-path="url(#clipC)">
<rect x="83" y="487" width="195.3" height="73.1" fill="#cc4010" stroke="#000" stroke-width="1.1" stroke-linejoin="round"/>
<rect x="278.3" y="487" width="267.2" height="73.1" fill="#ffcc00" stroke="#000" stroke-width="1.1" stroke-linejoin="round"/>
<rect x="83" y="560.1" width="156.3" height="73.1" fill="#cc4010" stroke="#000" stroke-width="1.1" stroke-linejoin="round"/>
<rect x="239.3" y="560.1" width="39" height="73.1" fill="#2a9566" stroke="#000" stroke-width="1.1" stroke-linejoin="round"/>
<rect x="278.3" y="560.1" width="267.2" height="73.1" fill="#ffcc00" stroke="#000" stroke-width="1.1" stroke-linejoin="round"/>
<rect x="83" y="633.2" width="156.3" height="73.1" fill="#cc4010" stroke="#000" stroke-width="1.1" stroke-linejoin="round"/>
<rect x="239.3" y="633.2" width="306.2" height="73.1" fill="#ffcc00" stroke="#000" stroke-width="1.1" stroke-linejoin="round"/>
<rect x="83" y="706.3" width="116" height="73.1" fill="#cc4010" stroke="#000" stroke-width="1.1" stroke-linejoin="round"/>
<rect x="199" y="706.3" width="40.3" height="73.1" fill="#2a9566" stroke="#000" stroke-width="1.1" stroke-linejoin="round"/>
<rect x="239.3" y="706.3" width="306.2" height="73.1" fill="#ffcc00" stroke="#000" stroke-width="1.1" stroke-linejoin="round"/>
<rect x="83" y="779.4" width="116" height="73.1" fill="#cc4010" stroke="#000" stroke-width="1.1" stroke-linejoin="round"/>
<rect x="199" y="779.4" width="346.5" height="73.1" fill="#ffcc00" stroke="#000" stroke-width="1.1" stroke-linejoin="round"/>
</g>
<g clip-path="url(#clipD)">
<rect x="681.25" y="487" width="243.65" height="73.1" fill="#cc4010" stroke="#000" stroke-width="1.1" stroke-linejoin="round"/>
<rect x="924.9" y="487" width="28.7" height="73.1" fill="#2a9566" stroke="#000" stroke-width="1.1" stroke-linejoin="round"/>
<rect x="953.6" y="487" width="190.9" height="73.1" fill="#ffcc00" stroke="#000" stroke-width="1.1" stroke-linejoin="round"/>
<rect x="681.25" y="560.1" width="233.35" height="73.1" fill="#cc4010" stroke="#000" stroke-width="1.1" stroke-linejoin="round"/>
<rect x="914.6" y="560.1" width="37.2" height="73.1" fill="#2a9566" stroke="#000" stroke-width="1.1" stroke-linejoin="round"/>
<rect x="951.8" y="560.1" width="192.7" height="73.1" fill="#ffcc00" stroke="#000" stroke-width="1.1" stroke-linejoin="round"/>
<rect x="681.25" y="633.2" width="218.45" height="73.1" fill="#cc4010" stroke="#000" stroke-width="1.1" stroke-linejoin="round"/>
<rect x="899.7" y="633.2" width="52.1" height="73.1" fill="#2a9566" stroke="#000" stroke-width="1.1" stroke-linejoin="round"/>
<rect x="951.8" y="633.2" width="192.7" height="73.1" fill="#ffcc00" stroke="#000" stroke-width="1.1" stroke-linejoin="round"/>
<rect x="681.25" y="706.3" width="192.05" height="73.1" fill="#cc4010" stroke="#000" stroke-width="1.1" stroke-linejoin="round"/>
<rect x="873.3" y="706.3" width="77.7" height="73.1" fill="#2a9566" stroke="#000" stroke-width="1.1" stroke-linejoin="round"/>
<rect x="951" y="706.3" width="193.5" height="73.1" fill="#ffcc00" stroke="#000" stroke-width="1.1" stroke-linejoin="round"/>
<rect x="681.25" y="779.4" width="116.25" height="73.1" fill="#cc4010" stroke="#000" stroke-width="1.1" stroke-linejoin="round"/>
<rect x="797.5" y="779.4" width="153.5" height="73.1" fill="#2a9566" stroke="#000" stroke-width="1.1" stroke-linejoin="round"/>
<rect x="951" y="779.4" width="193.5" height="73.1" fill="#ffcc00" stroke="#000" stroke-width="1.1" stroke-linejoin="round"/>
</g>
<rect x="83" y="10" width="401.5" height="364.5" stroke="#555555" stroke-width="1.1" fill="none"/>
<path d="M83 374.5V369.5M83 10V15M149.92 374.5V369.5M149.92 10V15M216.83 374.5V369.5M216.83 10V15M283.75 374.5V369.5M283.75 10V15M350.67 374.5V369.5M350.67 10V15M417.58 374.5V369.5M417.58 10V15M484.5 374.5V369.5M484.5 10V15M83 374.5H88M484.5 374.5H479.5M83 313.75H88M484.5 313.75H479.5M83 253H88M484.5 253H479.5M83 192.25H88M484.5 192.25H479.5M83 131.5H88M484.5 131.5H479.5M83 70.75H88M484.5 70.75H479.5M83 10H88M484.5 10H479.5" stroke="#555555" stroke-width="1.1" fill="none"/>
<rect x="679.5" y="10" width="402.5" height="364.5" stroke="#555555" stroke-width="1.1" fill="none"/>
<path d="M679.5 374.5V369.5M679.5 10V15M746.58 374.5V369.5M746.58 10V15M813.67 374.5V369.5M813.67 10V15M880.75 374.5V369.5M880.75 10V15M947.83 374.5V369.5M947.83 10V15M1014.92 374.5V369.5M1014.92 10V15M1082 374.5V369.5M1082 10V15M679.5 374.5H684.5M1082 374.5H1077M679.5 313.75H684.5M1082 313.75H1077M679.5 253H684.5M1082 253H1077M679.5 192.25H684.5M1082 192.25H1077M679.5 131.5H684.5M1082 131.5H1077M679.5 70.75H684.5M1082 70.75H1077M679.5 10H684.5M1082 10H1077" stroke="#555555" stroke-width="1.1" fill="none"/>
<rect x="83" y="487" width="462.5" height="365.5" stroke="#555555" stroke-width="1.1" fill="none"/>
<path d="M83 852.5V857.5M83 487V482M160.08 852.5V857.5M160.08 487V482M237.17 852.5V857.5M237.17 487V482M314.25 852.5V857.5M314.25 487V482M391.33 852.5V857.5M391.33 487V482M468.42 852.5V857.5M468.42 487V482M545.5 852.5V857.5M545.5 487V482M83 815.95H78M545.5 815.95H550.5M83 742.85H78M545.5 742.85H550.5M83 669.75H78M545.5 669.75H550.5M83 596.65H78M545.5 596.65H550.5M83 523.55H78M545.5 523.55H550.5" stroke="#555555" stroke-width="1.1" fill="none"/>
<rect x="681.25" y="487" width="463.25" height="365.5" stroke="#555555" stroke-width="1.1" fill="none"/>
<path d="M681.25 852.5V857.5M681.25 487V482M758.46 852.5V857.5M758.46 487V482M835.67 852.5V857.5M835.67 487V482M912.88 852.5V857.5M912.88 487V482M990.08 852.5V857.5M990.08 487V482M1067.29 852.5V857.5M1067.29 487V482M1144.5 852.5V857.5M1144.5 487V482M681.25 815.95H676.25M1144.5 815.95H1149.5M681.25 742.85H676.25M1144.5 742.85H1149.5M681.25 669.75H676.25M1144.5 669.75H1149.5M681.25 596.65H676.25M1144.5 596.65H1149.5M681.25 523.55H676.25M1144.5 523.55H1149.5" stroke="#555555" stroke-width="1.1" fill="none"/>
<line x1="83" y1="10" x2="484.5" y2="10" stroke="#000" stroke-width="1.35"/>
<line x1="83" y1="10" x2="83" y2="254.21" stroke="#000" stroke-width="1.35"/>
<line x1="484.5" y1="10" x2="484.5" y2="40.38" stroke="#000" stroke-width="1.35"/>
<line x1="679.5" y1="10" x2="1082" y2="10" stroke="#000" stroke-width="1.35"/>
<line x1="679.5" y1="10" x2="679.5" y2="374.5" stroke="#000" stroke-width="1.35"/>
<line x1="1082" y1="10" x2="1082" y2="40.38" stroke="#000" stroke-width="1.35"/>
<line x1="83" y1="487" x2="545.5" y2="487" stroke="#000" stroke-width="1.4"/>
<line x1="681.25" y1="487" x2="1144.5" y2="487" stroke="#000" stroke-width="1.4"/>
<rect x="505.2" y="10" width="31.2" height="52.03" fill="#ffff66"/>
<rect x="505.2" y="10" width="31.2" height="52.03" fill="url(#hC_f)"/>
<rect x="505.2" y="10" width="31.2" height="52.03" fill="url(#hC_b)"/>
<rect x="505.2" y="10" width="31.2" height="52.03" fill="none" stroke="#000" stroke-width="1.5"/>
<text x="543.7" y="46.21" class="t" textLength="53.6" lengthAdjust="spacing">2, 3, 4</text>
<rect x="505.2" y="62.03" width="31.2" height="52.03" fill="#d4ea66"/>
<rect x="505.2" y="62.03" width="31.2" height="52.03" fill="url(#hC_v0)"/>
<rect x="505.2" y="62.03" width="31.2" height="52.03" fill="none" stroke="#000" stroke-width="1.5"/>
<text x="543.7" y="98.24" class="t" textLength="33.5" lengthAdjust="spacing">3, 4</text>
<rect x="505.2" y="114.06" width="31.2" height="52.03" fill="#aad466"/>
<rect x="505.2" y="114.06" width="31.2" height="52.03" fill="url(#hC_b)"/>
<rect x="505.2" y="114.06" width="31.2" height="52.03" fill="none" stroke="#000" stroke-width="1.5"/>
<text x="543.7" y="150.27" class="t" textLength="33.5" lengthAdjust="spacing">2, 4</text>
<rect x="505.2" y="166.09" width="31.2" height="52.03" fill="#80bf66"/>
<rect x="505.2" y="166.09" width="31.2" height="52.03" fill="none" stroke="#000" stroke-width="1.5"/>
<text x="543.7" y="202.3" class="t">4</text>
<rect x="505.2" y="218.11" width="31.2" height="52.03" fill="#55aa66"/>
<rect x="505.2" y="218.11" width="31.2" height="52.03" fill="url(#hC_f)"/>
<rect x="505.2" y="218.11" width="31.2" height="52.03" fill="none" stroke="#000" stroke-width="1.5"/>
<text x="543.7" y="254.33" class="t" textLength="33.5" lengthAdjust="spacing">2, 3</text>
<rect x="505.2" y="270.14" width="31.2" height="52.03" fill="#2a9566"/>
<rect x="505.2" y="270.14" width="31.2" height="52.03" fill="none" stroke="#000" stroke-width="1.5"/>
<text x="543.7" y="306.36" class="t">3</text>
<rect x="505.2" y="322.17" width="31.2" height="52.03" fill="#008066"/>
<rect x="505.2" y="322.17" width="31.2" height="52.03" fill="none" stroke="#000" stroke-width="1.5"/>
<text x="543.7" y="358.39" class="t">2</text>
<rect x="1101" y="10" width="31.3" height="52.03" fill="#ffff66"/>
<rect x="1101" y="10" width="31.3" height="52.03" fill="url(#hC_f)"/>
<rect x="1101" y="10" width="31.3" height="52.03" fill="url(#hC_b)"/>
<rect x="1101" y="10" width="31.3" height="52.03" fill="none" stroke="#000" stroke-width="1.5"/>
<text x="1139.6" y="46.21" class="t" textLength="53.6" lengthAdjust="spacing">2, 3, 4</text>
<rect x="1101" y="62.03" width="31.3" height="52.03" fill="#d4ea66"/>
<rect x="1101" y="62.03" width="31.3" height="52.03" fill="url(#hC_v1)"/>
<rect x="1101" y="62.03" width="31.3" height="52.03" fill="none" stroke="#000" stroke-width="1.5"/>
<text x="1139.6" y="98.24" class="t" textLength="33.5" lengthAdjust="spacing">3, 4</text>
<rect x="1101" y="114.06" width="31.3" height="52.03" fill="#aad466"/>
<rect x="1101" y="114.06" width="31.3" height="52.03" fill="url(#hC_b)"/>
<rect x="1101" y="114.06" width="31.3" height="52.03" fill="none" stroke="#000" stroke-width="1.5"/>
<text x="1139.6" y="150.27" class="t" textLength="33.5" lengthAdjust="spacing">2, 4</text>
<rect x="1101" y="166.09" width="31.3" height="52.03" fill="#80bf66"/>
<rect x="1101" y="166.09" width="31.3" height="52.03" fill="none" stroke="#000" stroke-width="1.5"/>
<text x="1139.6" y="202.3" class="t">4</text>
<rect x="1101" y="218.11" width="31.3" height="52.03" fill="#55aa66"/>
<rect x="1101" y="218.11" width="31.3" height="52.03" fill="url(#hC_f)"/>
<rect x="1101" y="218.11" width="31.3" height="52.03" fill="none" stroke="#000" stroke-width="1.5"/>
<text x="1139.6" y="254.33" class="t" textLength="33.5" lengthAdjust="spacing">2, 3</text>
<rect x="1101" y="270.14" width="31.3" height="52.03" fill="#2a9566"/>
<rect x="1101" y="270.14" width="31.3" height="52.03" fill="none" stroke="#000" stroke-width="1.5"/>
<text x="1139.6" y="306.36" class="t">3</text>
<rect x="1101" y="322.17" width="31.3" height="52.03" fill="#008066"/>
<rect x="1101" y="322.17" width="31.3" height="52.03" fill="none" stroke="#000" stroke-width="1.5"/>
<text x="1139.6" y="358.39" class="t">2</text>
<text x="81.3" y="408.6" class="t" text-anchor="middle">-3</text>
<text x="148.22" y="408.6" class="t" text-anchor="middle">-2</text>
<text x="215.13" y="408.6" class="t" text-anchor="middle">-1</text>
<text x="283.75" y="408.6" class="t" text-anchor="middle">0</text>
<text x="350.67" y="408.6" class="t" text-anchor="middle">1</text>
<text x="417.58" y="408.6" class="t" text-anchor="middle">2</text>
<text x="484.5" y="408.6" class="t" text-anchor="middle">3</text>
<text x="677.8" y="408.6" class="t" text-anchor="middle">-3</text>
<text x="744.88" y="408.6" class="t" text-anchor="middle">-2</text>
<text x="811.97" y="408.6" class="t" text-anchor="middle">-1</text>
<text x="880.75" y="408.6" class="t" text-anchor="middle">0</text>
<text x="947.83" y="408.6" class="t" text-anchor="middle">1</text>
<text x="1014.92" y="408.6" class="t" text-anchor="middle">2</text>
<text x="1082" y="408.6" class="t" text-anchor="middle">3</text>
<text x="73" y="384.3" class="t" text-anchor="end">-6</text>
<text x="73" y="323.55" class="t" text-anchor="end">-4</text>
<text x="73" y="262.8" class="t" text-anchor="end">-2</text>
<text x="73" y="202.05" class="t" text-anchor="end">0</text>
<text x="73" y="141.3" class="t" text-anchor="end">2</text>
<text x="73" y="80.55" class="t" text-anchor="end">4</text>
<text x="73" y="19.8" class="t" text-anchor="end">6</text>
<text x="669.5" y="384.3" class="t" text-anchor="end">-6</text>
<text x="669.5" y="323.55" class="t" text-anchor="end">-4</text>
<text x="669.5" y="262.8" class="t" text-anchor="end">-2</text>
<text x="669.5" y="202.05" class="t" text-anchor="end">0</text>
<text x="669.5" y="141.3" class="t" text-anchor="end">2</text>
<text x="669.5" y="80.55" class="t" text-anchor="end">4</text>
<text x="669.5" y="19.8" class="t" text-anchor="end">6</text>
<text x="82.2" y="889.8" class="t" text-anchor="middle">-6</text>
<text x="159.28" y="889.8" class="t" text-anchor="middle">-4</text>
<text x="236.37" y="889.8" class="t" text-anchor="middle">-2</text>
<text x="309.75" y="889.8" class="t" text-anchor="middle">0</text>
<text x="386.83" y="889.8" class="t" text-anchor="middle">2</text>
<text x="463.92" y="889.8" class="t" text-anchor="middle">4</text>
<text x="541" y="889.8" class="t" text-anchor="middle">6</text>
<text x="680.45" y="889.8" class="t" text-anchor="middle">-6</text>
<text x="757.66" y="889.8" class="t" text-anchor="middle">-4</text>
<text x="834.87" y="889.8" class="t" text-anchor="middle">-2</text>
<text x="908.38" y="889.8" class="t" text-anchor="middle">0</text>
<text x="985.58" y="889.8" class="t" text-anchor="middle">2</text>
<text x="1062.79" y="889.8" class="t" text-anchor="middle">4</text>
<text x="1140" y="889.8" class="t" text-anchor="middle">6</text>
<text x="68.5" y="824.65" class="t" text-anchor="end">2</text>
<text x="68.5" y="751.55" class="t" text-anchor="end">3</text>
<text x="68.5" y="678.45" class="t" text-anchor="end">4</text>
<text x="68.5" y="605.35" class="t" text-anchor="end">5</text>
<text x="68.5" y="532.25" class="t" text-anchor="end">6</text>
<text x="666.5" y="824.65" class="t" text-anchor="end">2</text>
<text x="666.5" y="751.55" class="t" text-anchor="end">3</text>
<text x="666.5" y="678.45" class="t" text-anchor="end">4</text>
<text x="666.5" y="605.35" class="t" text-anchor="end">5</text>
<text x="666.5" y="532.25" class="t" text-anchor="end">6</text>
<text x="285.25" y="452.5" class="L" text-anchor="middle">log<tspan class="s" dy="7.5" dx="0.5">10</tspan><tspan dy="-7.5" dx="0">(</tspan><tspan font-style="italic">a</tspan><tspan class="s" dy="7.5" dx="0.5">21</tspan><tspan dy="-7.5" dx="1">)</tspan></text>
<text x="885.25" y="452.5" class="L" text-anchor="middle">log<tspan class="s" dy="7.5" dx="0.5">10</tspan><tspan dy="-7.5" dx="0">(</tspan><tspan font-style="italic">a</tspan><tspan class="s" dy="7.5" dx="0.5">21</tspan><tspan dy="-7.5" dx="1">)</tspan></text>
<text x="315.25" y="924.4" class="L" text-anchor="middle">log<tspan class="s" dy="7.5" dx="0.5">10</tspan><tspan dy="-7.5" dx="0">(</tspan><tspan font-style="italic">a</tspan><tspan class="s" dy="7.5" dx="0.5">12</tspan><tspan dy="-7.5" dx="1">)</tspan></text>
<text x="912.88" y="924.4" class="L" text-anchor="middle">log<tspan class="s" dy="7.5" dx="0.5">10</tspan><tspan dy="-7.5" dx="0">(</tspan><tspan font-style="italic">a</tspan><tspan class="s" dy="7.5" dx="0.5">12</tspan><tspan dy="-7.5" dx="1">)</tspan></text>
<g transform="translate(27 188) rotate(-90)"><text x="0" y="0" class="L" text-anchor="middle">log<tspan class="s" dy="7.5" dx="0.5">10</tspan><tspan dy="-7.5" dx="0">(</tspan><tspan font-style="italic">a</tspan><tspan class="s" dy="7.5" dx="0.5">12</tspan><tspan dy="-7.5" dx="1">)</tspan></text></g>
<text transform="translate(26 667.7) rotate(-90)" class="L" text-anchor="middle" style="font-size:31.7px">Food chain length</text>
<text x="95.5" y="42" class="P" fill="#e6eeea">A</text>
<text x="692.5" y="42" class="P" fill="#e6eeea">B</text>
<text x="96" y="519" class="P" fill="#111">C</text>
<text x="693.5" y="518" class="P" fill="#111">D</text></svg>
</body></html>
